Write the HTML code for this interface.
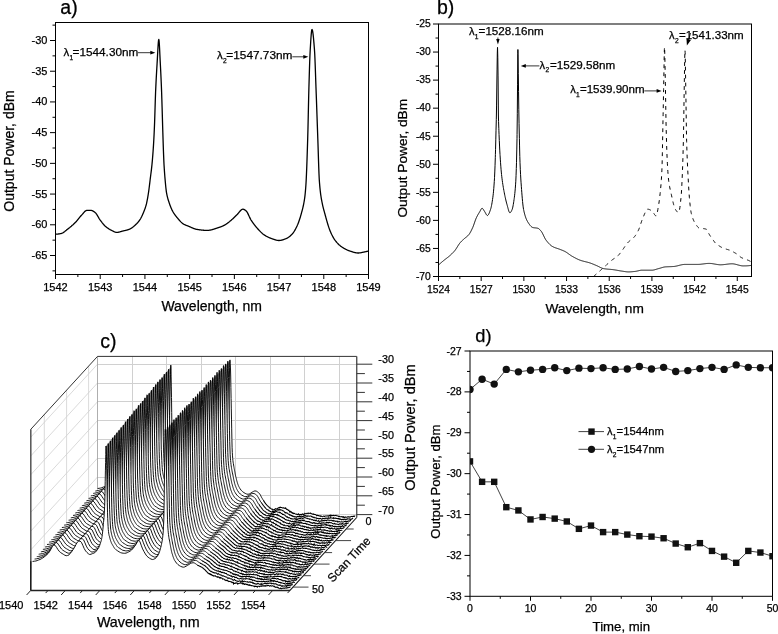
<!DOCTYPE html>
<html><head><meta charset="utf-8"><style>
html,body{margin:0;padding:0;background:#fff;}
svg{display:block;will-change:transform;}
text{font-family:"Liberation Sans",sans-serif;fill:#000;stroke:#000;stroke-width:0.25px;}
</style></head><body>
<svg width="778" height="634" viewBox="0 0 778 634">
<rect width="778" height="634" fill="#fff"/>
<rect x="55.5" y="22.5" width="313.0" height="252.0" fill="none" stroke="#000" stroke-width="1"/>
<line x1="50.00" y1="255.50" x2="55.50" y2="255.50" stroke="#000" stroke-width="1"/>
<text x="47.50" y="259.00" font-size="11" text-anchor="end" >-65</text>
<line x1="50.00" y1="224.79" x2="55.50" y2="224.79" stroke="#000" stroke-width="1"/>
<text x="47.50" y="228.29" font-size="11" text-anchor="end" >-60</text>
<line x1="50.00" y1="194.07" x2="55.50" y2="194.07" stroke="#000" stroke-width="1"/>
<text x="47.50" y="197.57" font-size="11" text-anchor="end" >-55</text>
<line x1="50.00" y1="163.36" x2="55.50" y2="163.36" stroke="#000" stroke-width="1"/>
<text x="47.50" y="166.86" font-size="11" text-anchor="end" >-50</text>
<line x1="50.00" y1="132.64" x2="55.50" y2="132.64" stroke="#000" stroke-width="1"/>
<text x="47.50" y="136.14" font-size="11" text-anchor="end" >-45</text>
<line x1="50.00" y1="101.93" x2="55.50" y2="101.93" stroke="#000" stroke-width="1"/>
<text x="47.50" y="105.43" font-size="11" text-anchor="end" >-40</text>
<line x1="50.00" y1="71.22" x2="55.50" y2="71.22" stroke="#000" stroke-width="1"/>
<text x="47.50" y="74.72" font-size="11" text-anchor="end" >-35</text>
<line x1="50.00" y1="40.50" x2="55.50" y2="40.50" stroke="#000" stroke-width="1"/>
<text x="47.50" y="44.00" font-size="11" text-anchor="end" >-30</text>
<line x1="52.50" y1="270.86" x2="55.50" y2="270.86" stroke="#000" stroke-width="1"/>
<line x1="52.50" y1="240.15" x2="55.50" y2="240.15" stroke="#000" stroke-width="1"/>
<line x1="52.50" y1="209.43" x2="55.50" y2="209.43" stroke="#000" stroke-width="1"/>
<line x1="52.50" y1="178.72" x2="55.50" y2="178.72" stroke="#000" stroke-width="1"/>
<line x1="52.50" y1="148.00" x2="55.50" y2="148.00" stroke="#000" stroke-width="1"/>
<line x1="52.50" y1="117.29" x2="55.50" y2="117.29" stroke="#000" stroke-width="1"/>
<line x1="52.50" y1="86.57" x2="55.50" y2="86.57" stroke="#000" stroke-width="1"/>
<line x1="52.50" y1="55.86" x2="55.50" y2="55.86" stroke="#000" stroke-width="1"/>
<line x1="52.50" y1="25.14" x2="55.50" y2="25.14" stroke="#000" stroke-width="1"/>
<line x1="55.50" y1="274.50" x2="55.50" y2="279.00" stroke="#000" stroke-width="1"/>
<text x="55.50" y="290.60" font-size="11" text-anchor="middle" >1542</text>
<line x1="100.21" y1="274.50" x2="100.21" y2="279.00" stroke="#000" stroke-width="1"/>
<text x="100.21" y="290.60" font-size="11" text-anchor="middle" >1543</text>
<line x1="144.93" y1="274.50" x2="144.93" y2="279.00" stroke="#000" stroke-width="1"/>
<text x="144.93" y="290.60" font-size="11" text-anchor="middle" >1544</text>
<line x1="189.64" y1="274.50" x2="189.64" y2="279.00" stroke="#000" stroke-width="1"/>
<text x="189.64" y="290.60" font-size="11" text-anchor="middle" >1545</text>
<line x1="234.36" y1="274.50" x2="234.36" y2="279.00" stroke="#000" stroke-width="1"/>
<text x="234.36" y="290.60" font-size="11" text-anchor="middle" >1546</text>
<line x1="279.07" y1="274.50" x2="279.07" y2="279.00" stroke="#000" stroke-width="1"/>
<text x="279.07" y="290.60" font-size="11" text-anchor="middle" >1547</text>
<line x1="323.79" y1="274.50" x2="323.79" y2="279.00" stroke="#000" stroke-width="1"/>
<text x="323.79" y="290.60" font-size="11" text-anchor="middle" >1548</text>
<line x1="368.50" y1="274.50" x2="368.50" y2="279.00" stroke="#000" stroke-width="1"/>
<text x="368.50" y="290.60" font-size="11" text-anchor="middle" >1549</text>
<line x1="77.86" y1="274.50" x2="77.86" y2="277.00" stroke="#000" stroke-width="1"/>
<line x1="122.57" y1="274.50" x2="122.57" y2="277.00" stroke="#000" stroke-width="1"/>
<line x1="167.29" y1="274.50" x2="167.29" y2="277.00" stroke="#000" stroke-width="1"/>
<line x1="212.00" y1="274.50" x2="212.00" y2="277.00" stroke="#000" stroke-width="1"/>
<line x1="256.71" y1="274.50" x2="256.71" y2="277.00" stroke="#000" stroke-width="1"/>
<line x1="301.43" y1="274.50" x2="301.43" y2="277.00" stroke="#000" stroke-width="1"/>
<line x1="346.14" y1="274.50" x2="346.14" y2="277.00" stroke="#000" stroke-width="1"/>
<path d="M55.50,234.20 L55.75,234.20 L56.00,234.19 L56.25,234.18 L56.50,234.17 L56.75,234.16 L57.00,234.14 L57.25,234.12 L57.50,234.10 L57.75,234.07 L58.00,234.04 L58.25,234.01 L58.50,233.98 L58.75,233.94 L59.00,233.90 L59.25,233.86 L59.50,233.82 L59.75,233.78 L60.00,233.73 L60.25,233.69 L60.50,233.64 L60.75,233.59 L61.00,233.54 L61.20,233.50 L61.25,233.49 L61.50,233.42 L61.75,233.34 L62.01,233.25 L62.26,233.14 L62.51,233.02 L62.76,232.88 L63.01,232.73 L63.26,232.58 L63.51,232.41 L63.76,232.23 L64.01,232.05 L64.26,231.86 L64.51,231.67 L64.76,231.47 L65.01,231.26 L65.26,231.06 L65.51,230.85 L65.76,230.64 L66.01,230.43 L66.26,230.23 L66.51,230.02 L66.76,229.82 L67.01,229.62 L67.26,229.43 L67.30,229.40 L67.51,229.24 L67.76,229.05 L68.01,228.86 L68.26,228.67 L68.51,228.47 L68.76,228.28 L69.01,228.08 L69.26,227.88 L69.51,227.68 L69.76,227.48 L70.01,227.27 L70.26,227.07 L70.51,226.86 L70.76,226.65 L71.01,226.44 L71.26,226.23 L71.51,226.01 L71.76,225.79 L72.01,225.57 L72.26,225.35 L72.51,225.13 L72.76,224.91 L73.01,224.68 L73.26,224.45 L73.51,224.22 L73.76,223.98 L74.01,223.75 L74.26,223.51 L74.52,223.27 L74.77,223.03 L75.02,222.78 L75.27,222.53 L75.52,222.28 L75.60,222.20 L75.77,222.03 L76.02,221.77 L76.27,221.49 L76.52,221.21 L76.77,220.92 L77.02,220.63 L77.27,220.33 L77.52,220.02 L77.77,219.71 L78.02,219.40 L78.27,219.08 L78.52,218.77 L78.77,218.45 L79.02,218.13 L79.27,217.82 L79.52,217.50 L79.77,217.19 L80.02,216.89 L80.27,216.59 L80.52,216.29 L80.77,216.00 L81.02,215.72 L81.27,215.45 L81.52,215.18 L81.70,215.00 L81.77,214.93 L82.02,214.66 L82.27,214.39 L82.52,214.10 L82.77,213.81 L83.02,213.52 L83.27,213.22 L83.52,212.93 L83.77,212.63 L84.02,212.35 L84.27,212.07 L84.52,211.81 L84.77,211.56 L85.02,211.33 L85.27,211.12 L85.52,210.93 L85.77,210.76 L86.02,210.62 L86.27,210.52 L86.52,210.44 L86.77,210.40 L86.90,210.40 L87.03,210.40 L87.28,210.40 L87.53,210.40 L87.78,210.40 L88.03,210.40 L88.28,210.40 L88.53,210.40 L88.78,210.40 L89.03,210.40 L89.28,210.40 L89.53,210.40 L89.78,210.40 L90.03,210.40 L90.28,210.40 L90.53,210.40 L90.78,210.40 L91.00,210.40 L91.03,210.40 L91.28,210.41 L91.53,210.45 L91.78,210.51 L92.03,210.59 L92.28,210.68 L92.53,210.79 L92.78,210.92 L93.03,211.05 L93.28,211.20 L93.53,211.36 L93.78,211.53 L94.03,211.71 L94.28,211.89 L94.53,212.07 L94.78,212.26 L95.03,212.45 L95.10,212.50 L95.28,212.65 L95.53,212.88 L95.78,213.15 L96.03,213.45 L96.28,213.78 L96.53,214.13 L96.78,214.51 L97.03,214.90 L97.28,215.31 L97.53,215.73 L97.78,216.16 L98.03,216.60 L98.28,217.04 L98.53,217.47 L98.78,217.90 L99.03,218.33 L99.28,218.74 L99.54,219.14 L99.79,219.52 L100.04,219.88 L100.20,220.10 L100.29,220.21 L100.54,220.55 L100.79,220.88 L101.04,221.21 L101.29,221.55 L101.54,221.88 L101.79,222.21 L102.04,222.53 L102.29,222.86 L102.54,223.17 L102.79,223.49 L103.04,223.80 L103.29,224.10 L103.54,224.39 L103.79,224.68 L104.04,224.96 L104.29,225.23 L104.54,225.49 L104.79,225.74 L105.04,225.98 L105.29,226.20 L105.40,226.30 L105.54,226.42 L105.79,226.63 L106.04,226.83 L106.29,227.04 L106.54,227.23 L106.79,227.43 L107.04,227.62 L107.29,227.80 L107.54,227.98 L107.79,228.16 L108.04,228.33 L108.29,228.50 L108.54,228.66 L108.79,228.83 L109.04,228.98 L109.29,229.14 L109.54,229.29 L109.79,229.44 L110.04,229.58 L110.29,229.72 L110.54,229.86 L110.79,229.99 L111.04,230.12 L111.29,230.25 L111.54,230.37 L111.60,230.40 L111.79,230.50 L112.05,230.62 L112.30,230.75 L112.55,230.89 L112.80,231.02 L113.05,231.15 L113.30,231.29 L113.55,231.41 L113.80,231.54 L114.05,231.66 L114.30,231.78 L114.55,231.89 L114.80,231.99 L115.05,232.08 L115.30,232.17 L115.55,232.24 L115.80,232.30 L116.05,232.35 L116.30,232.38 L116.55,232.40 L116.70,232.40 L116.80,232.40 L117.05,232.39 L117.30,232.38 L117.55,232.35 L117.80,232.32 L118.05,232.29 L118.30,232.24 L118.55,232.19 L118.80,232.14 L119.05,232.08 L119.30,232.02 L119.55,231.96 L119.80,231.89 L120.05,231.82 L120.30,231.74 L120.55,231.67 L120.80,231.60 L121.05,231.52 L121.30,231.44 L121.55,231.37 L121.80,231.30 L122.05,231.22 L122.30,231.15 L122.55,231.09 L122.80,231.02 L122.90,231.00 L123.05,230.96 L123.30,230.90 L123.55,230.85 L123.80,230.79 L124.05,230.73 L124.30,230.68 L124.56,230.62 L124.81,230.57 L125.06,230.51 L125.31,230.45 L125.56,230.40 L125.81,230.34 L126.06,230.28 L126.31,230.22 L126.56,230.16 L126.81,230.09 L127.06,230.02 L127.31,229.95 L127.56,229.88 L127.81,229.81 L128.06,229.73 L128.31,229.65 L128.56,229.56 L128.81,229.47 L129.00,229.40 L129.06,229.38 L129.31,229.28 L129.56,229.17 L129.81,229.05 L130.06,228.92 L130.31,228.79 L130.56,228.65 L130.81,228.50 L131.06,228.34 L131.31,228.18 L131.56,228.02 L131.81,227.84 L132.06,227.67 L132.31,227.48 L132.56,227.30 L132.81,227.11 L133.06,226.91 L133.31,226.71 L133.56,226.51 L133.81,226.30 L134.06,226.10 L134.31,225.89 L134.56,225.67 L134.81,225.46 L135.00,225.30 L135.06,225.25 L135.31,225.03 L135.56,224.80 L135.81,224.57 L136.06,224.33 L136.31,224.09 L136.56,223.84 L136.81,223.58 L137.07,223.32 L137.32,223.04 L137.57,222.77 L137.82,222.48 L138.07,222.18 L138.32,221.88 L138.57,221.57 L138.82,221.25 L139.07,220.92 L139.32,220.58 L139.57,220.23 L139.82,219.87 L140.00,219.60 L140.07,219.50 L140.32,219.11 L140.57,218.69 L140.82,218.26 L141.07,217.80 L141.32,217.32 L141.57,216.83 L141.82,216.31 L142.07,215.78 L142.32,215.24 L142.57,214.68 L142.82,214.11 L143.07,213.52 L143.32,212.93 L143.50,212.50 L143.57,212.33 L143.82,211.72 L144.07,211.10 L144.32,210.47 L144.57,209.82 L144.82,209.14 L145.07,208.43 L145.32,207.69 L145.57,206.91 L145.82,206.09 L146.07,205.22 L146.32,204.30 L146.40,204.00 L146.57,203.30 L146.82,202.20 L147.07,200.98 L147.32,199.67 L147.57,198.28 L147.82,196.82 L148.07,195.30 L148.32,193.73 L148.50,192.60 L148.57,192.11 L148.82,190.36 L149.07,188.47 L149.32,186.48 L149.58,184.43 L149.83,182.33 L150.08,180.24 L150.30,178.40 L150.33,178.19 L150.58,176.21 L150.83,174.27 L151.08,172.32 L151.33,170.31 L151.58,168.18 L151.83,165.90 L152.00,164.20 L152.08,163.41 L152.33,160.71 L152.58,157.80 L152.83,154.67 L153.08,151.29 L153.33,147.66 L153.50,145.00 L153.58,143.73 L153.83,139.33 L154.08,134.41 L154.33,128.99 L154.50,125.00 L154.58,123.00 L154.83,115.60 L155.08,107.35 L155.33,99.25 L155.58,92.28 L155.60,91.80 L155.83,86.60 L156.08,81.40 L156.33,76.59 L156.58,72.09 L156.83,67.82 L157.08,63.71 L157.10,63.40 L157.33,59.39 L157.58,54.70 L157.83,50.04 L158.08,45.79 L158.33,42.34 L158.58,40.09 L158.80,39.40 L158.83,39.42 L159.08,40.83 L159.33,44.07 L159.58,48.57 L159.83,53.77 L160.08,59.11 L160.30,63.40 L160.33,64.03 L160.58,68.80 L160.83,73.84 L161.08,79.24 L161.33,85.06 L161.58,91.40 L161.60,91.80 L161.83,98.73 L162.09,107.18 L162.34,116.02 L162.59,124.53 L162.60,125.00 L162.84,132.69 L163.09,140.77 L163.34,148.25 L163.40,150.00 L163.59,154.90 L163.84,160.91 L164.00,164.20 L164.09,165.73 L164.34,169.77 L164.59,173.31 L164.84,176.48 L165.00,178.40 L165.09,179.41 L165.34,182.24 L165.59,184.94 L165.84,187.45 L166.09,189.69 L166.34,191.59 L166.50,192.60 L166.59,193.10 L166.84,194.41 L167.09,195.60 L167.34,196.69 L167.59,197.69 L167.84,198.61 L168.09,199.47 L168.34,200.28 L168.59,201.06 L168.84,201.82 L169.09,202.57 L169.10,202.60 L169.34,203.32 L169.59,204.04 L169.84,204.74 L170.09,205.43 L170.34,206.09 L170.59,206.73 L170.84,207.35 L171.09,207.95 L171.34,208.53 L171.59,209.08 L171.84,209.62 L172.09,210.13 L172.34,210.62 L172.59,211.09 L172.60,211.10 L172.84,211.54 L173.09,211.97 L173.34,212.40 L173.59,212.81 L173.84,213.20 L174.09,213.59 L174.34,213.97 L174.60,214.34 L174.85,214.70 L175.10,215.05 L175.35,215.39 L175.60,215.72 L175.85,216.05 L176.10,216.37 L176.35,216.68 L176.60,216.99 L176.85,217.30 L177.10,217.60 L177.35,217.90 L177.60,218.20 L177.60,218.20 L177.85,218.49 L178.10,218.79 L178.35,219.08 L178.60,219.38 L178.85,219.67 L179.10,219.96 L179.35,220.24 L179.60,220.53 L179.85,220.80 L180.10,221.08 L180.35,221.35 L180.60,221.61 L180.85,221.87 L181.10,222.11 L181.35,222.36 L181.60,222.59 L181.85,222.81 L182.10,223.03 L182.35,223.23 L182.60,223.42 L182.85,223.60 L183.10,223.77 L183.30,223.90 L183.35,223.93 L183.60,224.08 L183.85,224.22 L184.10,224.36 L184.35,224.49 L184.60,224.61 L184.85,224.73 L185.10,224.85 L185.35,224.96 L185.60,225.07 L185.85,225.18 L186.10,225.28 L186.35,225.38 L186.60,225.48 L186.85,225.58 L187.11,225.67 L187.36,225.77 L187.61,225.87 L187.86,225.96 L188.11,226.06 L188.36,226.16 L188.61,226.26 L188.70,226.30 L188.86,226.36 L189.11,226.47 L189.36,226.58 L189.61,226.69 L189.86,226.80 L190.11,226.91 L190.36,227.02 L190.61,227.13 L190.86,227.25 L191.11,227.36 L191.36,227.47 L191.61,227.59 L191.86,227.70 L192.11,227.81 L192.36,227.92 L192.61,228.03 L192.86,228.13 L193.11,228.24 L193.36,228.34 L193.61,228.44 L193.86,228.54 L194.11,228.63 L194.36,228.72 L194.61,228.81 L194.86,228.89 L195.11,228.97 L195.36,229.05 L195.61,229.12 L195.86,229.19 L196.11,229.25 L196.36,229.30 L196.61,229.35 L196.86,229.39 L196.90,229.40 L197.11,229.43 L197.36,229.47 L197.61,229.51 L197.86,229.55 L198.11,229.59 L198.36,229.63 L198.61,229.66 L198.86,229.70 L199.11,229.73 L199.36,229.77 L199.62,229.80 L199.87,229.84 L200.12,229.87 L200.37,229.90 L200.62,229.94 L200.87,229.97 L201.12,230.00 L201.37,230.03 L201.62,230.06 L201.87,230.08 L202.12,230.11 L202.37,230.14 L202.62,230.16 L202.87,230.18 L203.12,230.21 L203.37,230.23 L203.62,230.25 L203.87,230.27 L204.12,230.29 L204.37,230.30 L204.62,230.32 L204.87,230.33 L205.12,230.35 L205.37,230.36 L205.62,230.37 L205.87,230.38 L206.12,230.39 L206.37,230.39 L206.62,230.40 L206.87,230.40 L207.12,230.40 L207.20,230.40 L207.37,230.40 L207.62,230.39 L207.87,230.38 L208.12,230.37 L208.37,230.35 L208.62,230.33 L208.87,230.30 L209.12,230.27 L209.37,230.23 L209.62,230.19 L209.87,230.15 L210.12,230.11 L210.37,230.06 L210.62,230.01 L210.87,229.95 L211.12,229.90 L211.37,229.84 L211.62,229.77 L211.87,229.71 L212.13,229.64 L212.38,229.57 L212.63,229.50 L212.88,229.43 L213.13,229.35 L213.38,229.28 L213.63,229.20 L213.88,229.12 L214.13,229.04 L214.38,228.96 L214.63,228.88 L214.88,228.80 L215.13,228.71 L215.38,228.63 L215.63,228.55 L215.88,228.46 L216.13,228.38 L216.38,228.29 L216.63,228.21 L216.88,228.13 L217.13,228.04 L217.38,227.96 L217.63,227.88 L217.88,227.80 L218.13,227.72 L218.20,227.70 L218.38,227.64 L218.63,227.56 L218.88,227.48 L219.13,227.40 L219.38,227.32 L219.63,227.23 L219.88,227.14 L220.13,227.05 L220.38,226.96 L220.63,226.87 L220.88,226.77 L221.13,226.68 L221.38,226.58 L221.63,226.48 L221.88,226.37 L222.13,226.27 L222.38,226.16 L222.63,226.05 L222.88,225.94 L223.13,225.82 L223.38,225.70 L223.63,225.58 L223.88,225.46 L224.13,225.34 L224.38,225.21 L224.40,225.20 L224.64,225.08 L224.89,224.94 L225.14,224.79 L225.39,224.64 L225.64,224.49 L225.89,224.32 L226.14,224.16 L226.39,223.99 L226.64,223.81 L226.89,223.63 L227.14,223.45 L227.39,223.27 L227.64,223.08 L227.89,222.89 L228.14,222.69 L228.39,222.49 L228.64,222.30 L228.89,222.10 L229.14,221.89 L229.39,221.69 L229.64,221.49 L229.89,221.28 L230.14,221.08 L230.39,220.87 L230.60,220.70 L230.64,220.67 L230.89,220.46 L231.14,220.25 L231.39,220.03 L231.64,219.81 L231.89,219.59 L232.14,219.36 L232.39,219.13 L232.64,218.90 L232.89,218.66 L233.14,218.43 L233.39,218.19 L233.64,217.95 L233.89,217.71 L234.14,217.46 L234.39,217.22 L234.64,216.98 L234.89,216.73 L235.14,216.49 L235.39,216.25 L235.64,216.00 L235.89,215.76 L236.14,215.52 L236.39,215.29 L236.64,215.05 L236.70,215.00 L236.89,214.81 L237.15,214.56 L237.40,214.29 L237.65,214.00 L237.90,213.71 L238.15,213.41 L238.40,213.10 L238.65,212.79 L238.90,212.48 L239.15,212.16 L239.40,211.86 L239.65,211.56 L239.90,211.26 L240.15,210.98 L240.40,210.71 L240.65,210.45 L240.90,210.21 L241.15,210.00 L241.40,209.80 L241.65,209.62 L241.90,209.48 L242.15,209.36 L242.40,209.27 L242.65,209.22 L242.90,209.20 L242.90,209.20 L243.15,209.22 L243.40,209.26 L243.65,209.33 L243.90,209.42 L244.15,209.54 L244.40,209.67 L244.65,209.82 L244.90,209.99 L245.15,210.16 L245.40,210.34 L245.65,210.53 L245.90,210.72 L246.00,210.80 L246.15,210.93 L246.40,211.18 L246.65,211.49 L246.90,211.84 L247.15,212.23 L247.40,212.66 L247.65,213.12 L247.90,213.61 L248.15,214.12 L248.40,214.65 L248.65,215.18 L248.90,215.73 L249.15,216.28 L249.40,216.83 L249.66,217.37 L249.91,217.89 L250.16,218.40 L250.41,218.89 L250.66,219.36 L250.91,219.79 L251.10,220.10 L251.16,220.19 L251.41,220.57 L251.66,220.95 L251.91,221.32 L252.16,221.69 L252.41,222.05 L252.66,222.41 L252.91,222.77 L253.16,223.12 L253.41,223.47 L253.66,223.81 L253.91,224.15 L254.16,224.48 L254.41,224.81 L254.66,225.14 L254.91,225.46 L255.16,225.77 L255.41,226.08 L255.66,226.39 L255.91,226.70 L256.16,226.99 L256.41,227.29 L256.66,227.58 L256.91,227.86 L257.16,228.15 L257.30,228.30 L257.41,228.42 L257.66,228.70 L257.91,228.98 L258.16,229.25 L258.41,229.52 L258.66,229.80 L258.91,230.07 L259.16,230.33 L259.41,230.60 L259.66,230.86 L259.91,231.12 L260.16,231.38 L260.41,231.63 L260.66,231.89 L260.91,232.13 L261.16,232.37 L261.41,232.61 L261.66,232.85 L261.91,233.08 L262.17,233.30 L262.42,233.52 L262.67,233.73 L262.92,233.94 L263.17,234.14 L263.42,234.34 L263.67,234.52 L263.92,234.71 L264.17,234.88 L264.42,235.05 L264.50,235.10 L264.67,235.21 L264.92,235.36 L265.17,235.52 L265.42,235.67 L265.67,235.82 L265.92,235.96 L266.17,236.11 L266.42,236.25 L266.67,236.38 L266.92,236.52 L267.17,236.65 L267.42,236.78 L267.67,236.91 L267.92,237.03 L268.17,237.15 L268.42,237.27 L268.67,237.39 L268.92,237.50 L269.17,237.61 L269.42,237.72 L269.67,237.83 L269.92,237.93 L270.17,238.03 L270.42,238.13 L270.67,238.23 L270.92,238.32 L271.17,238.41 L271.42,238.50 L271.67,238.59 L271.70,238.60 L271.92,238.68 L272.17,238.76 L272.42,238.85 L272.67,238.94 L272.92,239.03 L273.17,239.13 L273.42,239.22 L273.67,239.31 L273.92,239.40 L274.17,239.48 L274.42,239.57 L274.68,239.66 L274.93,239.74 L275.18,239.82 L275.43,239.90 L275.68,239.97 L275.93,240.04 L276.18,240.11 L276.43,240.17 L276.68,240.23 L276.93,240.28 L277.18,240.33 L277.43,240.38 L277.68,240.41 L277.93,240.44 L278.18,240.47 L278.43,240.49 L278.68,240.50 L278.90,240.50 L278.93,240.50 L279.18,240.50 L279.43,240.49 L279.68,240.47 L279.93,240.44 L280.18,240.42 L280.43,240.38 L280.68,240.34 L280.93,240.29 L281.18,240.24 L281.43,240.19 L281.68,240.13 L281.93,240.07 L282.18,240.00 L282.43,239.93 L282.68,239.85 L282.93,239.77 L283.18,239.69 L283.43,239.61 L283.68,239.52 L283.93,239.43 L284.18,239.34 L284.43,239.25 L284.68,239.15 L284.93,239.06 L285.18,238.96 L285.43,238.86 L285.68,238.76 L285.93,238.67 L286.10,238.60 L286.18,238.57 L286.43,238.46 L286.68,238.35 L286.93,238.22 L287.19,238.09 L287.44,237.95 L287.69,237.81 L287.94,237.65 L288.19,237.49 L288.44,237.32 L288.69,237.15 L288.94,236.97 L289.19,236.78 L289.44,236.58 L289.69,236.38 L289.94,236.17 L290.19,235.95 L290.44,235.73 L290.69,235.50 L290.94,235.27 L291.19,235.03 L291.44,234.79 L291.69,234.53 L291.94,234.28 L292.19,234.02 L292.30,233.90 L292.44,233.75 L292.69,233.46 L292.94,233.16 L293.19,232.83 L293.44,232.49 L293.69,232.14 L293.94,231.76 L294.19,231.37 L294.44,230.97 L294.69,230.55 L294.94,230.11 L295.19,229.66 L295.44,229.20 L295.69,228.73 L295.94,228.24 L296.19,227.75 L296.44,227.24 L296.69,226.72 L296.94,226.19 L297.19,225.65 L297.40,225.20 L297.44,225.10 L297.69,224.54 L297.94,223.94 L298.19,223.32 L298.44,222.67 L298.69,221.99 L298.94,221.30 L299.19,220.57 L299.44,219.83 L299.70,219.06 L299.95,218.27 L300.20,217.45 L300.45,216.62 L300.70,215.77 L300.95,214.90 L301.20,214.01 L301.45,213.10 L301.50,212.90 L301.70,212.18 L301.95,211.26 L302.20,210.32 L302.45,209.37 L302.70,208.38 L302.95,207.34 L303.20,206.24 L303.45,205.08 L303.70,203.83 L303.95,202.50 L304.20,201.05 L304.45,199.50 L304.60,198.50 L304.70,197.81 L304.95,195.83 L305.20,193.51 L305.45,190.83 L305.70,187.76 L305.90,185.00 L305.95,184.25 L306.20,179.90 L306.45,174.59 L306.70,168.48 L306.95,161.68 L307.20,154.34 L307.45,146.59 L307.70,138.60 L307.70,138.55 L307.95,129.20 L308.20,118.19 L308.45,106.63 L308.70,95.64 L308.90,88.10 L308.95,86.29 L309.20,77.66 L309.45,69.34 L309.70,61.73 L309.95,55.20 L310.20,50.20 L310.20,50.14 L310.45,45.92 L310.70,41.83 L310.95,38.05 L311.20,34.75 L311.45,32.11 L311.70,30.30 L311.95,29.52 L312.00,29.50 L312.21,29.69 L312.46,30.43 L312.71,31.65 L312.96,33.32 L313.21,35.38 L313.46,37.77 L313.71,40.45 L313.96,43.35 L314.21,46.44 L314.46,49.64 L314.50,50.20 L314.71,53.52 L314.96,58.92 L315.21,65.43 L315.46,72.58 L315.71,79.91 L315.96,86.97 L316.00,88.10 L316.21,93.70 L316.46,100.60 L316.71,107.63 L316.96,114.74 L317.21,121.89 L317.46,129.01 L317.71,136.07 L317.80,138.60 L317.96,143.23 L318.21,151.02 L318.46,158.99 L318.71,166.60 L318.96,173.30 L319.21,178.57 L319.30,180.00 L319.46,182.24 L319.71,185.37 L319.96,188.12 L320.21,190.54 L320.46,192.67 L320.71,194.56 L320.96,196.26 L321.00,196.50 L321.21,197.82 L321.46,199.30 L321.71,200.69 L321.96,202.00 L322.21,203.23 L322.46,204.41 L322.71,205.52 L322.96,206.59 L323.21,207.61 L323.46,208.59 L323.71,209.55 L323.96,210.48 L324.21,211.40 L324.46,212.31 L324.72,213.22 L324.97,214.13 L325.20,215.00 L325.22,215.06 L325.47,215.99 L325.72,216.92 L325.97,217.84 L326.22,218.75 L326.47,219.65 L326.72,220.55 L326.97,221.43 L327.22,222.30 L327.47,223.15 L327.72,223.99 L327.97,224.81 L328.22,225.61 L328.47,226.40 L328.72,227.16 L328.97,227.90 L329.22,228.61 L329.47,229.30 L329.72,229.97 L329.97,230.60 L330.22,231.21 L330.30,231.40 L330.47,231.79 L330.72,232.36 L330.97,232.92 L331.22,233.46 L331.47,233.99 L331.72,234.52 L331.97,235.02 L332.22,235.52 L332.47,236.00 L332.72,236.47 L332.97,236.93 L333.22,237.38 L333.47,237.81 L333.72,238.23 L333.97,238.64 L334.22,239.03 L334.47,239.41 L334.72,239.78 L334.97,240.13 L335.22,240.47 L335.40,240.70 L335.47,240.79 L335.72,241.11 L335.97,241.42 L336.22,241.73 L336.47,242.03 L336.72,242.32 L336.97,242.61 L337.23,242.89 L337.48,243.16 L337.73,243.43 L337.98,243.69 L338.23,243.95 L338.48,244.20 L338.73,244.44 L338.98,244.68 L339.23,244.91 L339.48,245.13 L339.73,245.35 L339.98,245.57 L340.23,245.77 L340.48,245.97 L340.73,246.17 L340.98,246.36 L341.23,246.54 L341.48,246.72 L341.60,246.80 L341.73,246.89 L341.98,247.06 L342.23,247.22 L342.48,247.39 L342.73,247.55 L342.98,247.71 L343.23,247.86 L343.48,248.02 L343.73,248.17 L343.98,248.32 L344.23,248.46 L344.48,248.60 L344.73,248.74 L344.98,248.88 L345.23,249.02 L345.48,249.15 L345.73,249.28 L345.98,249.41 L346.23,249.53 L346.48,249.65 L346.73,249.77 L346.98,249.89 L347.23,250.00 L347.48,250.11 L347.73,250.22 L347.98,250.33 L348.23,250.43 L348.48,250.53 L348.73,250.62 L348.98,250.72 L349.23,250.81 L349.48,250.89 L349.74,250.98 L349.80,251.00 L349.99,251.06 L350.24,251.14 L350.49,251.23 L350.74,251.31 L350.99,251.40 L351.24,251.48 L351.49,251.57 L351.74,251.65 L351.99,251.73 L352.24,251.81 L352.49,251.90 L352.74,251.98 L352.99,252.06 L353.24,252.13 L353.49,252.21 L353.74,252.28 L353.99,252.35 L354.24,252.42 L354.49,252.48 L354.74,252.55 L354.99,252.61 L355.24,252.66 L355.49,252.72 L355.74,252.76 L355.99,252.81 L356.24,252.85 L356.49,252.89 L356.74,252.92 L356.99,252.94 L357.24,252.97 L357.49,252.98 L357.74,252.99 L357.99,253.00 L358.10,253.00 L358.24,253.00 L358.49,252.99 L358.74,252.98 L358.99,252.96 L359.24,252.94 L359.49,252.92 L359.74,252.88 L359.99,252.85 L360.24,252.81 L360.49,252.77 L360.74,252.73 L360.99,252.68 L361.24,252.63 L361.49,252.58 L361.74,252.53 L361.99,252.47 L362.25,252.42 L362.50,252.36 L362.75,252.31 L363.00,252.25 L363.25,252.20 L363.50,252.14 L363.75,252.09 L364.00,252.04 L364.20,252.00 L364.25,251.99 L364.50,251.94 L364.75,251.89 L365.00,251.84 L365.25,251.78 L365.50,251.73 L365.75,251.67 L366.00,251.62 L366.25,251.56 L366.50,251.50 L366.75,251.44 L367.00,251.38 L367.25,251.32 L367.50,251.26 L367.75,251.19 L368.00,251.13 L368.25,251.07 L368.50,251.00" fill="none" stroke="#000" stroke-width="1.3" stroke-linejoin="round"/>
<text x="60.30" y="13.90" font-size="19.5" text-anchor="start" >a)</text>
<text transform="translate(14.3,151) rotate(-90)" font-size="14" text-anchor="middle">Output Power, dBm</text>
<text x="211.70" y="311.30" font-size="14" text-anchor="middle" >Wavelength, nm</text>
<text x="63.40" y="55.90" font-size="11.5">λ</text>
<text x="69.38" y="59.80" font-size="6.6">1</text>
<text x="72.60" y="55.90" font-size="11.5" textLength="65.70" lengthAdjust="spacingAndGlyphs" >=1544.30nm</text>
<line x1="138.00" y1="52.70" x2="151.30" y2="52.70" stroke="#000" stroke-width="0.8"/>
<path d="M155.30,52.70 L150.30,54.60 L150.30,50.80 Z" fill="#000"/>
<text x="216.90" y="59.20" font-size="11.5">λ</text>
<text x="222.88" y="63.10" font-size="6.6">2</text>
<text x="226.30" y="59.20" font-size="11.5" textLength="66.20" lengthAdjust="spacingAndGlyphs" >=1547.73nm</text>
<line x1="292.30" y1="56.80" x2="304.30" y2="56.80" stroke="#000" stroke-width="0.8"/>
<path d="M308.30,56.80 L303.30,58.70 L303.30,54.90 Z" fill="#000"/>
<rect x="438.5" y="24.0" width="313.0" height="252.5" fill="none" stroke="#000" stroke-width="1"/>
<line x1="433.00" y1="276.50" x2="438.50" y2="276.50" stroke="#000" stroke-width="1"/>
<text x="430.80" y="279.80" font-size="10.3" text-anchor="end" >-70</text>
<line x1="433.00" y1="248.44" x2="438.50" y2="248.44" stroke="#000" stroke-width="1"/>
<text x="430.80" y="251.74" font-size="10.3" text-anchor="end" >-65</text>
<line x1="433.00" y1="220.39" x2="438.50" y2="220.39" stroke="#000" stroke-width="1"/>
<text x="430.80" y="223.69" font-size="10.3" text-anchor="end" >-60</text>
<line x1="433.00" y1="192.33" x2="438.50" y2="192.33" stroke="#000" stroke-width="1"/>
<text x="430.80" y="195.63" font-size="10.3" text-anchor="end" >-55</text>
<line x1="433.00" y1="164.28" x2="438.50" y2="164.28" stroke="#000" stroke-width="1"/>
<text x="430.80" y="167.58" font-size="10.3" text-anchor="end" >-50</text>
<line x1="433.00" y1="136.22" x2="438.50" y2="136.22" stroke="#000" stroke-width="1"/>
<text x="430.80" y="139.52" font-size="10.3" text-anchor="end" >-45</text>
<line x1="433.00" y1="108.17" x2="438.50" y2="108.17" stroke="#000" stroke-width="1"/>
<text x="430.80" y="111.47" font-size="10.3" text-anchor="end" >-40</text>
<line x1="433.00" y1="80.11" x2="438.50" y2="80.11" stroke="#000" stroke-width="1"/>
<text x="430.80" y="83.41" font-size="10.3" text-anchor="end" >-35</text>
<line x1="433.00" y1="52.06" x2="438.50" y2="52.06" stroke="#000" stroke-width="1"/>
<text x="430.80" y="55.36" font-size="10.3" text-anchor="end" >-30</text>
<line x1="433.00" y1="24.00" x2="438.50" y2="24.00" stroke="#000" stroke-width="1"/>
<text x="430.80" y="27.30" font-size="10.3" text-anchor="end" >-25</text>
<line x1="435.50" y1="262.47" x2="438.50" y2="262.47" stroke="#000" stroke-width="1"/>
<line x1="435.50" y1="234.42" x2="438.50" y2="234.42" stroke="#000" stroke-width="1"/>
<line x1="435.50" y1="206.36" x2="438.50" y2="206.36" stroke="#000" stroke-width="1"/>
<line x1="435.50" y1="178.31" x2="438.50" y2="178.31" stroke="#000" stroke-width="1"/>
<line x1="435.50" y1="150.25" x2="438.50" y2="150.25" stroke="#000" stroke-width="1"/>
<line x1="435.50" y1="122.19" x2="438.50" y2="122.19" stroke="#000" stroke-width="1"/>
<line x1="435.50" y1="94.14" x2="438.50" y2="94.14" stroke="#000" stroke-width="1"/>
<line x1="435.50" y1="66.08" x2="438.50" y2="66.08" stroke="#000" stroke-width="1"/>
<line x1="435.50" y1="38.03" x2="438.50" y2="38.03" stroke="#000" stroke-width="1"/>
<line x1="438.50" y1="276.50" x2="438.50" y2="281.00" stroke="#000" stroke-width="1"/>
<text x="438.50" y="292.60" font-size="10.3" text-anchor="middle" >1524</text>
<line x1="481.18" y1="276.50" x2="481.18" y2="281.00" stroke="#000" stroke-width="1"/>
<text x="481.18" y="292.60" font-size="10.3" text-anchor="middle" >1527</text>
<line x1="523.86" y1="276.50" x2="523.86" y2="281.00" stroke="#000" stroke-width="1"/>
<text x="523.86" y="292.60" font-size="10.3" text-anchor="middle" >1530</text>
<line x1="566.55" y1="276.50" x2="566.55" y2="281.00" stroke="#000" stroke-width="1"/>
<text x="566.55" y="292.60" font-size="10.3" text-anchor="middle" >1533</text>
<line x1="609.23" y1="276.50" x2="609.23" y2="281.00" stroke="#000" stroke-width="1"/>
<text x="609.23" y="292.60" font-size="10.3" text-anchor="middle" >1536</text>
<line x1="651.91" y1="276.50" x2="651.91" y2="281.00" stroke="#000" stroke-width="1"/>
<text x="651.91" y="292.60" font-size="10.3" text-anchor="middle" >1539</text>
<line x1="694.59" y1="276.50" x2="694.59" y2="281.00" stroke="#000" stroke-width="1"/>
<text x="694.59" y="292.60" font-size="10.3" text-anchor="middle" >1542</text>
<line x1="737.27" y1="276.50" x2="737.27" y2="281.00" stroke="#000" stroke-width="1"/>
<text x="737.27" y="292.60" font-size="10.3" text-anchor="middle" >1545</text>
<line x1="459.84" y1="276.50" x2="459.84" y2="279.00" stroke="#000" stroke-width="1"/>
<line x1="502.52" y1="276.50" x2="502.52" y2="279.00" stroke="#000" stroke-width="1"/>
<line x1="545.20" y1="276.50" x2="545.20" y2="279.00" stroke="#000" stroke-width="1"/>
<line x1="587.89" y1="276.50" x2="587.89" y2="279.00" stroke="#000" stroke-width="1"/>
<line x1="630.57" y1="276.50" x2="630.57" y2="279.00" stroke="#000" stroke-width="1"/>
<line x1="673.25" y1="276.50" x2="673.25" y2="279.00" stroke="#000" stroke-width="1"/>
<line x1="715.93" y1="276.50" x2="715.93" y2="279.00" stroke="#000" stroke-width="1"/>
<path d="M438.50,265.00 L438.75,264.78 L439.00,264.55 L439.25,264.33 L439.50,264.11 L439.75,263.89 L440.00,263.67 L440.25,263.45 L440.50,263.23 L440.75,263.02 L441.00,262.80 L441.25,262.58 L441.50,262.37 L441.75,262.15 L442.00,261.94 L442.25,261.73 L442.50,261.52 L442.75,261.31 L443.00,261.10 L443.25,260.89 L443.50,260.68 L443.60,260.60 L443.75,260.47 L444.00,260.27 L444.25,260.07 L444.50,259.87 L444.75,259.67 L445.01,259.48 L445.26,259.29 L445.51,259.10 L445.76,258.91 L446.01,258.72 L446.26,258.53 L446.51,258.34 L446.76,258.15 L447.01,257.96 L447.26,257.77 L447.51,257.57 L447.76,257.38 L448.01,257.18 L448.26,256.99 L448.51,256.78 L448.76,256.58 L449.01,256.37 L449.26,256.16 L449.51,255.95 L449.76,255.73 L449.90,255.60 L450.01,255.50 L450.26,255.28 L450.51,255.05 L450.76,254.82 L451.01,254.59 L451.26,254.35 L451.51,254.12 L451.76,253.88 L452.01,253.63 L452.26,253.38 L452.51,253.13 L452.76,252.88 L453.01,252.62 L453.26,252.36 L453.51,252.09 L453.76,251.81 L454.01,251.54 L454.26,251.25 L454.51,250.96 L454.76,250.66 L454.90,250.50 L455.01,250.36 L455.26,250.04 L455.51,249.70 L455.76,249.34 L456.01,248.97 L456.26,248.59 L456.51,248.20 L456.76,247.80 L457.01,247.39 L457.26,246.99 L457.52,246.58 L457.77,246.17 L458.02,245.76 L458.27,245.36 L458.52,244.97 L458.77,244.59 L459.02,244.21 L459.27,243.85 L459.52,243.51 L459.77,243.19 L460.00,242.90 L460.02,242.88 L460.27,242.59 L460.52,242.31 L460.77,242.03 L461.02,241.77 L461.27,241.51 L461.52,241.26 L461.77,241.01 L462.02,240.77 L462.27,240.53 L462.52,240.29 L462.77,240.06 L463.02,239.83 L463.27,239.59 L463.52,239.36 L463.77,239.13 L463.80,239.10 L464.02,238.90 L464.27,238.68 L464.52,238.46 L464.77,238.26 L465.02,238.06 L465.27,237.86 L465.52,237.67 L465.77,237.48 L466.02,237.28 L466.27,237.09 L466.52,236.89 L466.77,236.69 L467.02,236.48 L467.27,236.26 L467.52,236.04 L467.77,235.80 L468.02,235.56 L468.27,235.30 L468.52,235.02 L468.77,234.73 L468.80,234.70 L469.02,234.42 L469.27,234.08 L469.52,233.71 L469.77,233.32 L470.03,232.91 L470.28,232.48 L470.53,232.03 L470.78,231.56 L471.03,231.08 L471.28,230.58 L471.53,230.07 L471.78,229.55 L472.03,229.03 L472.28,228.49 L472.53,227.96 L472.60,227.80 L472.78,227.40 L473.03,226.81 L473.28,226.17 L473.53,225.51 L473.78,224.81 L474.03,224.10 L474.28,223.38 L474.53,222.65 L474.78,221.92 L475.03,221.20 L475.28,220.50 L475.53,219.81 L475.78,219.16 L476.03,218.54 L476.28,217.96 L476.40,217.70 L476.53,217.43 L476.78,216.91 L477.03,216.42 L477.28,215.94 L477.53,215.48 L477.78,215.03 L478.03,214.59 L478.28,214.16 L478.53,213.74 L478.78,213.33 L479.03,212.92 L479.28,212.51 L479.53,212.11 L479.60,212.00 L479.78,211.69 L480.03,211.23 L480.28,210.74 L480.53,210.25 L480.78,209.77 L481.03,209.32 L481.28,208.94 L481.53,208.62 L481.78,208.41 L482.03,208.30 L482.10,208.30 L482.28,208.33 L482.54,208.47 L482.79,208.71 L483.04,209.01 L483.29,209.38 L483.54,209.78 L483.79,210.20 L484.04,210.63 L484.29,211.04 L484.54,211.41 L484.60,211.50 L484.79,211.77 L485.04,212.18 L485.29,212.63 L485.54,213.10 L485.79,213.58 L486.04,214.04 L486.29,214.47 L486.54,214.84 L486.79,215.15 L487.04,215.37 L487.29,215.49 L487.40,215.50 L487.54,215.48 L487.79,215.37 L488.04,215.15 L488.29,214.84 L488.54,214.45 L488.79,213.98 L489.04,213.46 L489.29,212.88 L489.54,212.25 L489.79,211.59 L490.04,210.90 L490.29,210.19 L490.50,209.60 L490.54,209.48 L490.79,208.68 L491.04,207.74 L491.29,206.68 L491.54,205.49 L491.79,204.18 L492.04,202.76 L492.29,201.21 L492.54,199.55 L492.79,197.79 L492.90,197.00 L493.04,195.88 L493.29,193.70 L493.54,191.18 L493.79,188.32 L494.04,185.07 L494.29,181.42 L494.50,178.10 L494.54,177.31 L494.79,171.96 L495.05,165.28 L495.30,157.72 L495.40,154.40 L495.55,149.29 L495.80,139.18 L496.00,130.80 L496.05,129.04 L496.30,119.70 L496.40,115.00 L496.55,105.96 L496.80,87.03 L496.90,80.00 L497.05,69.94 L497.30,53.20 L497.50,47.30 L497.55,47.61 L497.80,57.68 L498.05,75.91 L498.10,80.00 L498.30,105.03 L498.40,115.00 L498.55,121.36 L498.80,128.27 L498.90,130.80 L499.05,134.60 L499.30,140.59 L499.55,146.04 L499.80,150.91 L500.00,154.40 L500.05,155.20 L500.30,159.11 L500.55,162.77 L500.80,166.15 L501.05,169.25 L501.30,172.05 L501.55,174.54 L501.60,175.00 L501.80,176.77 L502.05,178.83 L502.30,180.76 L502.55,182.55 L502.80,184.24 L503.05,185.82 L503.30,187.33 L503.55,188.77 L503.80,190.17 L503.90,190.70 L504.05,191.52 L504.30,192.84 L504.55,194.12 L504.80,195.36 L505.05,196.56 L505.30,197.72 L505.55,198.84 L505.80,199.92 L506.05,200.97 L506.30,201.97 L506.55,202.93 L506.80,203.86 L507.05,204.74 L507.10,204.90 L507.30,205.63 L507.56,206.55 L507.81,207.51 L508.06,208.46 L508.31,209.37 L508.56,210.24 L508.81,211.02 L509.06,211.69 L509.31,212.23 L509.56,212.60 L509.81,212.78 L509.90,212.80 L510.06,212.78 L510.31,212.65 L510.56,212.43 L510.81,212.12 L511.06,211.73 L511.31,211.29 L511.56,210.79 L511.81,210.26 L512.06,209.69 L512.10,209.60 L512.31,209.04 L512.56,208.17 L512.81,207.11 L513.06,205.87 L513.31,204.48 L513.56,202.95 L513.81,201.32 L514.06,199.59 L514.20,198.60 L514.31,197.79 L514.56,195.82 L514.81,193.62 L515.06,191.10 L515.31,188.20 L515.56,184.86 L515.80,181.20 L515.81,181.00 L516.06,175.70 L516.31,168.55 L516.50,162.30 L516.56,160.04 L516.81,149.05 L517.00,138.70 L517.06,134.63 L517.30,115.00 L517.31,113.75 L517.56,84.16 L517.60,80.00 L517.81,53.73 L517.90,49.50 L518.06,54.81 L518.31,73.74 L518.40,80.00 L518.56,91.61 L518.81,109.73 L518.90,115.00 L519.06,123.62 L519.31,135.01 L519.40,138.70 L519.56,145.94 L519.81,156.34 L520.00,162.30 L520.07,163.96 L520.32,169.75 L520.57,174.69 L520.82,178.97 L521.07,182.75 L521.30,186.00 L521.32,186.22 L521.57,189.55 L521.82,192.79 L522.07,195.88 L522.32,198.81 L522.57,201.52 L522.82,203.97 L523.07,206.14 L523.32,207.97 L523.57,209.44 L523.60,209.60 L523.82,210.63 L524.07,211.75 L524.32,212.80 L524.57,213.78 L524.82,214.70 L525.07,215.56 L525.32,216.37 L525.57,217.12 L525.82,217.82 L526.07,218.47 L526.32,219.08 L526.57,219.65 L526.82,220.18 L527.07,220.68 L527.32,221.15 L527.57,221.58 L527.70,221.80 L527.82,222.00 L528.07,222.41 L528.32,222.81 L528.57,223.20 L528.82,223.58 L529.07,223.95 L529.32,224.31 L529.57,224.66 L529.82,224.99 L530.07,225.31 L530.32,225.61 L530.57,225.90 L530.82,226.17 L531.07,226.41 L531.32,226.64 L531.57,226.85 L531.82,227.03 L532.07,227.19 L532.32,227.32 L532.58,227.43 L532.80,227.50 L532.83,227.51 L533.08,227.57 L533.33,227.63 L533.58,227.68 L533.83,227.72 L534.08,227.76 L534.33,227.79 L534.58,227.82 L534.83,227.84 L535.08,227.87 L535.33,227.89 L535.58,227.92 L535.83,227.94 L536.08,227.97 L536.33,228.00 L536.58,228.03 L536.83,228.07 L537.08,228.11 L537.33,228.16 L537.58,228.22 L537.83,228.28 L537.90,228.30 L538.08,228.36 L538.33,228.47 L538.58,228.62 L538.83,228.79 L539.08,228.99 L539.33,229.21 L539.58,229.44 L539.83,229.70 L540.08,229.96 L540.33,230.24 L540.58,230.52 L540.83,230.81 L541.00,231.00 L541.08,231.10 L541.33,231.42 L541.58,231.78 L541.83,232.17 L542.08,232.60 L542.33,233.05 L542.58,233.53 L542.83,234.02 L543.08,234.53 L543.33,235.05 L543.58,235.57 L543.83,236.10 L544.08,236.62 L544.33,237.13 L544.58,237.64 L544.83,238.12 L545.09,238.59 L545.34,239.04 L545.59,239.45 L545.84,239.83 L546.09,240.18 L546.10,240.20 L546.34,240.51 L546.59,240.82 L546.84,241.14 L547.09,241.45 L547.34,241.76 L547.59,242.06 L547.84,242.36 L548.09,242.65 L548.34,242.93 L548.59,243.21 L548.84,243.48 L549.09,243.75 L549.34,244.01 L549.59,244.26 L549.84,244.50 L550.09,244.73 L550.34,244.96 L550.59,245.18 L550.84,245.39 L551.09,245.58 L551.34,245.77 L551.59,245.95 L551.84,246.12 L552.09,246.28 L552.30,246.40 L552.34,246.42 L552.59,246.56 L552.84,246.69 L553.09,246.82 L553.34,246.94 L553.59,247.06 L553.84,247.17 L554.09,247.28 L554.34,247.39 L554.59,247.49 L554.84,247.59 L555.09,247.68 L555.34,247.77 L555.59,247.86 L555.84,247.95 L556.09,248.04 L556.34,248.12 L556.59,248.21 L556.84,248.29 L557.09,248.37 L557.34,248.46 L557.60,248.54 L557.85,248.62 L558.10,248.70 L558.35,248.79 L558.60,248.88 L558.85,248.96 L559.10,249.05 L559.35,249.15 L559.60,249.24 L559.85,249.34 L560.00,249.40 L560.10,249.44 L560.35,249.54 L560.60,249.64 L560.85,249.74 L561.10,249.83 L561.35,249.93 L561.60,250.03 L561.85,250.13 L562.10,250.22 L562.35,250.32 L562.60,250.42 L562.85,250.53 L563.10,250.63 L563.35,250.73 L563.60,250.84 L563.85,250.95 L564.10,251.07 L564.35,251.18 L564.60,251.30 L564.85,251.42 L565.00,251.50 L565.10,251.55 L565.35,251.69 L565.60,251.83 L565.85,251.98 L566.10,252.13 L566.35,252.29 L566.60,252.46 L566.85,252.62 L567.10,252.80 L567.35,252.97 L567.60,253.15 L567.85,253.33 L568.10,253.51 L568.35,253.70 L568.60,253.88 L568.85,254.07 L569.10,254.25 L569.35,254.43 L569.60,254.61 L569.85,254.79 L570.11,254.97 L570.36,255.14 L570.61,255.31 L570.86,255.48 L571.11,255.64 L571.36,255.80 L571.61,255.95 L571.70,256.00 L571.86,256.09 L572.11,256.23 L572.36,256.38 L572.61,256.52 L572.86,256.66 L573.11,256.81 L573.36,256.95 L573.61,257.09 L573.86,257.23 L574.11,257.37 L574.36,257.50 L574.61,257.64 L574.86,257.78 L575.11,257.91 L575.36,258.04 L575.61,258.17 L575.86,258.30 L576.11,258.43 L576.36,258.56 L576.61,258.68 L576.86,258.81 L577.11,258.93 L577.36,259.05 L577.61,259.17 L577.86,259.28 L578.11,259.39 L578.36,259.50 L578.61,259.61 L578.86,259.72 L579.11,259.82 L579.36,259.92 L579.61,260.02 L579.86,260.11 L580.10,260.20 L580.11,260.20 L580.36,260.29 L580.61,260.38 L580.86,260.46 L581.11,260.55 L581.36,260.63 L581.61,260.70 L581.86,260.78 L582.11,260.85 L582.36,260.92 L582.62,260.99 L582.87,261.06 L583.12,261.13 L583.37,261.20 L583.62,261.26 L583.87,261.33 L584.12,261.39 L584.37,261.45 L584.62,261.52 L584.87,261.58 L585.12,261.64 L585.37,261.70 L585.62,261.76 L585.87,261.82 L586.12,261.88 L586.37,261.95 L586.62,262.01 L586.87,262.07 L587.12,262.14 L587.37,262.20 L587.62,262.27 L587.87,262.33 L588.12,262.40 L588.37,262.47 L588.62,262.54 L588.87,262.62 L589.12,262.69 L589.37,262.77 L589.62,262.84 L589.87,262.92 L590.10,263.00 L590.12,263.01 L590.37,263.09 L590.62,263.18 L590.87,263.27 L591.12,263.36 L591.37,263.45 L591.62,263.55 L591.87,263.64 L592.12,263.74 L592.37,263.84 L592.62,263.94 L592.87,264.04 L593.12,264.15 L593.37,264.25 L593.62,264.35 L593.87,264.46 L594.12,264.56 L594.37,264.67 L594.62,264.78 L594.87,264.88 L595.13,264.99 L595.38,265.10 L595.63,265.20 L595.88,265.31 L596.13,265.42 L596.38,265.52 L596.63,265.63 L596.80,265.70 L596.88,265.73 L597.13,265.84 L597.38,265.95 L597.63,266.07 L597.88,266.19 L598.13,266.31 L598.38,266.44 L598.63,266.57 L598.88,266.70 L599.13,266.82 L599.38,266.95 L599.63,267.08 L599.88,267.21 L600.13,267.34 L600.38,267.46 L600.63,267.58 L600.88,267.70 L601.13,267.81 L601.38,267.92 L601.63,268.03 L601.88,268.13 L602.13,268.22 L602.38,268.31 L602.63,268.39 L602.88,268.46 L603.13,268.52 L603.38,268.58 L603.50,268.60 L603.63,268.62 L603.88,268.67 L604.13,268.71 L604.38,268.75 L604.63,268.79 L604.88,268.82 L605.13,268.86 L605.38,268.89 L605.63,268.92 L605.88,268.95 L606.13,268.98 L606.38,269.01 L606.63,269.04 L606.88,269.06 L607.13,269.09 L607.38,269.11 L607.64,269.13 L607.89,269.16 L608.14,269.18 L608.39,269.20 L608.64,269.22 L608.89,269.24 L609.14,269.26 L609.39,269.29 L609.64,269.31 L609.89,269.33 L610.14,269.35 L610.39,269.37 L610.64,269.39 L610.89,269.41 L611.14,269.44 L611.39,269.46 L611.64,269.49 L611.89,269.51 L612.14,269.54 L612.39,269.56 L612.64,269.59 L612.89,269.62 L613.14,269.65 L613.39,269.69 L613.50,269.70 L613.64,269.72 L613.89,269.75 L614.14,269.79 L614.39,269.83 L614.64,269.87 L614.89,269.91 L615.14,269.95 L615.39,269.99 L615.64,270.03 L615.89,270.08 L616.14,270.12 L616.39,270.16 L616.64,270.21 L616.89,270.26 L617.14,270.30 L617.39,270.35 L617.64,270.39 L617.89,270.44 L618.14,270.49 L618.39,270.53 L618.64,270.58 L618.89,270.62 L619.14,270.67 L619.39,270.71 L619.64,270.76 L619.89,270.80 L620.15,270.84 L620.40,270.89 L620.65,270.93 L620.90,270.97 L621.15,271.00 L621.40,271.04 L621.65,271.08 L621.80,271.10 L621.90,271.11 L622.15,271.15 L622.40,271.19 L622.65,271.22 L622.90,271.26 L623.15,271.30 L623.40,271.34 L623.65,271.38 L623.90,271.42 L624.15,271.46 L624.40,271.50 L624.65,271.54 L624.90,271.58 L625.15,271.62 L625.40,271.65 L625.65,271.69 L625.90,271.72 L626.15,271.75 L626.40,271.78 L626.65,271.80 L626.90,271.83 L627.15,271.85 L627.40,271.86 L627.65,271.88 L627.90,271.89 L628.15,271.90 L628.40,271.90 L628.50,271.90 L628.65,271.90 L628.90,271.90 L629.15,271.89 L629.40,271.89 L629.65,271.88 L629.90,271.87 L630.15,271.86 L630.40,271.84 L630.65,271.83 L630.90,271.81 L631.15,271.79 L631.40,271.77 L631.65,271.75 L631.90,271.73 L632.15,271.71 L632.40,271.69 L632.66,271.66 L632.91,271.64 L633.16,271.62 L633.41,271.59 L633.66,271.56 L633.91,271.54 L634.16,271.51 L634.41,271.48 L634.66,271.46 L634.91,271.43 L635.16,271.40 L635.20,271.40 L635.41,271.38 L635.66,271.34 L635.91,271.30 L636.16,271.26 L636.41,271.21 L636.66,271.16 L636.91,271.11 L637.16,271.05 L637.41,270.99 L637.66,270.93 L637.91,270.87 L638.16,270.81 L638.41,270.75 L638.66,270.69 L638.91,270.63 L639.16,270.57 L639.41,270.51 L639.66,270.46 L639.91,270.41 L640.16,270.37 L640.41,270.32 L640.66,270.29 L640.91,270.26 L641.16,270.23 L641.41,270.21 L641.66,270.20 L641.90,270.20 L641.91,270.20 L642.16,270.20 L642.41,270.20 L642.66,270.20 L642.91,270.20 L643.16,270.20 L643.41,270.20 L643.66,270.20 L643.91,270.20 L644.16,270.20 L644.41,270.20 L644.66,270.20 L644.91,270.20 L645.17,270.20 L645.42,270.20 L645.67,270.20 L645.92,270.20 L646.17,270.20 L646.42,270.20 L646.67,270.20 L646.92,270.20 L647.17,270.20 L647.42,270.20 L647.67,270.20 L647.92,270.20 L648.17,270.20 L648.42,270.20 L648.67,270.20 L648.92,270.20 L649.17,270.20 L649.42,270.20 L649.67,270.20 L649.92,270.20 L650.17,270.20 L650.42,270.20 L650.67,270.20 L650.92,270.20 L651.17,270.20 L651.42,270.20 L651.67,270.20 L651.90,270.20 L651.92,270.20 L652.17,270.19 L652.42,270.18 L652.67,270.16 L652.92,270.13 L653.17,270.10 L653.42,270.06 L653.67,270.01 L653.92,269.96 L654.17,269.90 L654.42,269.84 L654.67,269.77 L654.92,269.70 L655.17,269.63 L655.42,269.55 L655.67,269.48 L655.92,269.40 L656.17,269.32 L656.42,269.24 L656.67,269.16 L656.92,269.08 L657.17,269.00 L657.42,268.93 L657.68,268.85 L657.93,268.78 L658.18,268.71 L658.43,268.64 L658.60,268.60 L658.68,268.58 L658.93,268.52 L659.18,268.45 L659.43,268.38 L659.68,268.31 L659.93,268.23 L660.18,268.16 L660.43,268.08 L660.68,268.00 L660.93,267.93 L661.18,267.85 L661.43,267.77 L661.68,267.70 L661.93,267.62 L662.18,267.55 L662.43,267.47 L662.68,267.40 L662.93,267.34 L663.18,267.27 L663.43,267.21 L663.68,267.15 L663.93,267.10 L664.18,267.05 L664.43,267.01 L664.68,266.97 L664.93,266.94 L665.18,266.91 L665.30,266.90 L665.43,266.89 L665.68,266.87 L665.93,266.85 L666.18,266.84 L666.43,266.82 L666.68,266.80 L666.93,266.79 L667.18,266.78 L667.43,266.77 L667.68,266.76 L667.93,266.75 L668.18,266.74 L668.43,266.73 L668.68,266.72 L668.93,266.71 L669.18,266.70 L669.43,266.69 L669.68,266.68 L669.93,266.67 L670.19,266.67 L670.44,266.66 L670.69,266.65 L670.94,266.64 L671.19,266.63 L671.44,266.62 L671.69,266.61 L671.94,266.60 L672.19,266.59 L672.44,266.57 L672.69,266.56 L672.94,266.54 L673.19,266.53 L673.44,266.51 L673.60,266.50 L673.69,266.49 L673.94,266.47 L674.19,266.44 L674.44,266.41 L674.69,266.38 L674.94,266.34 L675.19,266.30 L675.44,266.26 L675.69,266.21 L675.94,266.16 L676.19,266.11 L676.44,266.06 L676.69,266.00 L676.94,265.94 L677.19,265.88 L677.44,265.82 L677.69,265.76 L677.94,265.69 L678.19,265.63 L678.44,265.57 L678.69,265.50 L678.94,265.44 L679.19,265.37 L679.44,265.31 L679.69,265.24 L679.94,265.18 L680.19,265.12 L680.44,265.06 L680.69,265.00 L680.94,264.94 L681.19,264.88 L681.44,264.83 L681.69,264.78 L681.94,264.73 L682.19,264.68 L682.44,264.64 L682.70,264.60 L682.95,264.56 L683.20,264.52 L683.45,264.49 L683.70,264.47 L683.95,264.44 L684.20,264.43 L684.45,264.41 L684.70,264.40 L684.95,264.40 L685.00,264.40 L685.20,264.40 L685.45,264.40 L685.70,264.40 L685.95,264.40 L686.20,264.40 L686.45,264.40 L686.70,264.40 L686.95,264.40 L687.20,264.40 L687.45,264.40 L687.70,264.40 L687.95,264.40 L688.20,264.40 L688.45,264.40 L688.70,264.40 L688.95,264.40 L689.20,264.40 L689.45,264.40 L689.70,264.40 L689.95,264.40 L690.20,264.40 L690.45,264.40 L690.70,264.40 L690.95,264.40 L691.20,264.40 L691.45,264.40 L691.70,264.40 L691.95,264.40 L692.20,264.40 L692.45,264.40 L692.70,264.40 L692.95,264.40 L693.20,264.40 L693.45,264.40 L693.70,264.40 L693.95,264.40 L694.20,264.40 L694.45,264.40 L694.70,264.40 L694.95,264.40 L695.21,264.40 L695.46,264.40 L695.71,264.40 L695.96,264.40 L696.21,264.40 L696.46,264.40 L696.71,264.40 L696.96,264.40 L697.21,264.40 L697.46,264.40 L697.71,264.40 L697.90,264.40 L697.96,264.40 L698.21,264.40 L698.46,264.39 L698.71,264.39 L698.96,264.38 L699.21,264.36 L699.46,264.35 L699.71,264.33 L699.96,264.31 L700.21,264.29 L700.46,264.27 L700.71,264.25 L700.96,264.22 L701.21,264.19 L701.46,264.16 L701.71,264.14 L701.96,264.11 L702.21,264.07 L702.46,264.04 L702.71,264.01 L702.96,263.98 L703.21,263.94 L703.46,263.91 L703.71,263.88 L703.96,263.85 L704.21,263.81 L704.46,263.78 L704.71,263.75 L704.96,263.72 L705.21,263.69 L705.46,263.66 L705.71,263.63 L705.96,263.60 L706.21,263.57 L706.46,263.55 L706.71,263.52 L706.96,263.50 L707.21,263.48 L707.46,263.46 L707.72,263.45 L707.97,263.43 L708.22,263.42 L708.47,263.41 L708.72,263.41 L708.97,263.40 L709.20,263.40 L709.22,263.40 L709.47,263.40 L709.72,263.41 L709.97,263.42 L710.22,263.43 L710.47,263.45 L710.72,263.47 L710.97,263.49 L711.22,263.52 L711.47,263.54 L711.72,263.57 L711.97,263.61 L712.22,263.64 L712.47,263.68 L712.72,263.72 L712.97,263.76 L713.22,263.80 L713.47,263.84 L713.72,263.89 L713.97,263.93 L714.22,263.98 L714.47,264.02 L714.72,264.07 L714.97,264.11 L715.22,264.16 L715.47,264.20 L715.72,264.25 L715.97,264.30 L716.22,264.34 L716.47,264.38 L716.72,264.42 L716.97,264.46 L717.22,264.50 L717.47,264.54 L717.72,264.58 L717.97,264.61 L718.22,264.64 L718.47,264.67 L718.72,264.70 L718.97,264.72 L719.22,264.74 L719.47,264.76 L719.72,264.78 L719.97,264.79 L720.23,264.80 L720.48,264.80 L720.60,264.80 L720.73,264.80 L720.98,264.80 L721.23,264.79 L721.48,264.78 L721.73,264.77 L721.98,264.76 L722.23,264.74 L722.48,264.73 L722.73,264.71 L722.98,264.69 L723.23,264.67 L723.48,264.64 L723.73,264.62 L723.98,264.59 L724.23,264.56 L724.48,264.53 L724.73,264.50 L724.98,264.47 L725.23,264.44 L725.48,264.41 L725.73,264.37 L725.98,264.34 L726.23,264.31 L726.48,264.28 L726.73,264.24 L726.98,264.21 L727.23,264.18 L727.48,264.15 L727.73,264.12 L727.98,264.09 L728.23,264.06 L728.48,264.03 L728.73,264.00 L728.98,263.97 L729.23,263.95 L729.48,263.92 L729.73,263.90 L729.98,263.88 L730.23,263.86 L730.48,263.85 L730.73,263.83 L730.98,263.82 L731.23,263.81 L731.48,263.81 L731.73,263.80 L731.98,263.80 L732.00,263.80 L732.23,263.80 L732.48,263.81 L732.74,263.83 L732.99,263.85 L733.24,263.87 L733.49,263.90 L733.74,263.93 L733.99,263.97 L734.24,264.01 L734.49,264.06 L734.74,264.11 L734.99,264.16 L735.24,264.22 L735.49,264.28 L735.74,264.34 L735.99,264.40 L736.24,264.46 L736.49,264.53 L736.74,264.60 L736.99,264.67 L737.24,264.74 L737.49,264.81 L737.74,264.87 L737.99,264.94 L738.24,265.01 L738.49,265.08 L738.74,265.15 L738.99,265.22 L739.24,265.28 L739.49,265.34 L739.74,265.41 L739.99,265.47 L740.24,265.52 L740.49,265.58 L740.74,265.63 L740.99,265.67 L741.24,265.72 L741.49,265.76 L741.74,265.79 L741.99,265.82 L742.24,265.85 L742.49,265.87 L742.74,265.89 L742.99,265.90 L743.24,265.90 L743.30,265.90 L743.49,265.90 L743.74,265.90 L743.99,265.90 L744.24,265.90 L744.49,265.89 L744.74,265.89 L744.99,265.88 L745.25,265.88 L745.50,265.87 L745.75,265.86 L746.00,265.86 L746.25,265.85 L746.50,265.84 L746.75,265.82 L747.00,265.81 L747.25,265.80 L747.50,265.78 L747.75,265.76 L748.00,265.74 L748.25,265.72 L748.50,265.70 L748.75,265.68 L749.00,265.65 L749.25,265.63 L749.50,265.60 L749.75,265.57 L750.00,265.54 L750.25,265.50 L750.50,265.47 L750.75,265.43 L751.00,265.39 L751.25,265.34 L751.50,265.30" fill="none" stroke="#000" stroke-width="1.0" stroke-linejoin="round"/>
<path d="M593.50,276.50 L593.75,276.28 L594.00,276.07 L594.25,275.85 L594.50,275.63 L594.75,275.41 L595.00,275.19 L595.25,274.98 L595.50,274.76 L595.75,274.54 L596.00,274.32 L596.25,274.10 L596.50,273.88 L596.76,273.66 L597.01,273.44 L597.26,273.22 L597.51,273.00 L597.76,272.78 L598.01,272.56 L598.26,272.34 L598.51,272.12 L598.76,271.90 L599.01,271.68 L599.26,271.46 L599.51,271.24 L599.76,271.02 L600.01,270.80 L600.26,270.58 L600.51,270.36 L600.76,270.13 L601.01,269.91 L601.26,269.69 L601.51,269.47 L601.76,269.25 L602.01,269.02 L602.26,268.80 L602.51,268.58 L602.76,268.36 L603.02,268.13 L603.27,267.91 L603.50,267.70 L603.52,267.69 L603.77,267.46 L604.02,267.24 L604.27,267.01 L604.52,266.78 L604.77,266.55 L605.02,266.31 L605.27,266.08 L605.52,265.85 L605.77,265.61 L606.02,265.38 L606.27,265.14 L606.52,264.91 L606.77,264.67 L607.02,264.43 L607.27,264.20 L607.52,263.96 L607.77,263.73 L608.02,263.50 L608.27,263.27 L608.52,263.03 L608.77,262.80 L609.02,262.58 L609.27,262.35 L609.53,262.13 L609.78,261.90 L610.03,261.68 L610.28,261.46 L610.53,261.25 L610.78,261.04 L611.03,260.83 L611.28,260.62 L611.53,260.42 L611.78,260.22 L611.80,260.20 L612.03,260.02 L612.28,259.83 L612.53,259.65 L612.78,259.48 L613.03,259.30 L613.28,259.14 L613.53,258.97 L613.78,258.81 L614.03,258.65 L614.28,258.49 L614.53,258.33 L614.78,258.17 L615.03,258.01 L615.28,257.84 L615.53,257.68 L615.79,257.51 L616.04,257.33 L616.29,257.15 L616.54,256.96 L616.79,256.77 L617.04,256.57 L617.29,256.36 L617.54,256.15 L617.70,256.00 L617.79,255.92 L618.04,255.68 L618.29,255.42 L618.54,255.15 L618.79,254.87 L619.04,254.58 L619.29,254.27 L619.54,253.96 L619.79,253.65 L620.04,253.32 L620.29,252.99 L620.54,252.66 L620.79,252.33 L621.04,252.00 L621.29,251.67 L621.54,251.33 L621.79,251.01 L621.80,251.00 L622.05,250.68 L622.30,250.33 L622.55,249.98 L622.80,249.63 L623.05,249.26 L623.30,248.89 L623.55,248.52 L623.80,248.14 L624.05,247.76 L624.30,247.38 L624.55,247.00 L624.80,246.62 L625.05,246.24 L625.30,245.87 L625.55,245.50 L625.80,245.14 L626.05,244.78 L626.30,244.43 L626.55,244.10 L626.80,243.77 L627.05,243.45 L627.30,243.15 L627.55,242.86 L627.70,242.70 L627.80,242.59 L628.05,242.33 L628.31,242.08 L628.56,241.84 L628.81,241.61 L629.06,241.39 L629.31,241.18 L629.56,240.97 L629.81,240.77 L630.06,240.57 L630.31,240.38 L630.56,240.19 L630.81,240.00 L631.06,239.81 L631.31,239.62 L631.56,239.43 L631.81,239.24 L632.06,239.04 L632.31,238.84 L632.56,238.63 L632.81,238.41 L633.06,238.18 L633.31,237.95 L633.56,237.70 L633.81,237.45 L634.06,237.18 L634.31,236.90 L634.40,236.80 L634.56,236.60 L634.82,236.29 L635.07,235.97 L635.32,235.63 L635.57,235.27 L635.82,234.90 L636.07,234.52 L636.32,234.12 L636.57,233.71 L636.82,233.28 L637.07,232.85 L637.32,232.39 L637.57,231.93 L637.82,231.45 L638.07,230.97 L638.32,230.47 L638.50,230.10 L638.57,229.95 L638.82,229.39 L639.07,228.78 L639.32,228.12 L639.57,227.43 L639.82,226.71 L640.07,225.96 L640.32,225.19 L640.57,224.42 L640.82,223.64 L641.08,222.87 L641.33,222.10 L641.58,221.36 L641.83,220.63 L642.08,219.94 L642.33,219.29 L642.58,218.68 L642.70,218.40 L642.83,218.11 L643.08,217.53 L643.33,216.93 L643.58,216.32 L643.83,215.69 L644.08,215.07 L644.33,214.45 L644.58,213.84 L644.83,213.25 L645.08,212.67 L645.33,212.12 L645.58,211.60 L645.83,211.12 L646.08,210.68 L646.33,210.28 L646.58,209.94 L646.83,209.66 L647.08,209.44 L647.34,209.28 L647.59,209.21 L647.70,209.20 L647.84,209.20 L648.09,209.22 L648.34,209.26 L648.59,209.31 L648.84,209.37 L649.09,209.45 L649.34,209.54 L649.59,209.64 L649.84,209.75 L650.09,209.87 L650.34,210.00 L650.59,210.13 L650.84,210.27 L651.09,210.42 L651.34,210.56 L651.59,210.71 L651.84,210.87 L651.90,210.90 L652.09,211.04 L652.34,211.27 L652.59,211.56 L652.84,211.89 L653.09,212.25 L653.34,212.64 L653.60,213.05 L653.85,213.46 L654.10,213.87 L654.35,214.27 L654.60,214.65 L654.85,214.99 L655.10,215.29 L655.35,215.54 L655.60,215.73 L655.85,215.86 L656.10,215.90 L656.10,215.90 L656.35,215.73 L656.60,215.23 L656.85,214.46 L657.10,213.46 L657.35,212.27 L657.60,210.94 L657.85,209.51 L658.10,208.03 L658.35,206.54 L658.60,205.10 L658.60,205.08 L658.85,203.57 L659.10,201.90 L659.35,200.06 L659.60,198.06 L659.85,195.91 L660.11,193.60 L660.30,191.70 L660.36,191.14 L660.61,188.64 L660.86,186.01 L661.11,183.09 L661.36,179.70 L661.61,175.69 L661.86,170.89 L661.90,170.00 L662.11,163.86 L662.36,153.11 L662.61,140.26 L662.86,126.99 L663.00,120.00 L663.11,114.66 L663.36,102.08 L663.61,89.36 L663.80,80.00 L663.86,76.81 L664.11,61.59 L664.36,49.37 L664.50,47.10 L664.61,48.23 L664.86,57.03 L665.11,70.29 L665.30,80.00 L665.36,83.14 L665.61,97.50 L665.86,112.86 L666.11,126.35 L666.20,130.00 L666.37,136.25 L666.62,144.81 L666.87,152.18 L667.12,158.27 L667.20,160.00 L667.37,163.20 L667.62,167.62 L667.87,171.56 L668.12,174.98 L668.37,177.86 L668.60,180.00 L668.62,180.15 L668.87,182.06 L669.12,183.77 L669.37,185.30 L669.62,186.68 L669.87,187.94 L670.12,189.12 L670.37,190.23 L670.62,191.32 L670.87,192.40 L671.10,193.40 L671.12,193.50 L671.37,194.64 L671.62,195.79 L671.87,196.94 L672.12,198.09 L672.37,199.23 L672.63,200.36 L672.88,201.45 L673.13,202.52 L673.38,203.54 L673.63,204.52 L673.88,205.44 L674.13,206.29 L674.38,207.07 L674.63,207.77 L674.88,208.39 L675.13,208.90 L675.30,209.20 L675.38,209.33 L675.63,209.72 L675.88,210.10 L676.13,210.47 L676.38,210.83 L676.63,211.16 L676.88,211.47 L677.13,211.75 L677.38,212.00 L677.63,212.21 L677.88,212.38 L678.13,212.51 L678.38,212.58 L678.60,212.60 L678.63,212.60 L678.89,212.31 L679.14,211.62 L679.39,210.56 L679.64,209.18 L679.89,207.50 L680.14,205.59 L680.39,203.47 L680.64,201.19 L680.89,198.79 L681.10,196.70 L681.14,196.30 L681.39,193.09 L681.64,188.95 L681.89,184.07 L682.14,178.65 L682.30,175.00 L682.39,172.85 L682.64,166.36 L682.89,158.91 L683.14,150.29 L683.39,140.33 L683.40,140.00 L683.64,126.78 L683.89,109.77 L684.14,93.26 L684.20,90.00 L684.39,77.98 L684.64,62.01 L684.89,51.52 L685.00,50.30 L685.15,52.55 L685.40,64.34 L685.65,80.58 L685.80,90.00 L685.90,95.74 L686.15,113.02 L686.40,129.90 L686.60,140.00 L686.65,141.73 L686.90,149.97 L687.15,156.91 L687.40,162.87 L687.65,168.14 L687.90,173.06 L688.00,175.00 L688.15,177.86 L688.40,182.47 L688.65,186.82 L688.90,190.86 L689.15,194.52 L689.40,197.77 L689.60,200.00 L689.65,200.54 L689.90,203.07 L690.15,205.45 L690.40,207.64 L690.65,209.59 L690.90,211.28 L691.15,212.66 L691.30,213.30 L691.40,213.72 L691.66,214.67 L691.91,215.56 L692.16,216.41 L692.41,217.20 L692.66,217.95 L692.91,218.65 L693.16,219.31 L693.41,219.93 L693.66,220.51 L693.91,221.05 L694.16,221.57 L694.41,222.05 L694.66,222.51 L694.91,222.94 L695.16,223.35 L695.41,223.74 L695.66,224.12 L695.91,224.48 L696.00,224.60 L696.16,224.83 L696.41,225.18 L696.66,225.53 L696.91,225.87 L697.16,226.20 L697.41,226.53 L697.66,226.84 L697.92,227.13 L698.17,227.40 L698.42,227.64 L698.67,227.86 L698.92,228.04 L699.17,228.19 L699.42,228.31 L699.67,228.38 L699.80,228.40 L699.92,228.41 L700.17,228.43 L700.42,228.45 L700.67,228.47 L700.92,228.48 L701.17,228.49 L701.42,228.50 L701.67,228.51 L701.92,228.52 L702.17,228.53 L702.42,228.54 L702.67,228.55 L702.92,228.57 L703.17,228.59 L703.30,228.60 L703.42,228.61 L703.67,228.64 L703.92,228.67 L704.18,228.70 L704.43,228.74 L704.68,228.79 L704.93,228.84 L705.18,228.90 L705.43,228.96 L705.68,229.04 L705.93,229.12 L706.18,229.21 L706.40,229.30 L706.43,229.31 L706.68,229.51 L706.93,229.82 L707.18,230.24 L707.43,230.73 L707.68,231.26 L707.93,231.82 L708.18,232.37 L708.43,232.90 L708.68,233.37 L708.70,233.40 L708.93,233.80 L709.18,234.23 L709.43,234.65 L709.68,235.07 L709.93,235.49 L710.18,235.90 L710.44,236.29 L710.69,236.68 L710.70,236.70 L710.94,237.05 L711.19,237.41 L711.44,237.77 L711.69,238.11 L711.94,238.45 L712.19,238.79 L712.44,239.13 L712.69,239.46 L712.94,239.79 L713.19,240.12 L713.40,240.40 L713.44,240.45 L713.69,240.80 L713.94,241.15 L714.19,241.51 L714.44,241.86 L714.69,242.21 L714.94,242.54 L715.19,242.85 L715.44,243.14 L715.69,243.39 L715.70,243.40 L715.94,243.62 L716.19,243.84 L716.44,244.05 L716.69,244.25 L716.95,244.44 L717.20,244.63 L717.45,244.80 L717.70,244.97 L717.95,245.14 L718.20,245.30 L718.45,245.46 L718.70,245.61 L718.95,245.77 L719.20,245.92 L719.45,246.07 L719.70,246.22 L719.95,246.37 L720.00,246.40 L720.20,246.52 L720.45,246.68 L720.70,246.83 L720.95,246.98 L721.20,247.13 L721.45,247.27 L721.70,247.41 L721.95,247.55 L722.20,247.68 L722.45,247.81 L722.70,247.93 L722.95,248.04 L723.10,248.10 L723.21,248.14 L723.46,248.24 L723.71,248.34 L723.96,248.43 L724.21,248.51 L724.46,248.60 L724.71,248.68 L724.96,248.76 L725.21,248.83 L725.46,248.91 L725.71,248.98 L725.96,249.06 L726.21,249.13 L726.46,249.20 L726.71,249.28 L726.96,249.36 L727.10,249.40 L727.21,249.43 L727.46,249.51 L727.71,249.58 L727.96,249.65 L728.21,249.72 L728.46,249.79 L728.71,249.86 L728.96,249.93 L729.21,250.00 L729.47,250.08 L729.72,250.16 L729.97,250.24 L730.22,250.33 L730.40,250.40 L730.47,250.43 L730.72,250.53 L730.97,250.64 L731.22,250.76 L731.47,250.89 L731.72,251.02 L731.97,251.16 L732.22,251.30 L732.47,251.44 L732.72,251.59 L732.97,251.74 L733.22,251.88 L733.47,252.03 L733.72,252.18 L733.97,252.33 L734.10,252.40 L734.22,252.47 L734.47,252.61 L734.72,252.76 L734.97,252.90 L735.22,253.04 L735.47,253.19 L735.73,253.34 L735.98,253.49 L736.23,253.64 L736.48,253.79 L736.73,253.95 L736.98,254.11 L737.23,254.28 L737.40,254.40 L737.48,254.45 L737.73,254.64 L737.98,254.84 L738.23,255.05 L738.48,255.26 L738.73,255.48 L738.98,255.71 L739.23,255.93 L739.48,256.15 L739.73,256.37 L739.98,256.59 L740.23,256.79 L740.48,256.99 L740.73,257.17 L740.98,257.33 L741.10,257.40 L741.23,257.48 L741.48,257.62 L741.73,257.75 L741.98,257.88 L742.24,258.00 L742.49,258.11 L742.74,258.23 L742.99,258.34 L743.24,258.44 L743.49,258.55 L743.74,258.65 L743.99,258.75 L744.10,258.80 L744.24,258.86 L744.49,258.95 L744.74,259.05 L744.99,259.14 L745.24,259.23 L745.49,259.31 L745.74,259.40 L745.99,259.48 L746.24,259.57 L746.49,259.65 L746.74,259.73 L746.99,259.82 L747.24,259.91 L747.49,260.00 L747.74,260.09 L747.99,260.19 L748.24,260.29 L748.50,260.40 L748.50,260.40 L748.75,260.51 L749.00,260.63 L749.25,260.75 L749.50,260.87 L749.75,261.00 L750.00,261.14 L750.25,261.27 L750.50,261.41 L750.75,261.56 L751.00,261.70 L751.25,261.85 L751.50,262.00" fill="none" stroke="#000" stroke-width="1.0" stroke-dasharray="3.8,4.2"/>
<text x="437.00" y="13.60" font-size="19.5" text-anchor="start" >b)</text>
<text transform="translate(407.3,158.2) rotate(-90)" font-size="13.7" text-anchor="middle">Output Power, dBm</text>
<text x="594.60" y="313.20" font-size="13.7" text-anchor="middle" >Wavelength, nm</text>
<text x="469.00" y="34.90" font-size="11.2">λ</text>
<text x="474.82" y="38.80" font-size="6.6">1</text>
<text x="478.60" y="34.90" font-size="11.2" textLength="65.00" lengthAdjust="spacingAndGlyphs" >=1528.16nm</text>
<line x1="497.90" y1="37.50" x2="497.90" y2="40.00" stroke="#000" stroke-width="0.8"/>
<path d="M497.90,44.50 L496.20,39.00 L499.60,39.00 Z" fill="#000"/>
<text x="539.60" y="68.50" font-size="11.2">λ</text>
<text x="545.42" y="72.40" font-size="6.6">2</text>
<text x="550.00" y="68.50" font-size="11.2" textLength="65.20" lengthAdjust="spacingAndGlyphs" >=1529.58nm</text>
<line x1="539.40" y1="65.90" x2="524.80" y2="65.90" stroke="#000" stroke-width="0.8"/>
<path d="M520.80,65.90 L525.80,64.00 L525.80,67.80 Z" fill="#000"/>
<text x="570.30" y="93.40" font-size="11.2">λ</text>
<text x="576.12" y="97.30" font-size="6.6">1</text>
<text x="579.90" y="93.40" font-size="11.2" textLength="64.70" lengthAdjust="spacingAndGlyphs" >=1539.90nm</text>
<line x1="644.30" y1="90.90" x2="657.60" y2="90.90" stroke="#000" stroke-width="0.8"/>
<path d="M661.60,90.90 L656.60,92.80 L656.60,89.00 Z" fill="#000"/>
<text x="669.10" y="39.00" font-size="11.2">λ</text>
<text x="674.92" y="42.90" font-size="6.6">2</text>
<text x="678.90" y="39.00" font-size="11.2" textLength="64.80" lengthAdjust="spacingAndGlyphs" >=1541.33nm</text>
<line x1="690.60" y1="33.00" x2="688.45" y2="40.32" stroke="#000" stroke-width="0.8"/>
<path d="M686.90,45.60 L686.52,38.72 L690.94,40.01 Z" fill="#000"/>
<line x1="132.50" y1="356.40" x2="132.50" y2="517.50" stroke="#d0d0d0" stroke-width="1"/>
<line x1="166.50" y1="356.40" x2="166.50" y2="517.50" stroke="#d0d0d0" stroke-width="1"/>
<line x1="201.50" y1="356.40" x2="201.50" y2="517.50" stroke="#d0d0d0" stroke-width="1"/>
<line x1="235.50" y1="356.40" x2="235.50" y2="517.50" stroke="#d0d0d0" stroke-width="1"/>
<line x1="270.50" y1="356.40" x2="270.50" y2="517.50" stroke="#d0d0d0" stroke-width="1"/>
<line x1="304.50" y1="356.40" x2="304.50" y2="517.50" stroke="#d0d0d0" stroke-width="1"/>
<line x1="339.50" y1="356.40" x2="339.50" y2="517.50" stroke="#d0d0d0" stroke-width="1"/>
<line x1="97.50" y1="514.50" x2="356.70" y2="514.50" stroke="#d0d0d0" stroke-width="1"/>
<line x1="97.50" y1="495.50" x2="356.70" y2="495.50" stroke="#d0d0d0" stroke-width="1"/>
<line x1="97.50" y1="477.50" x2="356.70" y2="477.50" stroke="#d0d0d0" stroke-width="1"/>
<line x1="97.50" y1="458.50" x2="356.70" y2="458.50" stroke="#d0d0d0" stroke-width="1"/>
<line x1="97.50" y1="439.50" x2="356.70" y2="439.50" stroke="#d0d0d0" stroke-width="1"/>
<line x1="97.50" y1="420.50" x2="356.70" y2="420.50" stroke="#d0d0d0" stroke-width="1"/>
<line x1="97.50" y1="401.50" x2="356.70" y2="401.50" stroke="#d0d0d0" stroke-width="1"/>
<line x1="97.50" y1="383.50" x2="356.70" y2="383.50" stroke="#d0d0d0" stroke-width="1"/>
<line x1="97.50" y1="364.50" x2="356.70" y2="364.50" stroke="#d0d0d0" stroke-width="1"/>
<line x1="97.50" y1="514.60" x2="30.80" y2="587.50" stroke="#d0d0d0" stroke-width="0.8"/>
<line x1="97.50" y1="495.80" x2="30.80" y2="568.70" stroke="#d0d0d0" stroke-width="0.8"/>
<line x1="97.50" y1="477.00" x2="30.80" y2="549.90" stroke="#d0d0d0" stroke-width="0.8"/>
<line x1="97.50" y1="458.20" x2="30.80" y2="531.10" stroke="#d0d0d0" stroke-width="0.8"/>
<line x1="97.50" y1="439.40" x2="30.80" y2="512.30" stroke="#d0d0d0" stroke-width="0.8"/>
<line x1="97.50" y1="420.60" x2="30.80" y2="493.50" stroke="#d0d0d0" stroke-width="0.8"/>
<line x1="97.50" y1="401.80" x2="30.80" y2="474.70" stroke="#d0d0d0" stroke-width="0.8"/>
<line x1="97.50" y1="383.00" x2="30.80" y2="455.90" stroke="#d0d0d0" stroke-width="0.8"/>
<line x1="97.50" y1="364.20" x2="30.80" y2="437.10" stroke="#d0d0d0" stroke-width="0.8"/>
<line x1="44.30" y1="414.55" x2="44.30" y2="575.65" stroke="#d0d0d0" stroke-width="0.8"/>
<line x1="66.60" y1="390.17" x2="66.60" y2="551.27" stroke="#d0d0d0" stroke-width="0.8"/>
<line x1="88.60" y1="366.13" x2="88.60" y2="527.23" stroke="#d0d0d0" stroke-width="0.8"/>
<line x1="97.50" y1="356.40" x2="97.50" y2="517.50" stroke="#999" stroke-width="0.8"/>
<polyline points="30.80,590.40 30.80,429.30 97.50,356.40 356.70,356.40 356.70,517.50" fill="none" stroke="#333" stroke-width="1"/>
<g fill="#fff" stroke="#000">
<defs><path id="w0" d="M97.5,517.6L97.5,488.7 97.7,488.5 99.1,488.3 100.4,488.1 101.8,487.7 103.2,487.1 104.6,486.6 106,485.9 107.3,485.1 108.7,484.1 110.1,483 111.5,481.8 112.9,480.4 114.3,478.6 115.6,476.1 117,473.6 118.4,471.9 119.8,472.5 121.2,474.4 122.6,476.6 123.9,478.5 125.3,479.7 126.7,480.6 128.1,481.5 129.5,482.3 130.9,482.8 132.2,482.6 133.6,482 135,480.3 136.4,478.6 137.8,476.7 139.1,474.5 140.5,471.8 141.9,469.3 143.3,468.2 144.7,468.2 146.1,469.4 147.4,472.4 148.8,475.6 150.2,478 151.6,479.6 153,480.8 154.4,481.6 155.7,481.3 157.1,480.7 158.5,480.2 159.9,479.4 161.3,477.8 162,476.9 162.2,476.6 162.4,476.3 162.6,476 162.8,475.6 163,475.2 163.2,474.8 163.4,474.4 163.6,474 163.8,473.5 164,473 164.2,472.4 164.4,471.8 164.7,471.2 164.9,470.5 165.1,469.8 165.3,469.1 165.5,468.3 165.7,467.5 165.9,466.7 166.1,465.8 166.3,464.8 166.5,463.6 166.7,462.2 166.9,460.6 167.1,458.8 167.3,456.9 167.6,454.8 167.8,452.4 168,449.8 168.2,447.3 168.4,444.9 168.6,442.3 168.8,439.1 169,435.2 169.2,430.4 169.4,424.4 169.6,416.1 169.8,403.6 170,391.9 170.2,383 170.5,374.4 170.7,365.1 170.9,365.4 171.1,376.1 171.3,386.1 171.5,397.6 171.7,412.4 171.9,425.8 172.1,436.4 172.3,443.2 172.5,447.9 172.7,451.7 172.9,455 173.2,457.3 173.4,458.9 173.6,460.2 173.8,461.3 174,462.3 174.2,463.2 174.4,464.1 174.6,464.9 174.8,465.7 175,466.4 175.2,467.1 175.4,467.7 175.6,468.3 175.8,468.9 176.1,469.4 176.3,469.9 176.5,470.3 176.7,470.8 176.9,471.2 177.1,471.6 177.3,472 177.5,472.3 177.7,472.7 177.9,473.1 178.1,473.4 178.3,473.8 178.5,474.2 178.8,474.5 179,474.9 179.2,475.2 179.4,475.5 179.6,475.8 179.8,476.1 180,476.3 180.2,476.5 180.4,476.7 180.6,476.8 180.8,477 181,477.1 182.3,478 183.7,478.9 185.1,479.7 186.5,480.1 187.9,480.3 189.3,480.4 190.6,480.2 192,479.7 193.4,478.9 194.8,478.2 196.2,477.2 197.6,475.7 198.9,473.9 200.3,471.9 201.7,469.5 203.1,467.5 204.5,468.4 205.8,472.3 207.2,476 208.6,478.7 210,481.1 211.4,483 212.8,484.3 214.1,485.3 215.5,486.1 216.9,486.6 218.3,486.4 219.7,485.7 220.7,484.9 220.9,484.7 221.1,484.5 221.3,484.3 221.5,484 221.7,483.7 222,483.5 222.2,483.2 222.4,482.8 222.6,482.5 222.8,482.2 223,481.8 223.2,481.3 223.4,480.8 223.6,480.3 223.8,479.8 224,479.2 224.2,478.6 224.4,478 224.6,477.3 224.9,476.7 225.1,475.9 225.3,475.2 225.5,474.3 225.7,473.5 225.9,472.5 226.1,471.6 226.3,470.5 226.5,469.5 226.7,468.4 226.9,467.3 227.1,466 227.3,464.6 227.5,462.9 227.8,460.8 228,458 228.2,454 228.4,447.9 228.6,438.6 228.8,426.7 229,410.1 229.2,392 229.4,377.1 229.6,367.3 229.8,360.3 230,359.9 230.2,363.6 230.5,369 230.7,376 230.9,387.5 231.1,398.5 231.3,408.9 231.5,419.1 231.7,428.9 231.9,439.3 232.1,447.8 232.3,452.5 232.5,455.9 232.7,458.4 232.9,460.4 233.1,462.1 233.4,463.6 233.6,465 233.8,466.2 234,467.4 234.2,468.5 234.4,469.5 234.6,470.6 234.8,471.6 235,472.7 235.2,473.8 235.4,474.8 235.6,475.8 235.8,476.8 236.1,477.8 236.3,478.7 236.5,479.6 236.7,480.4 236.9,481.1 237.1,481.8 237.3,482.5 237.5,483.1 237.7,483.8 237.9,484.3 238.1,484.9 238.3,485.4 238.5,485.9 238.7,486.4 239,486.8 239.2,487.2 239.4,487.6 239.6,487.9 239.7,488.2 241.1,490.2 242.5,491.6 243.9,492.6 245.2,493.4 246.6,494 248,494.3 249.4,493.9 250.8,493.1 252.2,492.2 253.5,491.4 254.9,490.9 256.3,491.1 257.7,492 258.7,492.8 259.2,493.3 259.8,494 260.3,494.9 260.8,495.9 261.3,496.8 261.8,497.8 262.4,498.7 262.9,499.6 263.4,500.3 263.9,501.1 264.4,501.9 264.9,502.6 265.5,503.4 266,504.1 266.5,504.5 267,505.4 267.5,505.6 268.1,506.4 268.6,506.7 269.1,507.2 269.6,508 270.1,508.1 270.6,508.3 271.2,508.9 271.7,509.2 272.2,509.1 272.7,509.5 273.2,509.9 273.8,509.7 274.3,509.3 274.8,509.5 275.3,509 275.8,508.6 276.3,508.8 276.9,508.9 277.4,508.7 277.9,508.2 278.4,507.7 278.9,507.7 279.5,507.4 280,507.6 280.5,507.2 281,507.4 281.5,507.4 282.1,507.7 282.6,507.9 283.1,507.7 283.6,508.1 284.1,508.2 284.6,508 285.2,508.5 285.7,507.9 286.2,508.7 286.7,509.5 287.2,509.4 287.8,509.8 288.3,510.4 288.8,510.2 289.3,511.1 289.8,512.1 290.3,511.4 290.9,512.1 291.4,511.9 291.9,512.8 292.4,513.2 292.9,512.7 293.5,513.7 294,513.5 294.5,513.4 295,513.9 295.5,514.1 296,514.2 296.6,514.1 297.1,514.6 297.6,514.3 298.1,514.4 298.6,513.9 299.2,514.7 299.7,514.9 300.2,514.4 300.7,514.7 301.2,514.4 301.7,514.4 302.3,514 302.8,514.4 303.3,514.1 303.8,514.7 304.3,514.1 304.9,513.3 305.4,513.8 305.9,513.8 306.4,513.8 306.9,513.2 307.5,513.3 308,513.7 308.5,513.1 309,513.3 309.5,513.2 310,513.6 310.6,513 311.1,513.5 311.6,513.8 312.1,514 312.6,514.1 313.2,513.9 313.7,514.4 314.2,514.2 314.7,514.4 315.2,514.4 315.7,514.7 316.3,515.1 316.8,515.7 317.3,515.3 317.8,515.3 318.3,515.6 318.9,515.6 319.4,516 319.9,516.1 320.4,516.4 320.9,515.8 321.4,516.2 322,516.5 322.5,516.7 323,516.4 323.5,516 324,516.2 324.6,516.5 325.1,515.9 325.6,515.9 326.1,516 326.6,516 327.2,515.8 327.7,515.9 328.2,515.8 328.7,516.2 329.2,515.5 329.7,515.8 330.3,515.2 330.8,516.3 331.3,515.5 331.8,515.3 332.3,515.7 332.9,515.4 333.4,515.3 333.9,515.4 334.4,515.7 334.9,515.6 335.4,515.4 336,515.3 336.5,515.8 337,515.8 337.5,515.9 338,515.8 338.6,516.5 339.1,516.7 339.6,516.4 340.1,516.8 340.6,516.8 341.1,516.7 341.7,516.6 342.2,517.1 342.7,516.7 343.2,517.4 343.7,516.8 344.3,517.4 344.8,517.4 345.3,516.9 345.8,517.2 346.3,517.3 346.9,517.2 347.4,516.9 347.9,517 348.4,517 348.9,516.6 349.4,517.1 350,517 350.5,516.9 351,516.4 351.5,516.4 352,516.2 352.6,516.5 353.1,516.5 353.6,516.2 354.1,516.5 354.6,516.1 355.1,516.1 356.7,517.6"/></defs>
<use href="#w0" stroke-width="0.92" stroke-dasharray="0 28.90 664.78 9999"/>
<use href="#w0" fill="none" stroke-width="1.05" stroke-dasharray="0 693.38 116.01 9999"/>
<defs><path id="w1" d="M95.3,520.0L95.3,491.1 95.5,491 96.9,490.8 98.3,490.5 99.7,490.1 101,489.6 102.4,489 103.8,488.3 105.2,487.5 106.6,486.5 108,485.4 109.3,484.2 110.7,482.8 112.1,481.1 113.5,478.5 114.9,476 116.3,474.3 117.6,475 119,476.9 120.4,479 121.8,481 123.2,482.2 124.5,483.1 125.9,483.9 127.3,484.8 128.7,485.2 130.1,485 131.5,484.4 132.8,482.8 134.2,481.1 135.6,479.2 137,476.9 138.4,474.2 139.8,471.8 141.1,470.6 142.5,470.6 143.9,471.8 145.3,474.8 146.7,478 148,480.4 149.4,482 150.8,483.2 152.2,484.1 153.6,483.8 155,483.2 156.3,482.6 157.7,481.8 159.1,480.3 159.8,479.3 160,479 160.2,478.7 160.4,478.4 160.6,478.1 160.8,477.7 161,477.3 161.3,476.9 161.5,476.5 161.7,476 161.9,475.5 162.1,474.9 162.3,474.3 162.5,473.7 162.7,473 162.9,472.3 163.1,471.6 163.3,470.9 163.5,470.1 163.7,469.3 163.9,468.4 164.2,467.4 164.4,466.2 164.6,464.9 164.8,463.3 165,461.5 165.2,459.7 165.4,457.6 165.6,455.2 165.8,452.7 166,450.2 166.2,447.8 166.4,445.2 166.6,442.1 166.9,438.3 167.1,433.6 167.3,427.6 167.5,419.5 167.7,407.2 167.9,395.7 168.1,386.9 168.3,378.4 168.5,369.3 168.7,369.6 168.9,380.2 169.1,389.9 169.3,401.2 169.5,415.8 169.8,429 170,439.4 170.2,446.2 170.4,450.8 170.6,454.6 170.8,457.8 171,460.1 171.2,461.6 171.4,462.9 171.6,464 171.8,465 172,465.8 172.2,466.7 172.4,467.5 172.7,468.3 172.9,469 173.1,469.7 173.3,470.3 173.5,470.9 173.7,471.4 173.9,471.9 174.1,472.4 174.3,472.9 174.5,473.3 174.7,473.7 174.9,474.1 175.1,474.5 175.4,474.8 175.6,475.2 175.8,475.6 176,475.9 176.2,476.3 176.4,476.6 176.6,477 176.8,477.3 177,477.6 177.2,478 177.4,478.2 177.6,478.5 177.8,478.7 178,478.9 178.3,479.1 178.5,479.3 178.7,479.4 178.8,479.5 180.2,480.4 181.6,481.3 183,482.1 184.3,482.5 185.7,482.7 187.1,482.9 188.5,482.7 189.9,482.1 191.2,481.4 192.6,480.6 194,479.6 195.4,478.2 196.8,476.4 198.2,474.3 199.5,471.9 200.9,469.9 202.3,470.9 203.7,474.8 205.1,478.4 206.5,481.2 207.8,483.5 209.2,485.5 210.6,486.8 212,487.7 213.4,488.5 214.8,489 216.1,488.8 217.5,488.1 218.6,487.4 218.8,487.2 219,486.9 219.2,486.7 219.4,486.4 219.6,486.2 219.8,485.9 220,485.6 220.2,485.3 220.4,484.9 220.6,484.6 220.8,484.2 221,483.7 221.2,483.3 221.5,482.7 221.7,482.2 221.9,481.6 222.1,481 222.3,480.4 222.5,479.8 222.7,479.1 222.9,478.4 223.1,477.6 223.3,476.7 223.5,475.9 223.7,474.9 223.9,473.9 224.2,472.9 224.4,471.8 224.6,470.7 224.8,469.6 225,468.3 225.2,466.9 225.4,465.1 225.6,463.1 225.8,460.3 226,456.2 226.2,450 226.4,440.6 226.6,428.6 226.8,411.8 227.1,393.6 227.3,378.5 227.5,368.6 227.7,361.6 227.9,361.1 228.1,364.9 228.3,370.3 228.5,377.4 228.7,389 228.9,400.1 229.1,410.7 229.3,420.9 229.5,430.8 229.7,441.4 230,450 230.2,454.7 230.4,458.1 230.6,460.6 230.8,462.6 231,464.4 231.2,465.9 231.4,467.3 231.6,468.6 231.8,469.7 232,470.8 232.2,471.9 232.4,472.9 232.7,474 232.9,475.1 233.1,476.2 233.3,477.2 233.5,478.3 233.7,479.3 233.9,480.2 234.1,481.1 234.3,482 234.5,482.8 234.7,483.6 234.9,484.3 235.1,484.9 235.3,485.6 235.6,486.2 235.8,486.8 236,487.3 236.2,487.8 236.4,488.3 236.6,488.8 236.8,489.2 237,489.6 237.2,490 237.4,490.4 237.6,490.6 238.9,492.6 240.3,494 241.7,495.1 243.1,495.8 244.5,496.5 245.9,496.7 247.2,496.3 248.6,495.5 250,494.6 251.4,493.8 252.8,493.4 254.1,493.5 255.5,494.3 256.6,495.1 257.1,495.6 257.6,496.4 258.1,497.2 258.6,498.1 259.2,499.1 259.7,500.1 260.2,501 260.7,501.8 261.2,502.5 261.8,503.3 262.3,504 262.8,504.7 263.3,505.4 263.8,506 264.3,506.7 264.9,507.3 265.4,507.9 265.9,508.5 266.4,509 266.9,509.6 267.5,509.7 268,509.8 268.5,510.4 269,510.9 269.5,510.8 270,511.4 270.6,511.6 271.1,511.9 271.6,511.9 272.1,511.7 272.6,511 273.2,511.5 273.7,511.5 274.2,511.2 274.7,510.9 275.2,511.1 275.7,510.4 276.3,510 276.8,509.9 277.3,509.7 277.8,510.1 278.3,510.1 278.9,509.2 279.4,509.3 279.9,510.1 280.4,509.7 280.9,509.9 281.5,509.9 282,510.2 282.5,510.7 283,510.7 283.5,511 284,511.3 284.6,512.1 285.1,512.7 285.6,512.4 286.1,513 286.6,512.8 287.2,513 287.7,513.5 288.2,514 288.7,514.2 289.2,514.2 289.7,515.1 290.3,514.9 290.8,515.2 291.3,515.6 291.8,515.4 292.3,516.2 292.9,515.9 293.4,516.6 293.9,516.7 294.4,516.9 294.9,516.5 295.4,517 296,516.8 296.5,517.2 297,516.6 297.5,516.4 298,516.8 298.6,516.4 299.1,516.6 299.6,516.1 300.1,516.6 300.6,517 301.2,516 301.7,516.3 302.2,516.5 302.7,516.3 303.2,516.4 303.7,515.9 304.3,516.1 304.8,515.3 305.3,515.5 305.8,516.1 306.3,516.1 306.9,515.9 307.4,516.3 307.9,515.8 308.4,515.9 308.9,516.2 309.4,516.3 310,516.1 310.5,516 311,516.1 311.5,516.6 312,516.6 312.6,517.2 313.1,517 313.6,517.5 314.1,517.2 314.6,517.9 315.1,518 315.7,517.8 316.2,517.8 316.7,518.5 317.2,518.4 317.7,518.3 318.3,518.4 318.8,518.8 319.3,518.6 319.8,518.7 320.3,518.3 320.8,518.6 321.4,519.1 321.9,519.3 322.4,518.6 322.9,518.3 323.4,518.6 324,518.3 324.5,518.7 325,518.9 325.5,518.2 326,518.3 326.6,518.1 327.1,518.6 327.6,518.1 328.1,518.3 328.6,517.8 329.1,518.2 329.7,518.1 330.2,518.1 330.7,517.5 331.2,517.9 331.7,518.1 332.3,518.2 332.8,518.2 333.3,517.6 333.8,518.6 334.3,518.4 334.8,518 335.4,518 335.9,518.4 336.4,518.3 336.9,518.4 337.4,518.5 338,518.8 338.5,518.5 339,519 339.5,518.7 340,519.5 340.5,519 341.1,519.6 341.6,519.8 342.1,519.2 342.6,519.6 343.1,519.3 343.7,519.7 344.2,519 344.7,519.4 345.2,519.7 345.7,519.3 346.3,519.1 346.8,519.5 347.3,519.1 347.8,518.6 348.3,518.9 348.8,519.1 349.4,519.2 349.9,518.8 350.4,519.3 350.9,519.7 351.4,519 352,519 352.5,518.2 353,518.6 354.5,520.0"/></defs>
<use href="#w1" stroke-width="0.92" stroke-dasharray="0 28.90 663.50 9999"/>
<use href="#w1" fill="none" stroke-width="1.05" stroke-dasharray="0 692.10 117.21 9999"/>
<defs><path id="w2" d="M93.1,522.5L93.1,493.5 93.4,493.4 94.7,493.2 96.1,492.9 97.5,492.5 98.9,492 100.3,491.4 101.7,490.7 103,489.9 104.4,489 105.8,487.9 107.2,486.7 108.6,485.2 110,483.5 111.3,480.9 112.7,478.5 114.1,476.7 115.5,477.4 116.9,479.3 118.2,481.4 119.6,483.4 121,484.6 122.4,485.5 123.8,486.3 125.2,487.2 126.5,487.6 127.9,487.4 129.3,486.8 130.7,485.2 132.1,483.5 133.5,481.6 134.8,479.4 136.2,476.6 137.6,474.2 139,473.1 140.4,473.1 141.7,474.2 143.1,477.3 144.5,480.5 145.9,482.9 147.3,484.5 148.7,485.7 150,486.5 151.4,486.2 152.8,485.6 154.2,485.1 155.6,484.2 157,482.7 157.6,481.8 157.9,481.5 158.1,481.2 158.3,480.8 158.5,480.5 158.7,480.1 158.9,479.7 159.1,479.3 159.3,478.9 159.5,478.4 159.7,477.9 159.9,477.4 160.1,476.8 160.3,476.1 160.5,475.5 160.8,474.8 161,474.1 161.2,473.3 161.4,472.6 161.6,471.8 161.8,470.8 162,469.8 162.2,468.7 162.4,467.3 162.6,465.8 162.8,464 163,462.2 163.2,460.1 163.5,457.7 163.7,455.2 163.9,452.8 164.1,450.4 164.3,447.8 164.5,444.7 164.7,440.9 164.9,436.2 165.1,430.2 165.3,422.1 165.5,409.9 165.7,398.4 165.9,389.6 166.1,381.2 166.4,372.1 166.6,372.4 166.8,382.9 167,392.7 167.2,403.9 167.4,418.5 167.6,431.6 167.8,442 168,448.7 168.2,453.3 168.4,457.1 168.6,460.3 168.8,462.6 169.1,464.1 169.3,465.4 169.5,466.5 169.7,467.4 169.9,468.3 170.1,469.2 170.3,470 170.5,470.8 170.7,471.5 170.9,472.1 171.1,472.8 171.3,473.3 171.5,473.9 171.7,474.4 172,474.9 172.2,475.3 172.4,475.7 172.6,476.1 172.8,476.5 173,476.9 173.2,477.3 173.4,477.7 173.6,478 173.8,478.4 174,478.7 174.2,479.1 174.4,479.4 174.6,479.8 174.9,480.1 175.1,480.4 175.3,480.7 175.5,480.9 175.7,481.2 175.9,481.4 176.1,481.5 176.3,481.7 176.5,481.9 176.7,482 178,482.8 179.4,483.8 180.8,484.6 182.2,484.9 183.6,485.2 184.9,485.3 186.3,485.1 187.7,484.5 189.1,483.8 190.5,483.1 191.9,482.1 193.2,480.6 194.6,478.8 196,476.7 197.4,474.4 198.8,472.4 200.2,473.3 201.5,477.2 202.9,480.8 204.3,483.6 205.7,486 207.1,487.9 208.4,489.2 209.8,490.2 211.2,490.9 212.6,491.5 214,491.3 215.4,490.5 216.4,489.8 216.6,489.6 216.8,489.4 217,489.1 217.2,488.9 217.4,488.6 217.6,488.3 217.8,488 218.1,487.7 218.3,487.4 218.5,487 218.7,486.6 218.9,486.2 219.1,485.7 219.3,485.2 219.5,484.6 219.7,484.1 219.9,483.5 220.1,482.8 220.3,482.2 220.5,481.5 220.8,480.8 221,480 221.2,479.2 221.4,478.3 221.6,477.4 221.8,476.4 222,475.4 222.2,474.3 222.4,473.2 222.6,472 222.8,470.8 223,469.3 223.2,467.6 223.4,465.6 223.7,462.8 223.9,458.7 224.1,452.6 224.3,443.2 224.5,431.2 224.7,414.5 224.9,396.3 225.1,381.2 225.3,371.4 225.5,364.4 225.7,363.9 225.9,367.7 226.1,373.1 226.4,380.2 226.6,391.7 226.8,402.8 227,413.3 227.2,423.6 227.4,433.4 227.6,443.9 227.8,452.5 228,457.2 228.2,460.6 228.4,463.1 228.6,465.1 228.8,466.9 229,468.4 229.3,469.8 229.5,471 229.7,472.2 229.9,473.3 230.1,474.3 230.3,475.4 230.5,476.5 230.7,477.5 230.9,478.6 231.1,479.7 231.3,480.7 231.5,481.7 231.7,482.7 231.9,483.6 232.2,484.4 232.4,485.2 232.6,486 232.8,486.7 233,487.4 233.2,488 233.4,488.6 233.6,489.2 233.8,489.8 234,490.3 234.2,490.8 234.4,491.2 234.6,491.6 234.9,492 235.1,492.4 235.3,492.8 235.4,493 236.8,495 238.2,496.4 239.6,497.5 240.9,498.3 242.3,498.9 243.7,499.1 245.1,498.7 246.5,498 247.8,497.1 249.2,496.2 250.6,495.8 252,495.9 253.4,496.7 254.4,497.5 254.9,498 255.5,498.7 256,499.5 256.5,500.4 257,501.4 257.5,502.3 258,503.2 258.6,504 259.1,504.6 259.6,505.5 260.1,506.1 260.6,506.8 261.2,507.5 261.7,508.2 262.2,508.8 262.7,509.5 263.2,510.1 263.7,510.6 264.3,511 264.8,511.2 265.3,511.9 265.8,512 266.3,512.8 266.9,513 267.4,513.2 267.9,513.2 268.4,513.7 268.9,514.2 269.4,513.7 270,513.8 270.5,514 271,513.8 271.5,513.6 272,513.2 272.6,512.8 273.1,513.2 273.6,512 274.1,512.4 274.6,512.4 275.1,511.9 275.7,512 276.2,511.3 276.7,511.6 277.2,512 277.7,512.1 278.3,512.2 278.8,512.3 279.3,512.2 279.8,512.8 280.3,512.4 280.9,513.1 281.4,513.4 281.9,513.3 282.4,514.5 282.9,514.4 283.4,514.3 284,514.8 284.5,515.1 285,515.3 285.5,516 286,516.2 286.6,516.9 287.1,517.3 287.6,516.8 288.1,517.7 288.6,517.9 289.1,517.5 289.7,517.8 290.2,518.4 290.7,518.6 291.2,518.6 291.7,519 292.3,518.7 292.8,518.9 293.3,519 293.8,518.9 294.3,518.9 294.8,518.6 295.4,518.8 295.9,519.7 296.4,518.9 296.9,519.4 297.4,519.4 298,518.7 298.5,519 299,518.8 299.5,518.3 300,518.7 300.6,518.6 301.1,518.2 301.6,517.9 302.1,518 302.6,518.5 303.1,518.2 303.7,518.1 304.2,517.5 304.7,517.8 305.2,517.8 305.7,517.8 306.3,518.3 306.8,518.2 307.3,518.3 307.8,518.8 308.3,518.7 308.8,518.7 309.4,519.3 309.9,518.9 310.4,519.1 310.9,519.2 311.4,519.8 312,519.7 312.5,519.5 313,519.8 313.5,520.4 314,520.2 314.5,520 315.1,520.6 315.6,520.6 316.1,520 316.6,520.9 317.1,521 317.7,521.3 318.2,521.2 318.7,520.6 319.2,521.1 319.7,521.4 320.3,521.3 320.8,521 321.3,520.7 321.8,521.1 322.3,520.6 322.8,520.9 323.4,520.6 323.9,520.6 324.4,520.5 324.9,520.7 325.4,520.6 326,520.3 326.5,520.8 327,520.3 327.5,520.1 328,519.9 328.5,520.2 329.1,520.3 329.6,520.2 330.1,520.4 330.6,520.3 331.1,520.2 331.7,520.3 332.2,520.8 332.7,520.6 333.2,521.2 333.7,520.5 334.2,521 334.8,520.9 335.3,521.4 335.8,521.2 336.3,521.2 336.8,521.1 337.4,521.9 337.9,521.3 338.4,521.7 338.9,521.9 339.4,521.6 339.9,521.8 340.5,521.9 341,522 341.5,521.7 342,521.8 342.5,521.9 343.1,522.1 343.6,521.9 344.1,521.6 344.6,521.3 345.1,521.7 345.7,521.2 346.2,521.5 346.7,521.8 347.2,521.2 347.7,521.6 348.2,521.2 348.8,520.9 349.3,521.2 349.8,521.1 350.3,520.4 350.8,520.9 352.3,522.5"/></defs>
<use href="#w2" stroke-width="0.92" stroke-dasharray="0 29.00 661.83 9999"/>
<use href="#w2" fill="none" stroke-width="1.05" stroke-dasharray="0 690.53 115.37 9999"/>
<defs><path id="w3" d="M90.8,524.9L90.8,495.9 91.2,495.8 92.6,495.6 94,495.4 95.4,494.9 96.7,494.4 98.1,493.8 99.5,493.2 100.9,492.3 102.3,491.4 103.7,490.3 105,489.1 106.4,487.7 107.8,485.9 109.2,483.4 110.6,480.9 111.9,479.1 113.3,479.8 114.7,481.7 116.1,483.9 117.5,485.8 118.9,487 120.2,487.9 121.6,488.7 123,489.6 124.4,490 125.8,489.9 127.2,489.3 128.5,487.6 129.9,485.9 131.3,484 132.7,481.8 134.1,479.1 135.4,476.6 136.8,475.5 138.2,475.5 139.6,476.7 141,479.7 142.4,482.9 143.7,485.3 145.1,486.9 146.5,488.1 147.9,488.9 149.3,488.6 150.7,488 152,487.5 153.4,486.7 154.8,485.1 155.5,484.2 155.7,483.9 155.9,483.6 156.1,483.3 156.3,482.9 156.5,482.6 156.7,482.2 156.9,481.8 157.2,481.3 157.4,480.9 157.6,480.4 157.8,479.8 158,479.2 158.2,478.5 158.4,477.9 158.6,477.2 158.8,476.5 159,475.7 159.2,475 159.4,474.1 159.6,473.2 159.8,472.2 160.1,471.1 160.3,469.7 160.5,468.1 160.7,466.4 160.9,464.5 161.1,462.4 161.3,460 161.5,457.5 161.7,455.1 161.9,452.7 162.1,450.1 162.3,447 162.5,443.1 162.7,438.4 163,432.5 163.2,424.3 163.4,412 163.6,400.5 163.8,391.7 164,383.2 164.2,374.1 164.4,374.4 164.6,385 164.8,394.7 165,406.1 165.2,420.7 165.4,433.8 165.7,444.3 165.9,451 166.1,455.6 166.3,459.4 166.5,462.6 166.7,464.9 166.9,466.5 167.1,467.8 167.3,468.9 167.5,469.8 167.7,470.7 167.9,471.6 168.1,472.4 168.3,473.1 168.6,473.9 168.8,474.5 169,475.2 169.2,475.7 169.4,476.3 169.6,476.8 169.8,477.3 170,477.7 170.2,478.1 170.4,478.6 170.6,479 170.8,479.3 171,479.7 171.3,480.1 171.5,480.4 171.7,480.8 171.9,481.1 172.1,481.5 172.3,481.8 172.5,482.2 172.7,482.5 172.9,482.8 173.1,483.1 173.3,483.4 173.5,483.6 173.7,483.8 173.9,484 174.2,484.1 174.4,484.3 174.5,484.4 175.9,485.2 177.3,486.2 178.6,487 180,487.3 181.4,487.6 182.8,487.7 184.2,487.5 185.6,487 186.9,486.2 188.3,485.5 189.7,484.5 191.1,483 192.5,481.2 193.9,479.1 195.2,476.8 196.6,474.8 198,475.7 199.4,479.6 200.8,483.2 202.1,486 203.5,488.4 204.9,490.3 206.3,491.6 207.7,492.6 209.1,493.4 210.4,493.9 211.8,493.7 213.2,493 214.2,492.2 214.5,492 214.7,491.8 214.9,491.6 215.1,491.3 215.3,491 215.5,490.7 215.7,490.4 215.9,490.1 216.1,489.8 216.3,489.4 216.5,489 216.7,488.6 216.9,488.1 217.1,487.6 217.4,487.1 217.6,486.5 217.8,485.9 218,485.3 218.2,484.6 218.4,484 218.6,483.2 218.8,482.4 219,481.6 219.2,480.7 219.4,479.8 219.6,478.8 219.8,477.7 220,476.7 220.3,475.6 220.5,474.4 220.7,473.1 220.9,471.7 221.1,469.9 221.3,467.9 221.5,465 221.7,461 221.9,454.8 222.1,445.3 222.3,433.2 222.5,416.4 222.7,398.1 223,382.9 223.2,373 223.4,365.9 223.6,365.5 223.8,369.2 224,374.7 224.2,381.8 224.4,393.4 224.6,404.6 224.8,415.2 225,425.5 225.2,435.5 225.4,446.1 225.6,454.7 225.9,459.5 226.1,462.8 226.3,465.4 226.5,467.4 226.7,469.2 226.9,470.7 227.1,472.1 227.3,473.4 227.5,474.5 227.7,475.6 227.9,476.7 228.1,477.8 228.3,478.9 228.6,479.9 228.8,481 229,482.1 229.2,483.1 229.4,484.1 229.6,485.1 229.8,486 230,486.9 230.2,487.7 230.4,488.4 230.6,489.1 230.8,489.8 231,490.4 231.2,491 231.5,491.6 231.7,492.2 231.9,492.7 232.1,493.2 232.3,493.7 232.5,494.1 232.7,494.5 232.9,494.9 233.1,495.2 233.3,495.5 234.6,497.4 236,498.8 237.4,499.9 238.8,500.7 240.2,501.3 241.5,501.5 242.9,501.2 244.3,500.4 245.7,499.5 247.1,498.7 248.5,498.2 249.8,498.3 251.2,499 252.3,499.8 252.8,500.3 253.3,501 253.8,501.8 254.3,502.7 254.9,503.6 255.4,504.5 255.9,505.4 256.4,506.1 256.9,506.9 257.4,507.6 258,508.2 258.5,509 259,509.5 259.5,510.4 260,511 260.6,511.8 261.1,511.9 261.6,512.6 262.1,512.8 262.6,513.6 263.1,513.8 263.7,514.2 264.2,514.6 264.7,514.6 265.2,514.8 265.7,515.3 266.3,515.8 266.8,515.7 267.3,515.6 267.8,515.8 268.3,515.7 268.8,515.6 269.4,515.8 269.9,515.3 270.4,514.8 270.9,515.3 271.4,514.9 272,514.5 272.5,514.9 273,514.5 273.5,514.8 274,514.4 274.6,514.6 275.1,514.5 275.6,514.4 276.1,514.5 276.6,514.6 277.1,515.4 277.7,514.5 278.2,515.2 278.7,515.7 279.2,515.8 279.7,515.8 280.3,516.5 280.8,516.6 281.3,516.9 281.8,516.9 282.3,517.6 282.8,517.6 283.4,518 283.9,518.5 284.4,518.4 284.9,519.1 285.4,519.7 286,519.6 286.5,519.9 287,520.2 287.5,520.3 288,519.9 288.5,520.6 289.1,520.7 289.6,521 290.1,520.7 290.6,521.2 291.1,521.5 291.7,521.7 292.2,521.3 292.7,521.3 293.2,521.9 293.7,521.7 294.3,521.3 294.8,521.1 295.3,521.7 295.8,521.4 296.3,520.9 296.8,521.2 297.4,521.1 297.9,521 298.4,521.1 298.9,520.6 299.4,520.5 300,520.9 300.5,520.4 301,520.1 301.5,520.3 302,520.1 302.5,520.5 303.1,520.1 303.6,520.7 304.1,520.1 304.6,520.8 305.1,521 305.7,521.2 306.2,521.2 306.7,521.4 307.2,521.6 307.7,521.6 308.2,521.5 308.8,521.6 309.3,522.1 309.8,521.8 310.3,522.5 310.8,522.7 311.4,522.9 311.9,522.5 312.4,523.2 312.9,523.3 313.4,522.7 313.9,522.6 314.5,522.8 315,523.7 315.5,523.3 316,523.1 316.5,523.4 317.1,523.8 317.6,523.5 318.1,523.8 318.6,523.7 319.1,522.7 319.7,523 320.2,523.6 320.7,523.6 321.2,523 321.7,523.2 322.2,522.8 322.8,523.1 323.3,522.9 323.8,522.7 324.3,523 324.8,523.2 325.4,523 325.9,522.8 326.4,522.6 326.9,522.6 327.4,522.6 327.9,522.4 328.5,522.9 329,522.3 329.5,522.2 330,522.7 330.5,522.8 331.1,522.6 331.6,522.9 332.1,523.2 332.6,523.4 333.1,523.7 333.6,523.9 334.2,523.5 334.7,523.4 335.2,524.1 335.7,523.9 336.2,523.9 336.8,524.2 337.3,524.3 337.8,524.2 338.3,524.7 338.8,524.2 339.4,524.3 339.9,523.6 340.4,523.9 340.9,524.3 341.4,524.2 341.9,523.6 342.5,523.6 343,524 343.5,524 344,524.3 344.5,523.9 345.1,523.8 345.6,523.9 346.1,523.1 346.6,524.1 347.1,523.5 347.6,523.3 348.2,523.3 348.7,522.9 350.0,524.9"/></defs>
<use href="#w3" stroke-width="0.92" stroke-dasharray="0 29.00 664.42 9999"/>
<use href="#w3" fill="none" stroke-width="1.05" stroke-dasharray="0 693.12 114.62 9999"/>
<defs><path id="w4" d="M88.6,527.3L88.6,498.4 89.1,498.3 90.4,498.1 91.8,497.8 93.2,497.4 94.6,496.9 96,496.3 97.4,495.6 98.7,494.8 100.1,493.8 101.5,492.7 102.9,491.5 104.3,490.1 105.6,488.4 107,485.8 108.4,483.3 109.8,481.6 111.2,482.3 112.6,484.2 113.9,486.3 115.3,488.2 116.7,489.5 118.1,490.4 119.5,491.2 120.9,492.1 122.2,492.5 123.6,492.3 125,491.7 126.4,490.1 127.8,488.3 129.1,486.4 130.5,484.2 131.9,481.5 133.3,479 134.7,477.9 136.1,477.9 137.4,479.1 138.8,482.1 140.2,485.3 141.6,487.7 143,489.3 144.4,490.5 145.7,491.4 147.1,491.1 148.5,490.4 149.9,489.9 151.3,489.1 152.6,487.6 153.3,486.6 153.5,486.3 153.8,486 154,485.7 154.2,485.4 154.4,485 154.6,484.6 154.8,484.2 155,483.8 155.2,483.3 155.4,482.8 155.6,482.3 155.8,481.7 156,481 156.2,480.4 156.4,479.7 156.7,479 156.9,478.3 157.1,477.5 157.3,476.7 157.5,475.8 157.7,474.8 157.9,473.7 158.1,472.3 158.3,470.7 158.5,469 158.7,467.2 158.9,465.1 159.1,462.7 159.4,460.2 159.6,457.8 159.8,455.4 160,452.9 160.2,449.8 160.4,446 160.6,441.3 160.8,435.4 161,427.4 161.2,415.2 161.4,403.8 161.6,395.1 161.8,386.7 162,377.7 162.3,378 162.5,388.4 162.7,398.1 162.9,409.3 163.1,423.7 163.3,436.8 163.5,447.1 163.7,453.8 163.9,458.3 164.1,462.1 164.3,465.3 164.5,467.5 164.7,469.1 164.9,470.4 165.2,471.5 165.4,472.4 165.6,473.3 165.8,474.1 166,474.9 166.2,475.7 166.4,476.4 166.6,477.1 166.8,477.7 167,478.3 167.2,478.8 167.4,479.3 167.6,479.8 167.9,480.2 168.1,480.6 168.3,481 168.5,481.4 168.7,481.8 168.9,482.2 169.1,482.5 169.3,482.9 169.5,483.3 169.7,483.6 169.9,484 170.1,484.3 170.3,484.6 170.5,485 170.8,485.3 171,485.5 171.2,485.8 171.4,486 171.6,486.2 171.8,486.4 172,486.6 172.2,486.7 172.3,486.8 173.7,487.7 175.1,488.6 176.5,489.4 177.9,489.8 179.3,490 180.6,490.2 182,490 183.4,489.4 184.8,488.7 186.2,487.9 187.6,486.9 188.9,485.5 190.3,483.7 191.7,481.6 193.1,479.2 194.5,477.2 195.8,478.1 197.2,482 198.6,485.7 200,488.5 201.4,490.8 202.8,492.8 204.1,494.1 205.5,495 206.9,495.8 208.3,496.3 209.7,496.1 211.1,495.4 212.1,494.7 212.3,494.4 212.5,494.2 212.7,494 212.9,493.7 213.1,493.5 213.3,493.2 213.5,492.9 213.7,492.6 214,492.2 214.2,491.9 214.4,491.5 214.6,491 214.8,490.5 215,490 215.2,489.5 215.4,488.9 215.6,488.3 215.8,487.7 216,487.1 216.2,486.4 216.4,485.7 216.7,484.9 216.9,484 217.1,483.1 217.3,482.2 217.5,481.2 217.7,480.2 217.9,479.1 218.1,478 218.3,476.9 218.5,475.6 218.7,474.2 218.9,472.4 219.1,470.4 219.3,467.6 219.6,463.5 219.8,457.4 220,447.9 220.2,435.9 220.4,419.2 220.6,401 220.8,385.8 221,376 221.2,369 221.4,368.5 221.6,372.3 221.8,377.7 222,384.8 222.3,396.3 222.5,407.4 222.7,418 222.9,428.3 223.1,438.2 223.3,448.7 223.5,457.3 223.7,462 223.9,465.4 224.1,467.9 224.3,469.9 224.5,471.7 224.7,473.2 224.9,474.6 225.2,475.8 225.4,477 225.6,478.1 225.8,479.2 226,480.2 226.2,481.3 226.4,482.4 226.6,483.5 226.8,484.5 227,485.6 227.2,486.5 227.4,487.5 227.6,488.4 227.8,489.3 228.1,490.1 228.3,490.8 228.5,491.5 228.7,492.2 228.9,492.9 229.1,493.5 229.3,494.1 229.5,494.6 229.7,495.1 229.9,495.6 230.1,496.1 230.3,496.5 230.5,496.9 230.8,497.3 231,497.7 231.1,497.9 232.5,499.9 233.9,501.3 235.2,502.3 236.6,503.1 238,503.8 239.4,504 240.8,503.6 242.2,502.8 243.5,501.9 244.9,501.1 246.3,500.6 247.7,500.7 249.1,501.4 250.1,502.1 250.6,502.6 251.1,503.3 251.7,504.1 252.2,505 252.7,505.9 253.2,506.8 253.7,507.6 254.3,508.4 254.8,509 255.3,509.7 255.8,510.4 256.3,511.1 256.8,511.8 257.4,512.4 257.9,512.9 258.4,513.6 258.9,514.3 259.4,514.7 260,515.4 260.5,515.4 261,515.8 261.5,516 262,516.3 262.5,517.2 263.1,517.3 263.6,517.4 264.1,517.7 264.6,518.1 265.1,517.9 265.7,517.9 266.2,517.6 266.7,517.9 267.2,517.8 267.7,517.7 268.2,517.5 268.8,517.5 269.3,517.2 269.8,516.8 270.3,516.7 270.8,516.3 271.4,516.3 271.9,516.3 272.4,516.8 272.9,516.3 273.4,516.2 274,517 274.5,517.1 275,517.3 275.5,517.5 276,517.5 276.5,518 277.1,517.8 277.6,518.6 278.1,518.5 278.6,518.9 279.1,519.3 279.7,519.1 280.2,519.7 280.7,519.9 281.2,520.5 281.7,520.5 282.2,520.9 282.8,521.4 283.3,522.2 283.8,521.7 284.3,522 284.8,522.4 285.4,522.6 285.9,522.8 286.4,522.9 286.9,523.4 287.4,523.2 287.9,523.2 288.5,523.6 289,523.8 289.5,523.1 290,523.5 290.5,523.8 291.1,523.9 291.6,524.5 292.1,524.1 292.6,523.8 293.1,523.3 293.7,524.1 294.2,523.6 294.7,522.8 295.2,523 295.7,523 296.2,522.7 296.8,523 297.3,522.9 297.8,522.6 298.3,522.5 298.8,523 299.4,522.3 299.9,523.2 300.4,522.9 300.9,521.9 301.4,523 301.9,522.7 302.5,523.3 303,523.2 303.5,523.5 304,523.5 304.5,523.4 305.1,523.2 305.6,523.6 306.1,523.6 306.6,524.3 307.1,523.9 307.6,524.3 308.2,524.2 308.7,524.8 309.2,524.9 309.7,524.6 310.2,525 310.8,525.2 311.3,525.5 311.8,525.5 312.3,525.4 312.8,525.4 313.4,525.8 313.9,525.8 314.4,525.6 314.9,526 315.4,525.4 315.9,525.7 316.5,525.7 317,526.3 317.5,526 318,525.8 318.5,525.6 319.1,525.7 319.6,525.3 320.1,525.3 320.6,525.3 321.1,525.8 321.6,524.7 322.2,525.1 322.7,524.8 323.2,525.1 323.7,524.9 324.2,524.7 324.8,524.8 325.3,524.6 325.8,525 326.3,524.4 326.8,525.5 327.3,525.2 327.9,524.9 328.4,525.3 328.9,525.5 329.4,525.9 329.9,525.2 330.5,526.2 331,525.7 331.5,525.9 332,525.8 332.5,525.7 333,526.4 333.6,526.5 334.1,526.4 334.6,526.9 335.1,526.2 335.6,526.6 336.2,526.5 336.7,526.9 337.2,526.6 337.7,526.7 338.2,526.6 338.8,526.9 339.3,526.2 339.8,526.7 340.3,527.1 340.8,526.2 341.3,526.4 341.9,526.5 342.4,525.5 342.9,526.2 343.4,526.5 343.9,526.2 344.5,525.8 345,525.9 345.5,525.5 346,525.5 346.5,525.9 347.8,527.3"/></defs>
<use href="#w4" stroke-width="0.92" stroke-dasharray="0 28.90 660.98 9999"/>
<use href="#w4" fill="none" stroke-width="1.05" stroke-dasharray="0 689.58 117.33 9999"/>
<defs><path id="w5" d="M86.4,529.8L86.4,500.8 86.9,500.7 88.3,500.5 89.7,500.2 91,499.8 92.4,499.3 93.8,498.7 95.2,498 96.6,497.2 98,496.2 99.3,495.2 100.7,494 102.1,492.5 103.5,490.8 104.9,488.2 106.3,485.8 107.6,484 109,484.7 110.4,486.6 111.8,488.7 113.2,490.7 114.5,491.9 115.9,492.8 117.3,493.6 118.7,494.5 120.1,494.9 121.5,494.7 122.8,494.1 124.2,492.5 125.6,490.8 127,488.9 128.4,486.6 129.8,483.9 131.1,481.5 132.5,480.3 133.9,480.4 135.3,481.5 136.7,484.6 138.1,487.7 139.4,490.2 140.8,491.8 142.2,492.9 143.6,493.8 145,493.5 146.3,492.9 147.7,492.4 149.1,491.5 150.5,490 151.2,489.1 151.4,488.8 151.6,488.5 151.8,488.1 152,487.8 152.2,487.4 152.4,487 152.6,486.6 152.8,486.2 153,485.7 153.3,485.2 153.5,484.7 153.7,484.1 153.9,483.4 154.1,482.8 154.3,482.1 154.5,481.4 154.7,480.6 154.9,479.9 155.1,479.1 155.3,478.2 155.5,477.2 155.7,476 156,474.6 156.2,473.1 156.4,471.3 156.6,469.5 156.8,467.4 157,465 157.2,462.5 157.4,460.1 157.6,457.7 157.8,455.1 158,452 158.2,448.2 158.4,443.5 158.6,437.6 158.9,429.5 159.1,417.3 159.3,405.8 159.5,397 159.7,388.6 159.9,379.6 160.1,379.9 160.3,390.3 160.5,400.1 160.7,411.3 160.9,425.9 161.1,439 161.3,449.3 161.6,456 161.8,460.6 162,464.4 162.2,467.6 162.4,469.9 162.6,471.4 162.8,472.7 163,473.8 163.2,474.8 163.4,475.6 163.6,476.5 163.8,477.3 164,478.1 164.2,478.8 164.5,479.5 164.7,480.1 164.9,480.7 165.1,481.2 165.3,481.7 165.5,482.2 165.7,482.6 165.9,483 166.1,483.4 166.3,483.8 166.5,484.2 166.7,484.6 166.9,485 167.2,485.3 167.4,485.7 167.6,486 167.8,486.4 168,486.7 168.2,487.1 168.4,487.4 168.6,487.7 168.8,488 169,488.2 169.2,488.5 169.4,488.7 169.6,488.8 169.8,489 170.1,489.2 170.2,489.2 171.6,490.1 173,491.1 174.3,491.9 175.7,492.2 177.1,492.5 178.5,492.6 179.9,492.4 181.3,491.8 182.6,491.1 184,490.3 185.4,489.4 186.8,487.9 188.2,486.1 189.5,484 190.9,481.7 192.3,479.7 193.7,480.6 195.1,484.5 196.5,488.1 197.8,490.9 199.2,493.3 200.6,495.2 202,496.5 203.4,497.5 204.8,498.2 206.1,498.7 207.5,498.5 208.9,497.8 209.9,497.1 210.1,496.9 210.4,496.7 210.6,496.4 210.8,496.2 211,495.9 211.2,495.6 211.4,495.3 211.6,495 211.8,494.7 212,494.3 212.2,493.9 212.4,493.5 212.6,493 212.8,492.5 213,491.9 213.3,491.3 213.5,490.7 213.7,490.1 213.9,489.5 214.1,488.8 214.3,488.1 214.5,487.3 214.7,486.5 214.9,485.6 215.1,484.6 215.3,483.6 215.5,482.6 215.7,481.5 215.9,480.4 216.2,479.3 216.4,478 216.6,476.5 216.8,474.8 217,472.7 217.2,469.9 217.4,465.8 217.6,459.6 217.8,450.1 218,438 218.2,421.2 218.4,402.9 218.6,387.7 218.9,377.8 219.1,370.7 219.3,370.2 219.5,374 219.7,379.5 219.9,386.6 220.1,398.2 220.3,409.4 220.5,420 220.7,430.4 220.9,440.3 221.1,450.9 221.3,459.5 221.5,464.3 221.8,467.7 222,470.2 222.2,472.3 222.4,474 222.6,475.6 222.8,477 223,478.2 223.2,479.4 223.4,480.5 223.6,481.5 223.8,482.6 224,483.7 224.2,484.8 224.5,485.9 224.7,486.9 224.9,488 225.1,489 225.3,489.9 225.5,490.9 225.7,491.7 225.9,492.5 226.1,493.3 226.3,494 226.5,494.6 226.7,495.3 226.9,495.9 227.1,496.5 227.4,497 227.6,497.6 227.8,498.1 228,498.5 228.2,498.9 228.4,499.3 228.6,499.7 228.8,500.1 228.9,500.3 230.3,502.3 231.7,503.7 233.1,504.8 234.5,505.5 235.9,506.2 237.2,506.4 238.6,506 240,505.3 241.4,504.4 242.8,503.5 244.1,503 245.5,503.1 246.9,503.8 248,504.5 248.5,505 249,505.6 249.5,506.4 250,507.2 250.5,508.1 251.1,509 251.6,509.8 252.1,510.5 252.6,511.2 253.1,511.9 253.7,512.5 254.2,513.1 254.7,514 255.2,514.5 255.7,515.1 256.2,515.8 256.8,516.1 257.3,516.7 257.8,517.3 258.3,517.6 258.8,517.9 259.4,518.5 259.9,518.9 260.4,518.9 260.9,519.7 261.4,519.7 261.9,519.7 262.5,520 263,520.7 263.5,520.3 264,520.2 264.5,520.2 265.1,519.8 265.6,519.7 266.1,519.6 266.6,519.5 267.1,519.1 267.7,518.9 268.2,519.6 268.7,518.4 269.2,519.1 269.7,518.6 270.2,519.3 270.8,519 271.3,519.3 271.8,518.7 272.3,518.9 272.8,519.3 273.4,519.6 273.9,519.7 274.4,520.3 274.9,520.5 275.4,520.8 275.9,520.6 276.5,521.1 277,521.8 277.5,521.6 278,521.9 278.5,522 279.1,522.8 279.6,522.9 280.1,522.7 280.6,523.8 281.1,524.1 281.6,524.1 282.2,524.6 282.7,524.7 283.2,525.1 283.7,525.3 284.2,525 284.8,525.5 285.3,525.8 285.8,525.7 286.3,525.8 286.8,525.8 287.3,525.7 287.9,525.5 288.4,526.4 288.9,526.2 289.4,526.6 289.9,526 290.5,525.9 291,526.1 291.5,526.1 292,526.1 292.5,526.1 293.1,525.4 293.6,524.9 294.1,525.7 294.6,524.8 295.1,525.3 295.6,525.6 296.2,525 296.7,524.9 297.2,525 297.7,525.2 298.2,524.6 298.8,525.2 299.3,525 299.8,525.1 300.3,525.7 300.8,526.1 301.3,526.2 301.9,525.9 302.4,525.8 302.9,526.6 303.4,526.5 303.9,526 304.5,527.1 305,526.6 305.5,526.8 306,526.8 306.5,527.5 307,527.2 307.6,527.8 308.1,527.1 308.6,527.9 309.1,527.6 309.6,528.1 310.2,527.9 310.7,528.4 311.2,527.9 311.7,527.9 312.2,528.1 312.8,527.6 313.3,527.9 313.8,527.8 314.3,527.8 314.8,527.4 315.3,528.1 315.9,527.9 316.4,527.9 316.9,527.6 317.4,527.6 317.9,527.4 318.5,527.5 319,527.7 319.5,527.5 320,527.3 320.5,528 321,526.9 321.6,527.4 322.1,527.4 322.6,527.2 323.1,527.3 323.6,527.7 324.2,527.4 324.7,527 325.2,527.1 325.7,527.2 326.2,527.8 326.7,527.8 327.3,527.5 327.8,527.5 328.3,528 328.8,528.4 329.3,528.8 329.9,528 330.4,528.9 330.9,528.4 331.4,528.4 331.9,527.8 332.5,528.7 333,528.9 333.5,528.7 334,528.8 334.5,528.5 335,528.7 335.6,529.2 336.1,529.6 336.6,528.8 337.1,529.1 337.6,528.5 338.2,529.2 338.7,528.7 339.2,528.9 339.7,528.9 340.2,528.1 340.7,528.5 341.3,528.5 341.8,528.1 342.3,528.5 342.8,528.3 343.3,528.3 343.9,527.5 344.4,527.9 345.6,529.8"/></defs>
<use href="#w5" stroke-width="0.92" stroke-dasharray="0 29.00 663.13 9999"/>
<use href="#w5" fill="none" stroke-width="1.05" stroke-dasharray="0 691.83 119.43 9999"/>
<defs><path id="w6" d="M84.2,532.2L84.2,503.2 84.7,503.1 86.1,502.9 87.5,502.6 88.9,502.2 90.3,501.7 91.7,501.1 93,500.5 94.4,499.6 95.8,498.7 97.2,497.6 98.6,496.4 100,494.9 101.3,493.2 102.7,490.7 104.1,488.2 105.5,486.4 106.9,487.1 108.2,489 109.6,491.1 111,493.1 112.4,494.3 113.8,495.2 115.2,496 116.5,496.9 117.9,497.3 119.3,497.2 120.7,496.6 122.1,494.9 123.5,493.2 124.8,491.3 126.2,489.1 127.6,486.4 129,483.9 130.4,482.8 131.7,482.8 133.1,483.9 134.5,487 135.9,490.2 137.3,492.6 138.7,494.2 140,495.4 141.4,496.2 142.8,495.9 144.2,495.3 145.6,494.8 147,494 148.3,492.4 149,491.5 149.2,491.2 149.4,490.9 149.7,490.6 149.9,490.2 150.1,489.8 150.3,489.5 150.5,489.1 150.7,488.6 150.9,488.2 151.1,487.7 151.3,487.1 151.5,486.5 151.7,485.9 151.9,485.2 152.1,484.5 152.3,483.8 152.6,483.1 152.8,482.3 153,481.5 153.2,480.6 153.4,479.6 153.6,478.4 153.8,477.1 154,475.5 154.2,473.8 154.4,471.9 154.6,469.8 154.8,467.4 155,464.9 155.2,462.5 155.5,460.1 155.7,457.5 155.9,454.4 156.1,450.6 156.3,445.9 156.5,440 156.7,431.9 156.9,419.6 157.1,408.1 157.3,399.3 157.5,390.9 157.7,381.9 157.9,382.2 158.2,392.7 158.4,402.4 158.6,413.7 158.8,428.2 159,441.3 159.2,451.7 159.4,458.4 159.6,463 159.8,466.8 160,470 160.2,472.3 160.4,473.9 160.6,475.1 160.8,476.2 161.1,477.2 161.3,478 161.5,478.9 161.7,479.7 161.9,480.5 162.1,481.2 162.3,481.9 162.5,482.5 162.7,483.1 162.9,483.6 163.1,484.1 163.3,484.6 163.5,485 163.8,485.5 164,485.9 164.2,486.3 164.4,486.6 164.6,487 164.8,487.4 165,487.7 165.2,488.1 165.4,488.4 165.6,488.8 165.8,489.1 166,489.5 166.2,489.8 166.4,490.1 166.7,490.4 166.9,490.7 167.1,490.9 167.3,491.1 167.5,491.3 167.7,491.4 167.9,491.6 168,491.7 169.4,492.5 170.8,493.5 172.2,494.3 173.6,494.6 174.9,494.9 176.3,495 177.7,494.8 179.1,494.2 180.5,493.5 181.9,492.8 183.2,491.8 184.6,490.3 186,488.5 187.4,486.4 188.8,484.1 190.2,482.1 191.5,483 192.9,486.9 194.3,490.5 195.7,493.3 197.1,495.7 198.4,497.6 199.8,498.9 201.2,499.9 202.6,500.7 204,501.2 205.4,501 206.7,500.3 207.8,499.5 208,499.3 208.2,499.1 208.4,498.8 208.6,498.6 208.8,498.3 209,498 209.2,497.7 209.4,497.4 209.6,497.1 209.9,496.7 210.1,496.3 210.3,495.9 210.5,495.4 210.7,494.9 210.9,494.3 211.1,493.8 211.3,493.2 211.5,492.6 211.7,491.9 211.9,491.2 212.1,490.5 212.3,489.7 212.6,488.9 212.8,488 213,487 213.2,486 213.4,485 213.6,483.9 213.8,482.8 214,481.7 214.2,480.4 214.4,478.9 214.6,477.2 214.8,475.1 215,472.3 215.2,468.2 215.5,462 215.7,452.4 215.9,440.3 216.1,423.5 216.3,405.1 216.5,389.8 216.7,379.9 216.9,372.8 217.1,372.3 217.3,376.1 217.5,381.6 217.7,388.8 217.9,400.4 218.1,411.6 218.4,422.3 218.6,432.6 218.8,442.6 219,453.2 219.2,461.9 219.4,466.7 219.6,470.1 219.8,472.6 220,474.7 220.2,476.4 220.4,478 220.6,479.4 220.8,480.6 221.1,481.8 221.3,482.9 221.5,484 221.7,485 221.9,486.1 222.1,487.2 222.3,488.3 222.5,489.4 222.7,490.4 222.9,491.4 223.1,492.4 223.3,493.3 223.5,494.2 223.7,495 224,495.7 224.2,496.4 224.4,497.1 224.6,497.7 224.8,498.3 225,498.9 225.2,499.5 225.4,500 225.6,500.5 225.8,500.9 226,501.4 226.2,501.8 226.4,502.2 226.7,502.5 226.8,502.8 228.2,504.7 229.6,506.1 230.9,507.2 232.3,508 233.7,508.6 235.1,508.8 236.5,508.5 237.8,507.7 239.2,506.8 240.6,506 242,505.5 243.4,505.5 244.8,506.1 245.8,506.8 246.3,507.3 246.8,507.9 247.4,508.7 247.9,509.5 248.4,510.4 248.9,511.2 249.4,512 249.9,512.7 250.5,513.4 251,514.1 251.5,514.8 252,515.3 252.5,516.1 253.1,516.5 253.6,517 254.1,517.6 254.6,518 255.1,518.9 255.6,519.2 256.2,519.8 256.7,520.2 257.2,520.8 257.7,521.1 258.2,521.1 258.8,521.4 259.3,521.6 259.8,521.8 260.3,522.1 260.8,522.6 261.3,522.4 261.9,522.2 262.4,521.9 262.9,522.3 263.4,522.2 263.9,522 264.5,521.3 265,521.4 265.5,521.6 266,521.6 266.5,521.1 267.1,521.7 267.6,521.2 268.1,521.3 268.6,521.3 269.1,521.2 269.6,521.2 270.2,520.6 270.7,521.6 271.2,521.7 271.7,522.3 272.2,522.8 272.8,522.3 273.3,522.3 273.8,523.4 274.3,523.4 274.8,523.4 275.3,524 275.9,525 276.4,524.3 276.9,525 277.4,525.1 277.9,525.9 278.5,525.7 279,525.9 279.5,526.7 280,526.6 280.5,527.2 281,527.3 281.6,527.6 282.1,527.6 282.6,527.8 283.1,527.4 283.6,527.9 284.2,528.3 284.7,527.7 285.2,528 285.7,528 286.2,528.4 286.8,528.2 287.3,528.4 287.8,528.6 288.3,528.3 288.8,528.2 289.3,528.1 289.9,527.8 290.4,528.5 290.9,527.8 291.4,528 291.9,527.8 292.5,527.5 293,527.5 293.5,527.7 294,527.2 294.5,527.4 295,527.1 295.6,527 296.1,527.5 296.6,527.8 297.1,527.5 297.6,527.4 298.2,527.6 298.7,528.2 299.2,528.5 299.7,528.4 300.2,528.5 300.7,528.2 301.3,528.6 301.8,528.5 302.3,528.9 302.8,528.5 303.3,529.2 303.9,529.1 304.4,529.6 304.9,529.4 305.4,529.4 305.9,529.6 306.4,529.6 307,530.2 307.5,530 308,529.7 308.5,530.2 309,530.4 309.6,530.4 310.1,530.5 310.6,530.3 311.1,529.9 311.6,530.2 312.2,530.3 312.7,530.5 313.2,530.5 313.7,529.5 314.2,530.2 314.7,530 315.3,530.1 315.8,529.9 316.3,530 316.8,529.8 317.3,529.3 317.9,529.9 318.4,529.5 318.9,529.6 319.4,529.4 319.9,529.7 320.4,529.4 321,529.8 321.5,530.1 322,530 322.5,530 323,530.1 323.6,529.9 324.1,529.6 324.6,530.3 325.1,530 325.6,530.2 326.1,530.6 326.7,530.8 327.2,530.5 327.7,530.6 328.2,530.9 328.7,531 329.3,531 329.8,531.4 330.3,531.1 330.8,531.1 331.3,530.7 331.9,531.6 332.4,531.5 332.9,531.3 333.4,531.5 333.9,531.4 334.4,531.3 335,531.4 335.5,531.3 336,531.1 336.5,531.6 337,530.9 337.6,531.7 338.1,530.5 338.6,530.6 339.1,531 339.6,530.4 340.1,530.7 340.7,530.4 341.2,530.3 341.7,530.3 342.2,530.4 343.4,532.2"/></defs>
<use href="#w6" stroke-width="0.92" stroke-dasharray="0 29.00 664.01 9999"/>
<use href="#w6" fill="none" stroke-width="1.05" stroke-dasharray="0 692.71 114.13 9999"/>
<defs><path id="w7" d="M81.9,534.6L81.9,505.7 82.6,505.5 84,505.3 85.4,505.1 86.7,504.7 88.1,504.1 89.5,503.6 90.9,502.9 92.3,502.1 93.7,501.1 95,500 96.4,498.8 97.8,497.4 99.2,495.6 100.6,493.1 101.9,490.6 103.3,488.9 104.7,489.6 106.1,491.5 107.5,493.6 108.9,495.5 110.2,496.7 111.6,497.6 113,498.5 114.4,499.3 115.8,499.8 117.2,499.6 118.5,499 119.9,497.4 121.3,495.6 122.7,493.7 124.1,491.5 125.4,488.8 126.8,486.3 128.2,485.2 129.6,485.2 131,486.4 132.4,489.4 133.7,492.6 135.1,495 136.5,496.6 137.9,497.8 139.3,498.7 140.7,498.3 142,497.7 143.4,497.2 144.8,496.4 146.2,494.8 146.9,493.9 147.1,493.6 147.3,493.3 147.5,493 147.7,492.6 147.9,492.3 148.1,491.9 148.3,491.5 148.5,491.1 148.7,490.6 148.9,490.1 149.2,489.5 149.4,488.9 149.6,488.3 149.8,487.6 150,486.9 150.2,486.2 150.4,485.5 150.6,484.7 150.8,483.9 151,483 151.2,482 151.4,480.9 151.6,479.5 151.9,478 152.1,476.2 152.3,474.4 152.5,472.3 152.7,469.9 152.9,467.4 153.1,465 153.3,462.6 153.5,460 153.7,456.9 153.9,453.1 154.1,448.4 154.3,442.5 154.5,434.4 154.8,422.2 155,410.7 155.2,402 155.4,393.6 155.6,384.5 155.8,384.8 156,395.3 156.2,405 156.4,416.3 156.6,430.8 156.8,443.9 157,454.2 157.2,460.9 157.5,465.5 157.7,469.3 157.9,472.5 158.1,474.8 158.3,476.3 158.5,477.6 158.7,478.7 158.9,479.6 159.1,480.5 159.3,481.4 159.5,482.2 159.7,482.9 159.9,483.7 160.1,484.3 160.4,484.9 160.6,485.5 160.8,486 161,486.5 161.2,487 161.4,487.5 161.6,487.9 161.8,488.3 162,488.7 162.2,489.1 162.4,489.5 162.6,489.8 162.8,490.2 163,490.5 163.3,490.9 163.5,491.2 163.7,491.6 163.9,491.9 164.1,492.2 164.3,492.5 164.5,492.8 164.7,493.1 164.9,493.3 165.1,493.5 165.3,493.7 165.5,493.9 165.7,494 165.9,494.1 167.3,495 168.6,495.9 170,496.7 171.4,497.1 172.8,497.3 174.2,497.4 175.6,497.3 176.9,496.7 178.3,496 179.7,495.2 181.1,494.2 182.5,492.7 183.9,490.9 185.2,488.9 186.6,486.5 188,484.5 189.4,485.4 190.8,489.3 192.1,493 193.5,495.8 194.9,498.1 196.3,500.1 197.7,501.4 199.1,502.3 200.4,503.1 201.8,503.6 203.2,503.4 204.6,502.7 205.6,501.9 205.8,501.7 206,501.5 206.2,501.3 206.5,501 206.7,500.7 206.9,500.5 207.1,500.2 207.3,499.8 207.5,499.5 207.7,499.2 207.9,498.8 208.1,498.3 208.3,497.8 208.5,497.3 208.7,496.8 208.9,496.2 209.2,495.6 209.4,495 209.6,494.3 209.8,493.7 210,492.9 210.2,492.2 210.4,491.3 210.6,490.4 210.8,489.5 211,488.5 211.2,487.5 211.4,486.4 211.6,485.3 211.8,484.1 212.1,482.9 212.3,481.4 212.5,479.7 212.7,477.6 212.9,474.8 213.1,470.7 213.3,464.5 213.5,455 213.7,443 213.9,426.2 214.1,407.9 214.3,392.7 214.5,382.8 214.8,375.8 215,375.3 215.2,379.1 215.4,384.6 215.6,391.7 215.8,403.3 216,414.4 216.2,425 216.4,435.3 216.6,445.3 216.8,455.8 217,464.4 217.2,469.2 217.4,472.6 217.7,475.1 217.9,477.2 218.1,478.9 218.3,480.5 218.5,481.8 218.7,483.1 218.9,484.3 219.1,485.4 219.3,486.4 219.5,487.5 219.7,488.6 219.9,489.7 220.1,490.7 220.3,491.8 220.6,492.8 220.8,493.8 221,494.8 221.2,495.7 221.4,496.6 221.6,497.4 221.8,498.1 222,498.8 222.2,499.5 222.4,500.2 222.6,500.8 222.8,501.4 223,501.9 223.3,502.4 223.5,502.9 223.7,503.4 223.9,503.8 224.1,504.2 224.3,504.6 224.5,505 224.6,505.2 226,507.2 227.4,508.6 228.8,509.6 230.2,510.4 231.5,511.1 232.9,511.3 234.3,510.9 235.7,510.2 237.1,509.3 238.5,508.4 239.8,507.9 241.2,507.9 242.6,508.5 243.6,509.1 244.2,509.6 244.7,510.2 245.2,511 245.7,511.8 246.2,512.6 246.8,513.5 247.3,514.2 247.8,514.9 248.3,515.6 248.8,516.2 249.3,516.8 249.9,517.6 250.4,518.1 250.9,518.6 251.4,519.3 251.9,519.9 252.5,520.1 253,520.8 253.5,521.2 254,522.1 254.5,522.1 255,522.7 255.6,522.9 256.1,523.1 256.6,523.7 257.1,524 257.6,524.8 258.2,524.2 258.7,524.2 259.2,524.5 259.7,524.6 260.2,524.3 260.8,524.1 261.3,524 261.8,523.5 262.3,524.1 262.8,524.2 263.3,523.6 263.9,523.3 264.4,523.7 264.9,523.5 265.4,523.6 265.9,523.8 266.5,523.7 267,524.1 267.5,523.6 268,523.7 268.5,523.7 269,524.4 269.6,524.6 270.1,525.1 270.6,525.3 271.1,524.9 271.6,524.6 272.2,526 272.7,526.1 273.2,526 273.7,526.8 274.2,526.8 274.7,527.3 275.3,527.7 275.8,527.6 276.3,528.3 276.8,528.9 277.3,528.5 277.9,529 278.4,529.4 278.9,529.7 279.4,529.4 279.9,529.9 280.4,529.9 281,529.7 281.5,530.2 282,530 282.5,530.8 283,530.3 283.6,530.4 284.1,530.1 284.6,530.7 285.1,530.4 285.6,530.7 286.2,530.9 286.7,530.8 287.2,530.7 287.7,530.2 288.2,530.5 288.7,530.2 289.3,529.9 289.8,529.7 290.3,529.7 290.8,529.4 291.3,530.1 291.9,529.9 292.4,529.7 292.9,529.4 293.4,529.6 293.9,530 294.4,529.9 295,530.4 295.5,529.8 296,530.6 296.5,530.2 297,530 297.6,530.2 298.1,531.1 298.6,530.7 299.1,531 299.6,531.2 300.1,530.8 300.7,531.3 301.2,531.9 301.7,532 302.2,531.6 302.7,531.9 303.3,532.4 303.8,532.7 304.3,532.5 304.8,532.5 305.3,532.3 305.9,532.7 306.4,532.4 306.9,532.3 307.4,533.2 307.9,532.9 308.4,532.3 309,532.8 309.5,532.7 310,532.4 310.5,532.8 311,532.7 311.6,533 312.1,532.3 312.6,532.5 313.1,532.5 313.6,533 314.1,532 314.7,532 315.2,532.3 315.7,531.7 316.2,532.7 316.7,532 317.3,532.4 317.8,531.1 318.3,532.6 318.8,532.3 319.3,532.2 319.8,531.8 320.4,531.8 320.9,532 321.4,532.3 321.9,531.7 322.4,532.6 323,532.4 323.5,532.1 324,533.1 324.5,533.1 325,532.7 325.6,533 326.1,533.6 326.6,533.3 327.1,532.8 327.6,533.5 328.1,533.3 328.7,533.5 329.2,533.8 329.7,533.2 330.2,533.4 330.7,533.4 331.3,533.8 331.8,533.7 332.3,533.6 332.8,533.6 333.3,533.7 333.8,533.7 334.4,533.2 334.9,533.8 335.4,533.5 335.9,533.5 336.4,533.4 337,533.5 337.5,533.3 338,532.8 338.5,533.1 339,533.1 339.5,532.3 340.1,533.1 341.1,534.6"/></defs>
<use href="#w7" stroke-width="0.92" stroke-dasharray="0 28.90 662.63 9999"/>
<use href="#w7" fill="none" stroke-width="1.05" stroke-dasharray="0 691.23 119.60 9999"/>
<defs><path id="w8" d="M79.7,537.0L79.7,508.1 80.4,508 81.8,507.8 83.2,507.5 84.6,507.1 86,506.6 87.4,506 88.7,505.3 90.1,504.5 91.5,503.5 92.9,502.5 94.3,501.2 95.6,499.8 97,498.1 98.4,495.5 99.8,493.1 101.2,491.3 102.6,492 103.9,493.9 105.3,496 106.7,498 108.1,499.2 109.5,500.1 110.9,500.9 112.2,501.8 113.6,502.2 115,502 116.4,501.4 117.8,499.8 119.1,498.1 120.5,496.2 121.9,493.9 123.3,491.2 124.7,488.8 126.1,487.6 127.4,487.6 128.8,488.8 130.2,491.8 131.6,495 133,497.5 134.4,499 135.7,500.2 137.1,501.1 138.5,500.8 139.9,500.2 141.3,499.7 142.6,498.8 144,497.3 144.7,496.4 144.9,496.1 145.1,495.8 145.3,495.4 145.6,495.1 145.8,494.7 146,494.3 146.2,493.9 146.4,493.5 146.6,493 146.8,492.5 147,492 147.2,491.4 147.4,490.7 147.6,490.1 147.8,489.4 148,488.7 148.2,487.9 148.5,487.2 148.7,486.4 148.9,485.5 149.1,484.5 149.3,483.3 149.5,482 149.7,480.4 149.9,478.7 150.1,476.8 150.3,474.7 150.5,472.3 150.7,469.9 150.9,467.4 151.1,465 151.4,462.5 151.6,459.4 151.8,455.6 152,450.9 152.2,445 152.4,436.9 152.6,424.7 152.8,413.2 153,404.4 153.2,396 153.4,387 153.6,387.3 153.8,397.8 154.1,407.5 154.3,418.7 154.5,433.2 154.7,446.3 154.9,456.7 155.1,463.4 155.3,468 155.5,471.7 155.7,474.9 155.9,477.2 156.1,478.8 156.3,480 156.5,481.1 156.7,482.1 157,482.9 157.2,483.8 157.4,484.6 157.6,485.4 157.8,486.1 158,486.8 158.2,487.4 158.4,488 158.6,488.5 158.8,489 159,489.5 159.2,489.9 159.4,490.3 159.7,490.7 159.9,491.1 160.1,491.5 160.3,491.9 160.5,492.2 160.7,492.6 160.9,493 161.1,493.3 161.3,493.7 161.5,494 161.7,494.3 161.9,494.7 162.1,495 162.3,495.3 162.6,495.5 162.8,495.7 163,495.9 163.2,496.1 163.4,496.3 163.6,496.4 163.7,496.5 165.1,497.4 166.5,498.4 167.9,499.1 169.3,499.5 170.6,499.8 172,499.9 173.4,499.7 174.8,499.1 176.2,498.4 177.6,497.6 178.9,496.7 180.3,495.2 181.7,493.4 183.1,491.3 184.5,489 185.8,486.9 187.2,487.9 188.6,491.8 190,495.4 191.4,498.2 192.8,500.6 194.1,502.5 195.5,503.8 196.9,504.7 198.3,505.5 199.7,506 201.1,505.8 202.4,505.1 203.5,504.4 203.7,504.2 203.9,503.9 204.1,503.7 204.3,503.5 204.5,503.2 204.7,502.9 204.9,502.6 205.1,502.3 205.3,502 205.5,501.6 205.8,501.2 206,500.7 206.2,500.3 206.4,499.8 206.6,499.2 206.8,498.6 207,498 207.2,497.4 207.4,496.8 207.6,496.1 207.8,495.4 208,494.6 208.2,493.7 208.4,492.8 208.7,491.9 208.9,490.9 209.1,489.9 209.3,488.8 209.5,487.7 209.7,486.5 209.9,485.3 210.1,483.8 210.3,482.1 210.5,480 210.7,477.2 210.9,473.1 211.1,466.9 211.4,457.4 211.6,445.3 211.8,428.5 212,410.1 212.2,394.9 212.4,385 212.6,377.9 212.8,377.5 213,381.2 213.2,386.7 213.4,393.9 213.6,405.5 213.8,416.6 214,427.3 214.3,437.6 214.5,447.6 214.7,458.2 214.9,466.8 215.1,471.6 215.3,475 215.5,477.5 215.7,479.6 215.9,481.3 216.1,482.9 216.3,484.2 216.5,485.5 216.7,486.7 217,487.8 217.2,488.8 217.4,489.9 217.6,491 217.8,492.1 218,493.2 218.2,494.2 218.4,495.3 218.6,496.3 218.8,497.2 219,498.2 219.2,499 219.4,499.8 219.6,500.6 219.9,501.3 220.1,501.9 220.3,502.6 220.5,503.2 220.7,503.8 220.9,504.3 221.1,504.9 221.3,505.4 221.5,505.8 221.7,506.2 221.9,506.6 222.1,507 222.3,507.4 222.5,507.6 223.9,509.6 225.2,511 226.6,512.1 228,512.8 229.4,513.5 230.8,513.7 232.2,513.3 233.5,512.6 234.9,511.7 236.3,510.9 237.7,510.3 239.1,510.3 240.5,510.8 241.5,511.5 242,511.9 242.5,512.5 243,513.3 243.6,514.1 244.1,514.9 244.6,515.7 245.1,516.5 245.6,517.1 246.2,517.8 246.7,518.4 247.2,519.1 247.7,519.7 248.2,520.2 248.7,520.8 249.3,521.3 249.8,521.9 250.3,522.5 250.8,522.9 251.3,523.5 251.9,524 252.4,524.5 252.9,524.7 253.4,525 253.9,525.7 254.4,525.9 255,526.5 255.5,526.6 256,526.5 256.5,526.9 257,526.6 257.6,526.8 258.1,526.5 258.6,526.7 259.1,526.8 259.6,526.3 260.2,526 260.7,526.3 261.2,525.9 261.7,526.1 262.2,525.9 262.7,525.4 263.3,525.8 263.8,526 264.3,525.6 264.8,525.9 265.3,526.1 265.9,525.9 266.4,527.1 266.9,526.4 267.4,526.2 267.9,526.9 268.4,527.8 269,527.1 269.5,527.1 270,527.9 270.5,528.6 271,528.8 271.6,529 272.1,529.2 272.6,529.2 273.1,529.7 273.6,530.8 274.1,530.6 274.7,530.8 275.2,530.5 275.7,531.4 276.2,531.9 276.7,531.8 277.3,531.8 277.8,532.5 278.3,531.9 278.8,532.3 279.3,532.2 279.9,532.4 280.4,532.5 280.9,532.4 281.4,532.4 281.9,533 282.4,533 283,532.7 283.5,532.9 284,533.1 284.5,532.8 285,533 285.6,532.8 286.1,533.6 286.6,532.5 287.1,531.9 287.6,532.1 288.1,532.1 288.7,532.2 289.2,532.4 289.7,532 290.2,532.1 290.7,532.1 291.3,532 291.8,532.3 292.3,532.2 292.8,532.1 293.3,532.1 293.8,532.4 294.4,532.4 294.9,532.7 295.4,533.5 295.9,533.5 296.4,533.2 297,533.6 297.5,533.3 298,534 298.5,533.9 299,534 299.5,534.2 300.1,534.3 300.6,534.3 301.1,534.4 301.6,534.7 302.1,534.6 302.7,534.6 303.2,534.9 303.7,535.1 304.2,535.1 304.7,535.1 305.3,535.2 305.8,535 306.3,534.3 306.8,534.7 307.3,535 307.8,534.8 308.4,534.8 308.9,534.5 309.4,534.4 309.9,535 310.4,534.1 311,534.9 311.5,534.6 312,534.8 312.5,535 313,534.9 313.5,533.8 314.1,533.9 314.6,534.5 315.1,534.5 315.6,533.8 316.1,534.5 316.7,534.1 317.2,533.7 317.7,534.1 318.2,533.9 318.7,534.4 319.2,535 319.8,534.8 320.3,535.2 320.8,534.7 321.3,535.3 321.8,535 322.4,535.3 322.9,535.5 323.4,535.3 323.9,535.7 324.4,535.9 325,535.4 325.5,535.8 326,536.3 326.5,535.6 327,536.4 327.5,536 328.1,535.9 328.6,536.1 329.1,536.3 329.6,536.2 330.1,536.2 330.7,536.3 331.2,535.8 331.7,536.1 332.2,536.1 332.7,535.5 333.2,536 333.8,536.1 334.3,535.6 334.8,535.5 335.3,535.4 335.8,534.8 336.4,535.4 336.9,534.8 337.4,534.9 337.9,534.7 338.9,537.0"/></defs>
<use href="#w8" stroke-width="0.92" stroke-dasharray="0 28.90 662.91 9999"/>
<use href="#w8" fill="none" stroke-width="1.05" stroke-dasharray="0 691.51 116.33 9999"/>
<defs><path id="w9" d="M77.5,539.5L77.5,510.5 78.3,510.4 79.7,510.2 81,509.9 82.4,509.5 83.8,509 85.2,508.4 86.6,507.8 88,506.9 89.3,506 90.7,504.9 92.1,503.7 93.5,502.2 94.9,500.5 96.3,497.9 97.6,495.5 99,493.7 100.4,494.4 101.8,496.3 103.2,498.4 104.6,500.4 105.9,501.6 107.3,502.5 108.7,503.3 110.1,504.2 111.5,504.6 112.8,504.4 114.2,503.9 115.6,502.2 117,500.5 118.4,498.6 119.8,496.4 121.1,493.7 122.5,491.2 123.9,490.1 125.3,490.1 126.7,491.2 128.1,494.3 129.4,497.5 130.8,499.9 132.2,501.5 133.6,502.7 135,503.5 136.3,503.2 137.7,502.6 139.1,502.1 140.5,501.3 141.9,499.7 142.6,498.8 142.8,498.5 143,498.2 143.2,497.9 143.4,497.5 143.6,497.2 143.8,496.8 144,496.4 144.2,495.9 144.4,495.5 144.6,495 144.8,494.4 145.1,493.8 145.3,493.2 145.5,492.5 145.7,491.9 145.9,491.2 146.1,490.4 146.3,489.7 146.5,488.9 146.7,488 146.9,487 147.1,485.9 147.3,484.5 147.5,482.9 147.8,481.2 148,479.4 148.2,477.3 148.4,474.9 148.6,472.5 148.8,470.1 149,467.7 149.2,465.1 149.4,462.1 149.6,458.3 149.8,453.6 150,447.8 150.2,439.7 150.4,427.6 150.7,416.2 150.9,407.5 151.1,399.2 151.3,390.3 151.5,390.5 151.7,400.9 151.9,410.6 152.1,421.7 152.3,436.1 152.5,449.1 152.7,459.4 152.9,466.1 153.1,470.6 153.3,474.3 153.6,477.5 153.8,479.8 154,481.3 154.2,482.6 154.4,483.7 154.6,484.6 154.8,485.5 155,486.3 155.2,487.1 155.4,487.9 155.6,488.6 155.8,489.3 156,489.9 156.3,490.4 156.5,491 156.7,491.5 156.9,491.9 157.1,492.4 157.3,492.8 157.5,493.2 157.7,493.6 157.9,494 158.1,494.4 158.3,494.7 158.5,495.1 158.7,495.4 158.9,495.8 159.2,496.1 159.4,496.5 159.6,496.8 159.8,497.1 160,497.4 160.2,497.7 160.4,497.9 160.6,498.2 160.8,498.4 161,498.6 161.2,498.7 161.4,498.9 161.6,499 163,499.8 164.3,500.8 165.7,501.6 167.1,501.9 168.5,502.2 169.9,502.3 171.3,502.1 172.6,501.5 174,500.8 175.4,500.1 176.8,499.1 178.2,497.6 179.5,495.8 180.9,493.7 182.3,491.4 183.7,489.4 185.1,490.3 186.5,494.2 187.8,497.8 189.2,500.6 190.6,503 192,504.9 193.4,506.2 194.8,507.2 196.1,507.9 197.5,508.5 198.9,508.3 200.3,507.5 201.3,506.8 201.5,506.6 201.7,506.4 201.9,506.1 202.1,505.9 202.4,505.6 202.6,505.3 202.8,505 203,504.7 203.2,504.4 203.4,504 203.6,503.6 203.8,503.2 204,502.7 204.2,502.2 204.4,501.6 204.6,501.1 204.8,500.5 205.1,499.8 205.3,499.2 205.5,498.5 205.7,497.8 205.9,497 206.1,496.2 206.3,495.3 206.5,494.3 206.7,493.4 206.9,492.3 207.1,491.2 207.3,490.1 207.5,489 207.7,487.7 208,486.2 208.2,484.5 208.4,482.5 208.6,479.6 208.8,475.6 209,469.4 209.2,459.9 209.4,447.8 209.6,431 209.8,412.7 210,397.5 210.2,387.6 210.4,380.5 210.6,380.1 210.9,383.8 211.1,389.3 211.3,396.4 211.5,408 211.7,419.2 211.9,429.8 212.1,440.1 212.3,450.1 212.5,460.6 212.7,469.3 212.9,474.1 213.1,477.4 213.3,480 213.6,482 213.8,483.8 214,485.3 214.2,486.7 214.4,487.9 214.6,489.1 214.8,490.2 215,491.3 215.2,492.3 215.4,493.4 215.6,494.5 215.8,495.6 216,496.7 216.2,497.7 216.5,498.7 216.7,499.7 216.9,500.6 217.1,501.4 217.3,502.3 217.5,503 217.7,503.7 217.9,504.4 218.1,505 218.3,505.6 218.5,506.2 218.7,506.8 218.9,507.3 219.2,507.8 219.4,508.2 219.6,508.7 219.8,509.1 220,509.4 220.2,509.8 220.3,510 221.7,512 223.1,513.4 224.5,514.5 225.9,515.3 227.2,515.9 228.6,516.1 230,515.8 231.4,515 232.8,514.1 234.2,513.3 235.5,512.7 236.9,512.7 238.3,513.2 239.3,513.8 239.9,514.3 240.4,514.9 240.9,515.6 241.4,516.4 241.9,517.2 242.4,517.9 243,518.7 243.5,519.3 244,519.9 244.5,520.6 245,521.2 245.6,521.7 246.1,522.4 246.6,522.9 247.1,523.3 247.6,523.9 248.1,524.4 248.7,524.8 249.2,525.4 249.7,525.8 250.2,526.3 250.7,526.9 251.3,526.9 251.8,527.8 252.3,527.9 252.8,528.4 253.3,528.6 253.8,528.9 254.4,528.8 254.9,528.7 255.4,528.5 255.9,529.3 256.4,528.7 257,528.7 257.5,528.7 258,528.5 258.5,528.3 259,528.3 259.6,528.2 260.1,527.5 260.6,528 261.1,527.9 261.6,528.4 262.1,527.8 262.7,528.3 263.2,528.3 263.7,528.7 264.2,528.6 264.7,529.1 265.3,529.4 265.8,529.7 266.3,529.6 266.8,529.8 267.3,529.9 267.8,529.9 268.4,530.1 268.9,531.1 269.4,531.4 269.9,531.3 270.4,532.1 271,531.8 271.5,532.2 272,533 272.5,532.8 273,532.9 273.5,533.4 274.1,533.8 274.6,534 275.1,534 275.6,534.5 276.1,534.3 276.7,534.6 277.2,534.9 277.7,535.1 278.2,534.8 278.7,535.3 279.3,535.1 279.8,535.7 280.3,535.3 280.8,535.2 281.3,535.1 281.8,534.9 282.4,535 282.9,534.9 283.4,535.1 283.9,535.2 284.4,535.1 285,534.9 285.5,534.6 286,534.3 286.5,534.4 287,534.4 287.5,534.2 288.1,534.5 288.6,534.4 289.1,534.5 289.6,534.4 290.1,534.6 290.7,535 291.2,534.8 291.7,535 292.2,534.4 292.7,534.6 293.2,535.4 293.8,535.6 294.3,535.5 294.8,536.1 295.3,535.4 295.8,536 296.4,536.2 296.9,535.9 297.4,536 297.9,536.5 298.4,536.4 299,537.2 299.5,537.1 300,537.2 300.5,537.5 301,536.9 301.5,536.6 302.1,537.7 302.6,537.5 303.1,537.1 303.6,537.5 304.1,537.4 304.7,537.6 305.2,537.2 305.7,537.6 306.2,537 306.7,537.1 307.2,537 307.8,537.3 308.3,537.1 308.8,536.9 309.3,537.2 309.8,537.2 310.4,537.5 310.9,536.9 311.4,536.8 311.9,536.4 312.4,537 312.9,537 313.5,536.2 314,536.3 314.5,536.9 315,536.8 315.5,537.2 316.1,536.7 316.6,536.4 317.1,536.6 317.6,537.3 318.1,537 318.6,537.4 319.2,537.2 319.7,537.6 320.2,537.4 320.7,537.3 321.2,537.7 321.8,537.8 322.3,537.9 322.8,537.8 323.3,538.3 323.8,538.3 324.4,538.3 324.9,538 325.4,538.4 325.9,538.3 326.4,538.6 326.9,538.8 327.5,538.5 328,538.3 328.5,538.5 329,538.5 329.5,538.4 330.1,538.1 330.6,538.1 331.1,538.1 331.6,538.3 332.1,538.2 332.6,536.9 333.2,537.9 333.7,537.6 334.2,537.6 334.7,537.9 335.2,537.1 335.8,537.4 336.7,539.5"/></defs>
<use href="#w9" stroke-width="0.92" stroke-dasharray="0 29.00 659.82 9999"/>
<use href="#w9" fill="none" stroke-width="1.05" stroke-dasharray="0 688.52 114.03 9999"/>
<defs><path id="w10" d="M75.3,541.9L75.3,513 76.1,512.8 77.5,512.6 78.9,512.4 80.3,512 81.7,511.4 83,510.9 84.4,510.2 85.8,509.4 87.2,508.4 88.6,507.3 90,506.1 91.3,504.7 92.7,502.9 94.1,500.4 95.5,497.9 96.9,496.2 98.2,496.8 99.6,498.7 101,500.9 102.4,502.8 103.8,504 105.2,504.9 106.5,505.8 107.9,506.6 109.3,507.1 110.7,506.9 112.1,506.3 113.5,504.6 114.8,502.9 116.2,501 117.6,498.8 119,496.1 120.4,493.6 121.7,492.5 123.1,492.5 124.5,493.7 125.9,496.7 127.3,499.9 128.7,502.3 130,503.9 131.4,505.1 132.8,505.9 134.2,505.6 135.6,505 137,504.5 138.3,503.7 139.7,502.1 140.4,501.2 140.6,500.9 140.8,500.6 141,500.3 141.2,500 141.4,499.6 141.7,499.2 141.9,498.8 142.1,498.4 142.3,497.9 142.5,497.4 142.7,496.9 142.9,496.3 143.1,495.7 143.3,495 143.5,494.3 143.7,493.6 143.9,492.9 144.1,492.2 144.4,491.4 144.6,490.5 144.8,489.5 145,488.4 145.2,487 145.4,485.5 145.6,483.8 145.8,481.9 146,479.9 146.2,477.5 146.4,475.1 146.6,472.7 146.8,470.3 147,467.8 147.3,464.7 147.5,461 147.7,456.4 147.9,450.5 148.1,442.5 148.3,430.5 148.5,419.2 148.7,410.5 148.9,402.3 149.1,393.3 149.3,393.6 149.5,404 149.7,413.6 150,424.6 150.2,438.9 150.4,451.8 150.6,462.1 150.8,468.7 151,473.2 151.2,476.9 151.4,480.1 151.6,482.3 151.8,483.9 152,485.1 152.2,486.2 152.4,487.1 152.6,488 152.9,488.8 153.1,489.6 153.3,490.4 153.5,491.1 153.7,491.7 153.9,492.4 154.1,492.9 154.3,493.4 154.5,493.9 154.7,494.4 154.9,494.9 155.1,495.3 155.3,495.7 155.5,496.1 155.8,496.4 156,496.8 156.2,497.2 156.4,497.5 156.6,497.9 156.8,498.2 157,498.6 157.2,498.9 157.4,499.2 157.6,499.6 157.8,499.9 158,500.1 158.2,500.4 158.5,500.6 158.7,500.8 158.9,501 159.1,501.2 159.3,501.3 159.4,501.4 160.8,502.3 162.2,503.2 163.6,504 164.9,504.4 166.3,504.6 167.7,504.7 169.1,504.5 170.5,504 171.9,503.2 173.2,502.5 174.6,501.5 176,500 177.4,498.2 178.8,496.2 180.2,493.8 181.5,491.8 182.9,492.7 184.3,496.6 185.7,500.3 187.1,503 188.5,505.4 189.8,507.3 191.2,508.6 192.6,509.6 194,510.4 195.4,510.9 196.7,510.7 198.1,510 199.2,509.2 199.4,509 199.6,508.8 199.8,508.6 200,508.3 200.2,508 200.4,507.8 200.6,507.5 200.8,507.1 201,506.8 201.2,506.5 201.4,506.1 201.7,505.6 201.9,505.1 202.1,504.6 202.3,504.1 202.5,503.5 202.7,502.9 202.9,502.3 203.1,501.6 203.3,501 203.5,500.2 203.7,499.4 203.9,498.6 204.1,497.7 204.3,496.7 204.6,495.8 204.8,494.7 205,493.6 205.2,492.5 205.4,491.4 205.6,490.1 205.8,488.6 206,486.9 206.2,484.8 206.4,482 206.6,477.9 206.8,471.6 207,462.1 207.3,450 207.5,433.1 207.7,414.7 207.9,399.5 208.1,389.5 208.3,382.4 208.5,381.9 208.7,385.7 208.9,391.2 209.1,398.4 209.3,410 209.5,421.3 209.7,431.9 209.9,442.3 210.2,452.3 210.4,462.9 210.6,471.6 210.8,476.4 211,479.8 211.2,482.3 211.4,484.4 211.6,486.1 211.8,487.7 212,489.1 212.2,490.3 212.4,491.5 212.6,492.6 212.9,493.7 213.1,494.7 213.3,495.8 213.5,496.9 213.7,498 213.9,499.1 214.1,500.1 214.3,501.1 214.5,502.1 214.7,503 214.9,503.9 215.1,504.7 215.3,505.4 215.5,506.1 215.8,506.8 216,507.4 216.2,508.1 216.4,508.6 216.6,509.2 216.8,509.7 217,510.2 217.2,510.7 217.4,511.1 217.6,511.5 217.8,511.9 218,512.2 218.2,512.5 219.6,514.5 220.9,515.9 222.3,516.9 223.7,517.7 225.1,518.3 226.5,518.6 227.8,518.2 229.2,517.5 230.6,516.6 232,515.7 233.4,515.2 234.8,515.1 236.1,515.5 237.2,516.1 237.7,516.6 238.2,517.2 238.7,517.9 239.3,518.6 239.8,519.4 240.3,520.2 240.8,520.9 241.3,521.5 241.8,522.1 242.4,522.7 242.9,523.2 243.4,523.8 243.9,524.4 244.4,525 245,525.4 245.5,526 246,526.6 246.5,527.2 247,527.6 247.5,528.1 248.1,528.2 248.6,528.8 249.1,529 249.6,529.8 250.1,530.1 250.7,530 251.2,531 251.7,531 252.2,531.4 252.7,531.1 253.3,530.3 253.8,531.2 254.3,530.6 254.8,530.4 255.3,530.9 255.8,530.9 256.4,530.5 256.9,530.3 257.4,530.9 257.9,530.6 258.4,529.9 259,530.6 259.5,530.3 260,530.1 260.5,530.6 261,530.7 261.5,530.9 262.1,531.1 262.6,531.3 263.1,531.8 263.6,531.7 264.1,531.9 264.7,531.9 265.2,532.5 265.7,532.8 266.2,532.4 266.7,533.2 267.2,533.6 267.8,534 268.3,534.1 268.8,534.7 269.3,534.9 269.8,535.3 270.4,535.7 270.9,535.7 271.4,536.2 271.9,535.5 272.4,536.5 272.9,535.9 273.5,536.4 274,536.4 274.5,536.4 275,537.4 275.5,536.6 276.1,537.1 276.6,537.5 277.1,537.6 277.6,537.4 278.1,538 278.7,537 279.2,537.6 279.7,537.3 280.2,537.4 280.7,537.5 281.2,537.4 281.8,537.5 282.3,536.8 282.8,537.1 283.3,536.8 283.8,536.8 284.4,536.7 284.9,536.7 285.4,536.4 285.9,536.9 286.4,537 286.9,536.8 287.5,536.9 288,536.9 288.5,536.6 289,536.8 289.5,537 290.1,537.5 290.6,537.3 291.1,537.5 291.6,537.5 292.1,537.8 292.6,538.1 293.2,538.1 293.7,538.5 294.2,538.7 294.7,538.5 295.2,538.7 295.8,538.6 296.3,538.9 296.8,539.4 297.3,538.8 297.8,538.9 298.4,539.7 298.9,539.7 299.4,539.3 299.9,539.6 300.4,540.1 300.9,539.4 301.5,539.7 302,539.6 302.5,539.3 303,539.8 303.5,539.8 304.1,539.4 304.6,539.3 305.1,539.4 305.6,539.1 306.1,539.2 306.6,539 307.2,539.5 307.7,539.3 308.2,538.8 308.7,539.3 309.2,539.3 309.8,538.9 310.3,539 310.8,539.2 311.3,539.4 311.8,538.5 312.3,538.9 312.9,538.5 313.4,539.2 313.9,539 314.4,539.2 314.9,539.2 315.5,539.7 316,539.1 316.5,539.6 317,539.6 317.5,540 318.1,539.5 318.6,540.4 319.1,539.6 319.6,540.3 320.1,540.4 320.6,540.6 321.2,540.1 321.7,540.8 322.2,540.9 322.7,541 323.2,540.6 323.8,540.7 324.3,541 324.8,540.7 325.3,540.4 325.8,540.6 326.3,540.7 326.9,541 327.4,540.3 327.9,540.5 328.4,541 328.9,540.7 329.5,541.2 330,540.2 330.5,540.6 331,540.3 331.5,539.7 332,540.4 332.6,539.7 333.1,539.9 333.6,540.1 334.5,541.9"/></defs>
<use href="#w10" stroke-width="0.92" stroke-dasharray="0 28.90 659.70 9999"/>
<use href="#w10" fill="none" stroke-width="1.05" stroke-dasharray="0 688.30 118.86 9999"/>
<defs><path id="w11" d="M73.0,544.3L73,515.4 74,515.3 75.4,515.1 76.7,514.8 78.1,514.4 79.5,513.9 80.9,513.3 82.3,512.6 83.7,511.8 85,510.8 86.4,509.7 87.8,508.5 89.2,507.1 90.6,505.4 91.9,502.8 93.3,500.3 94.7,498.6 96.1,499.3 97.5,501.2 98.9,503.3 100.2,505.3 101.6,506.5 103,507.4 104.4,508.2 105.8,509.1 107.2,509.5 108.5,509.3 109.9,508.7 111.3,507.1 112.7,505.4 114.1,503.5 115.4,501.2 116.8,498.5 118.2,496.1 119.6,494.9 121,494.9 122.4,496.1 123.7,499.1 125.1,502.3 126.5,504.7 127.9,506.3 129.3,507.5 130.7,508.4 132,508.1 133.4,507.5 134.8,506.9 136.2,506.1 137.6,504.6 138.3,503.6 138.5,503.4 138.7,503 138.9,502.7 139.1,502.4 139.3,502 139.5,501.6 139.7,501.2 139.9,500.8 140.1,500.3 140.3,499.8 140.5,499.3 140.7,498.7 141,498.1 141.2,497.4 141.4,496.7 141.6,496 141.8,495.3 142,494.5 142.2,493.7 142.4,492.8 142.6,491.8 142.8,490.7 143,489.3 143.2,487.8 143.4,486 143.6,484.2 143.9,482.1 144.1,479.7 144.3,477.3 144.5,474.9 144.7,472.5 144.9,469.9 145.1,466.8 145.3,463 145.5,458.4 145.7,452.5 145.9,444.5 146.1,432.3 146.3,420.9 146.6,412.2 146.8,403.8 147,394.8 147.2,395.1 147.4,405.5 147.6,415.2 147.8,426.4 148,440.8 148.2,453.8 148.4,464.2 148.6,470.8 148.8,475.4 149,479.1 149.2,482.3 149.5,484.6 149.7,486.1 149.9,487.4 150.1,488.5 150.3,489.4 150.5,490.3 150.7,491.2 150.9,492 151.1,492.7 151.3,493.4 151.5,494.1 151.7,494.7 151.9,495.3 152.2,495.8 152.4,496.3 152.6,496.8 152.8,497.2 153,497.7 153.2,498.1 153.4,498.5 153.6,498.8 153.8,499.2 154,499.6 154.2,499.9 154.4,500.3 154.6,500.6 154.8,501 155.1,501.3 155.3,501.6 155.5,502 155.7,502.3 155.9,502.5 156.1,502.8 156.3,503 156.5,503.2 156.7,503.4 156.9,503.6 157.1,503.7 157.3,503.8 158.6,504.7 160,505.6 161.4,506.4 162.8,506.8 164.2,507 165.6,507.2 166.9,507 168.3,506.4 169.7,505.7 171.1,504.9 172.5,503.9 173.9,502.5 175.2,500.7 176.6,498.6 178,496.2 179.4,494.2 180.8,495.2 182.1,499.1 183.5,502.7 184.9,505.5 186.3,507.8 187.7,509.8 189.1,511.1 190.4,512 191.8,512.8 193.2,513.3 194.6,513.1 196,512.4 197,511.7 197.2,511.5 197.4,511.2 197.6,511 197.8,510.7 198,510.5 198.3,510.2 198.5,509.9 198.7,509.6 198.9,509.2 199.1,508.9 199.3,508.5 199.5,508 199.7,507.6 199.9,507 200.1,506.5 200.3,505.9 200.5,505.3 200.7,504.7 200.9,504.1 201.2,503.4 201.4,502.7 201.6,501.9 201.8,501 202,500.1 202.2,499.2 202.4,498.2 202.6,497.2 202.8,496.1 203,495 203.2,493.8 203.4,492.5 203.6,491.1 203.9,489.3 204.1,487.3 204.3,484.4 204.5,480.3 204.7,474.1 204.9,464.6 205.1,452.5 205.3,435.6 205.5,417.2 205.7,402 205.9,392 206.1,384.9 206.3,384.5 206.5,388.3 206.8,393.8 207,400.9 207.2,412.6 207.4,423.8 207.6,434.4 207.8,444.8 208,454.8 208.2,465.4 208.4,474 208.6,478.8 208.8,482.2 209,484.8 209.2,486.8 209.5,488.6 209.7,490.1 209.9,491.5 210.1,492.8 210.3,493.9 210.5,495 210.7,496.1 210.9,497.2 211.1,498.3 211.3,499.4 211.5,500.5 211.7,501.5 211.9,502.6 212.1,503.6 212.4,504.5 212.6,505.4 212.8,506.3 213,507.1 213.2,507.9 213.4,508.6 213.6,509.2 213.8,509.9 214,510.5 214.2,511.1 214.4,511.6 214.6,512.1 214.8,512.6 215.1,513.1 215.3,513.5 215.5,513.9 215.7,514.3 215.9,514.7 216,514.9 217.4,516.9 218.8,518.3 220.2,519.4 221.5,520.1 222.9,520.8 224.3,521 225.7,520.6 227.1,519.9 228.5,519 229.8,518.2 231.2,517.6 232.6,517.5 234,517.9 235,518.5 235.5,518.9 236.1,519.5 236.6,520.2 237.1,520.9 237.6,521.7 238.1,522.4 238.7,523.1 239.2,523.7 239.7,524.3 240.2,524.8 240.7,525.4 241.2,526.1 241.8,526.6 242.3,527 242.8,527.7 243.3,528.1 243.8,528.7 244.4,529 244.9,529.4 245.4,529.9 245.9,530.5 246.4,530.9 246.9,531.1 247.5,531.8 248,532.5 248.5,532.1 249,532.5 249.5,533.2 250.1,533 250.6,533 251.1,533.1 251.6,532.7 252.1,532.7 252.7,533.2 253.2,533 253.7,532.6 254.2,532.6 254.7,532.9 255.2,532.4 255.8,532.9 256.3,532.4 256.8,533.1 257.3,532.5 257.8,532.1 258.4,532.4 258.9,533.1 259.4,533.9 259.9,533.2 260.4,533.2 260.9,533.6 261.5,533.8 262,534.5 262.5,534.6 263,535 263.5,535.3 264.1,535.4 264.6,535.1 265.1,535.7 265.6,536.3 266.1,536.5 266.6,537 267.2,537.2 267.7,537.3 268.2,538 268.7,537.8 269.2,538.3 269.8,538 270.3,538.7 270.8,538.6 271.3,539 271.8,538.8 272.4,539.6 272.9,539.4 273.4,539.6 273.9,539.9 274.4,539.7 274.9,539.8 275.5,540 276,540.1 276.5,540.1 277,540.1 277.5,539.5 278.1,539.6 278.6,539.3 279.1,539.4 279.6,539.1 280.1,539.5 280.6,539.3 281.2,539.3 281.7,539.4 282.2,539 282.7,539 283.2,539 283.8,539 284.3,538.8 284.8,539.5 285.3,539 285.8,539.2 286.3,539.5 286.9,539.5 287.4,539.4 287.9,539.4 288.4,539.8 288.9,539.7 289.5,539.9 290,539.9 290.5,540.1 291,540.3 291.5,540.7 292.1,541.1 292.6,540.6 293.1,541.3 293.6,541 294.1,541.3 294.6,541 295.2,541.6 295.7,541.7 296.2,542.3 296.7,541.7 297.2,541.9 297.8,542.1 298.3,542.1 298.8,541.7 299.3,541.9 299.8,541.8 300.3,542 300.9,541.9 301.4,541.7 301.9,541.9 302.4,541.5 302.9,541.8 303.5,541.2 304,541.8 304.5,541.7 305,541.5 305.5,541.6 306,541.5 306.6,541.4 307.1,541 307.6,541.4 308.1,540.9 308.6,541 309.2,541.2 309.7,541.3 310.2,540.7 310.7,541.9 311.2,541.4 311.7,541.4 312.3,541.3 312.8,541.5 313.3,541.3 313.8,541.6 314.3,541.5 314.9,542.1 315.4,541.9 315.9,541.7 316.4,542.5 316.9,542.4 317.5,542.9 318,542.5 318.5,543 319,542.7 319.5,543.3 320,543 320.6,543.4 321.1,543.1 321.6,543 322.1,542.5 322.6,543.1 323.2,543.1 323.7,542.7 324.2,542.8 324.7,543.4 325.2,542.9 325.7,543 326.3,542.7 326.8,542.7 327.3,543.3 327.8,542.8 328.3,542.1 328.9,542.3 329.4,542.7 329.9,542.5 330.4,542.3 330.9,542.5 331.4,543 332.2,544.3"/></defs>
<use href="#w11" stroke-width="0.92" stroke-dasharray="0 28.90 661.45 9999"/>
<use href="#w11" fill="none" stroke-width="1.05" stroke-dasharray="0 690.05 114.93 9999"/>
<defs><path id="w12" d="M70.8,546.8L70.8,517.8 71.8,517.7 73.2,517.5 74.6,517.2 76,516.8 77.4,516.3 78.7,515.7 80.1,515 81.5,514.2 82.9,513.3 84.3,512.2 85.6,511 87,509.5 88.4,507.8 89.8,505.2 91.2,502.8 92.6,501 93.9,501.7 95.3,503.6 96.7,505.7 98.1,507.7 99.5,508.9 100.9,509.8 102.2,510.6 103.6,511.5 105,511.9 106.4,511.7 107.8,511.1 109.1,509.5 110.5,507.8 111.9,505.9 113.3,503.7 114.7,500.9 116.1,498.5 117.4,497.4 118.8,497.4 120.2,498.5 121.6,501.6 123,504.8 124.4,507.2 125.7,508.8 127.1,510 128.5,510.8 129.9,510.5 131.3,509.9 132.6,509.4 134,508.5 135.4,507 136.1,506.1 136.3,505.8 136.5,505.5 136.7,505.2 136.9,504.8 137.1,504.5 137.3,504.1 137.6,503.7 137.8,503.2 138,502.8 138.2,502.3 138.4,501.7 138.6,501.1 138.8,500.5 139,499.9 139.2,499.2 139.4,498.5 139.6,497.8 139.8,497 140,496.2 140.3,495.3 140.5,494.3 140.7,493.2 140.9,491.8 141.1,490.3 141.3,488.6 141.5,486.7 141.7,484.7 141.9,482.3 142.1,479.9 142.3,477.4 142.5,475.1 142.7,472.5 142.9,469.5 143.2,465.7 143.4,461.1 143.6,455.2 143.8,447.2 144,435.1 144.2,423.8 144.4,415.1 144.6,406.8 144.8,397.9 145,398.2 145.2,408.5 145.4,418.2 145.6,429.3 145.8,443.6 146.1,456.6 146.3,466.8 146.5,473.5 146.7,478 146.9,481.7 147.1,484.9 147.3,487.1 147.5,488.7 147.7,489.9 147.9,491 148.1,491.9 148.3,492.8 148.5,493.7 148.8,494.5 149,495.2 149.2,495.9 149.4,496.6 149.6,497.2 149.8,497.8 150,498.3 150.2,498.8 150.4,499.2 150.6,499.7 150.8,500.1 151,500.5 151.2,500.9 151.4,501.3 151.7,501.7 151.9,502 152.1,502.4 152.3,502.7 152.5,503.1 152.7,503.4 152.9,503.8 153.1,504.1 153.3,504.4 153.5,504.7 153.7,505 153.9,505.2 154.1,505.5 154.4,505.7 154.6,505.8 154.8,506 155,506.2 155.1,506.3 156.5,507.1 157.9,508.1 159.3,508.9 160.6,509.2 162,509.5 163.4,509.6 164.8,509.4 166.2,508.8 167.6,508.1 168.9,507.4 170.3,506.4 171.7,504.9 173.1,503.1 174.5,501 175.8,498.7 177.2,496.7 178.6,497.6 180,501.5 181.4,505.1 182.8,507.9 184.1,510.3 185.5,512.2 186.9,513.5 188.3,514.5 189.7,515.2 191.1,515.8 192.4,515.6 193.8,514.8 194.9,514.1 195.1,513.9 195.3,513.7 195.5,513.4 195.7,513.2 195.9,512.9 196.1,512.6 196.3,512.3 196.5,512 196.7,511.7 196.9,511.3 197.1,510.9 197.3,510.5 197.6,510 197.8,509.5 198,508.9 198.2,508.4 198.4,507.8 198.6,507.1 198.8,506.5 199,505.8 199.2,505.1 199.4,504.3 199.6,503.5 199.8,502.6 200,501.6 200.2,500.6 200.5,499.6 200.7,498.5 200.9,497.4 201.1,496.3 201.3,495 201.5,493.5 201.7,491.8 201.9,489.8 202.1,486.9 202.3,482.9 202.5,476.7 202.7,467.2 202.9,455.2 203.2,438.3 203.4,420.1 203.6,404.9 203.8,395 204,387.9 204.2,387.5 204.4,391.2 204.6,396.7 204.8,403.8 205,415.4 205.2,426.6 205.4,437.2 205.6,447.5 205.8,457.4 206.1,468 206.3,476.6 206.5,481.4 206.7,484.7 206.9,487.3 207.1,489.3 207.3,491.1 207.5,492.6 207.7,494 207.9,495.2 208.1,496.4 208.3,497.5 208.5,498.6 208.7,499.6 209,500.7 209.2,501.8 209.4,502.9 209.6,504 209.8,505 210,506 210.2,507 210.4,507.9 210.6,508.7 210.8,509.5 211,510.3 211.2,511 211.4,511.7 211.7,512.3 211.9,512.9 212.1,513.5 212.3,514.1 212.5,514.6 212.7,515.1 212.9,515.5 213.1,515.9 213.3,516.3 213.5,516.7 213.7,517.1 213.9,517.3 215.2,519.3 216.6,520.7 218,521.8 219.4,522.6 220.8,523.2 222.2,523.4 223.5,523.1 224.9,522.3 226.3,521.5 227.7,520.6 229.1,520 230.5,519.9 231.8,520.3 232.9,520.8 233.4,521.2 233.9,521.8 234.4,522.5 234.9,523.2 235.5,523.9 236,524.6 236.5,525.3 237,525.9 237.5,526.5 238.1,527.1 238.6,527.6 239.1,528.1 239.6,528.6 240.1,529.2 240.6,529.7 241.2,530.2 241.7,530.7 242.2,531.3 242.7,531.4 243.2,532.3 243.8,532.6 244.3,532.6 244.8,533.4 245.3,534 245.8,534.2 246.4,534 246.9,534.8 247.4,535.3 247.9,535.1 248.4,535.2 248.9,535.5 249.5,535.2 250,535.9 250.5,535.1 251,535.1 251.5,535.1 252.1,535.2 252.6,534.6 253.1,534.8 253.6,534.6 254.1,535.1 254.6,534.7 255.2,534.5 255.7,534.6 256.2,535.4 256.7,535.2 257.2,535.6 257.8,535.6 258.3,535.8 258.8,535.5 259.3,535.8 259.8,536.5 260.3,536.5 260.9,537.1 261.4,537.6 261.9,538 262.4,538 262.9,537.5 263.5,538.3 264,538.5 264.5,538.7 265,539.9 265.5,539.6 266,539.8 266.6,539.7 267.1,540.2 267.6,541 268.1,541.2 268.6,540.8 269.2,541 269.7,541.6 270.2,541.7 270.7,541.4 271.2,542 271.8,541.6 272.3,541.9 272.8,542.1 273.3,541.5 273.8,542.4 274.3,542.5 274.9,542.3 275.4,542.8 275.9,541.8 276.4,541.8 276.9,541.9 277.5,541.9 278,541.8 278.5,542.2 279,541.7 279.5,541.6 280,541.3 280.6,541.4 281.1,541.2 281.6,541.3 282.1,542 282.6,541.7 283.2,541.4 283.7,541.7 284.2,541.7 284.7,541.5 285.2,542.2 285.7,542 286.3,541.7 286.8,542.3 287.3,542.6 287.8,542.6 288.3,542.8 288.9,543.2 289.4,542.8 289.9,543.2 290.4,543.8 290.9,543.1 291.5,543.8 292,543.7 292.5,543.7 293,544 293.5,544.4 294,544.8 294.6,544.4 295.1,544.2 295.6,544.7 296.1,544.5 296.6,544 297.2,544.7 297.7,543.2 298.2,544.2 298.7,544.7 299.2,544.2 299.7,544.3 300.3,543.8 300.8,544.5 301.3,543.9 301.8,544.4 302.3,543.9 302.9,543.5 303.4,543.8 303.9,543.4 304.4,543.8 304.9,543.4 305.4,543.8 306,543.7 306.5,543.6 307,544 307.5,543.8 308,543.8 308.6,543.1 309.1,543.6 309.6,544.1 310.1,544.2 310.6,543.9 311.2,544.3 311.7,544 312.2,544.5 312.7,544.6 313.2,544.2 313.7,545.1 314.3,544.1 314.8,545.1 315.3,545.4 315.8,544.9 316.3,544.9 316.9,544.9 317.4,545.2 317.9,545.6 318.4,545.5 318.9,545.5 319.4,545.3 320,545.3 320.5,545.4 321,545.4 321.5,546.2 322,545.7 322.6,545.2 323.1,545.6 323.6,545.4 324.1,545.5 324.6,545.3 325.1,545.4 325.7,545.7 326.2,544.9 326.7,544.8 327.2,545.1 327.7,545.3 328.3,544.7 328.8,544.9 329.3,544.2 330.0,546.8"/></defs>
<use href="#w12" stroke-width="0.92" stroke-dasharray="0 29.00 658.67 9999"/>
<use href="#w12" fill="none" stroke-width="1.05" stroke-dasharray="0 687.37 120.37 9999"/>
<defs><path id="w13" d="M68.6,549.2L68.6,520.2 69.7,520.1 71.1,519.9 72.4,519.7 73.8,519.2 75.2,518.7 76.6,518.1 78,517.5 79.3,516.6 80.7,515.7 82.1,514.6 83.5,513.4 84.9,512 86.3,510.2 87.6,507.7 89,505.2 90.4,503.4 91.8,504.1 93.2,506 94.6,508.2 95.9,510.1 97.3,511.3 98.7,512.2 100.1,513 101.5,513.9 102.8,514.3 104.2,514.2 105.6,513.6 107,511.9 108.4,510.2 109.8,508.3 111.1,506.1 112.5,503.4 113.9,500.9 115.3,499.8 116.7,499.8 118.1,501 119.4,504 120.8,507.2 122.2,509.6 123.6,511.2 125,512.4 126.3,513.2 127.7,512.9 129.1,512.3 130.5,511.8 131.9,511 133.3,509.4 133.9,508.5 134.2,508.2 134.4,507.9 134.6,507.6 134.8,507.3 135,506.9 135.2,506.5 135.4,506.1 135.6,505.7 135.8,505.2 136,504.7 136.2,504.2 136.4,503.6 136.6,503 136.9,502.3 137.1,501.6 137.3,501 137.5,500.2 137.7,499.5 137.9,498.7 138.1,497.8 138.3,496.8 138.5,495.7 138.7,494.4 138.9,492.8 139.1,491.1 139.3,489.3 139.5,487.2 139.8,484.9 140,482.5 140.2,480.1 140.4,477.7 140.6,475.2 140.8,472.1 141,468.4 141.2,463.8 141.4,458 141.6,450 141.8,438 142,426.7 142.2,418.1 142.5,409.9 142.7,401 142.9,401.3 143.1,411.6 143.3,421.1 143.5,432.2 143.7,446.4 143.9,459.3 144.1,469.5 144.3,476.1 144.5,480.6 144.7,484.3 144.9,487.4 145.1,489.7 145.4,491.2 145.6,492.5 145.8,493.5 146,494.5 146.2,495.3 146.4,496.2 146.6,497 146.8,497.7 147,498.4 147.2,499.1 147.4,499.7 147.6,500.2 147.8,500.8 148.1,501.3 148.3,501.7 148.5,502.2 148.7,502.6 148.9,503 149.1,503.4 149.3,503.7 149.5,504.1 149.7,504.5 149.9,504.8 150.1,505.2 150.3,505.5 150.5,505.9 150.7,506.2 151,506.5 151.2,506.8 151.4,507.1 151.6,507.4 151.8,507.7 152,507.9 152.2,508.1 152.4,508.3 152.6,508.4 152.8,508.6 153,508.7 154.3,509.5 155.7,510.5 157.1,511.3 158.5,511.6 159.9,511.9 161.3,512 162.6,511.8 164,511.3 165.4,510.5 166.8,509.8 168.2,508.8 169.5,507.3 170.9,505.5 172.3,503.4 173.7,501.1 175.1,499.1 176.5,500 177.8,503.9 179.2,507.5 180.6,510.3 182,512.7 183.4,514.6 184.8,515.9 186.1,516.9 187.5,517.7 188.9,518.2 190.3,518 191.7,517.3 192.7,516.5 192.9,516.3 193.1,516.1 193.3,515.9 193.5,515.6 193.7,515.3 193.9,515 194.2,514.7 194.4,514.4 194.6,514.1 194.8,513.7 195,513.3 195.2,512.9 195.4,512.4 195.6,511.9 195.8,511.4 196,510.8 196.2,510.2 196.4,509.6 196.6,508.9 196.8,508.3 197.1,507.5 197.3,506.7 197.5,505.9 197.7,505 197.9,504.1 198.1,503.1 198.3,502.1 198.5,501 198.7,499.9 198.9,498.7 199.1,497.5 199.3,496 199.5,494.3 199.8,492.2 200,489.4 200.2,485.3 200.4,479.2 200.6,469.7 200.8,457.7 201,440.9 201.2,422.6 201.4,407.5 201.6,397.6 201.8,390.6 202,390.1 202.2,393.9 202.4,399.3 202.7,406.4 202.9,418 203.1,429.1 203.3,439.7 203.5,450 203.7,459.9 203.9,470.5 204.1,479.1 204.3,483.9 204.5,487.2 204.7,489.8 204.9,491.8 205.1,493.5 205.4,495.1 205.6,496.4 205.8,497.7 206,498.9 206.2,499.9 206.4,501 206.6,502.1 206.8,503.2 207,504.3 207.2,505.3 207.4,506.4 207.6,507.4 207.8,508.4 208,509.4 208.3,510.3 208.5,511.2 208.7,512 208.9,512.7 209.1,513.4 209.3,514.1 209.5,514.7 209.7,515.3 209.9,515.9 210.1,516.5 210.3,517 210.5,517.5 210.7,518 210.9,518.4 211.2,518.8 211.4,519.2 211.6,519.5 211.7,519.8 213.1,521.7 214.5,523.1 215.9,524.2 217.2,525 218.6,525.6 220,525.8 221.4,525.5 222.8,524.8 224.2,523.9 225.5,523 226.9,522.4 228.3,522.3 229.7,522.6 230.7,523.2 231.2,523.6 231.8,524.1 232.3,524.8 232.8,525.5 233.3,526.2 233.8,526.9 234.3,527.5 234.9,528.1 235.4,528.6 235.9,529.2 236.4,529.7 236.9,530.3 237.5,530.8 238,531.4 238.5,531.8 239,532.4 239.5,532.9 240,533.4 240.6,533.6 241.1,534.3 241.6,534.7 242.1,534.6 242.6,535.7 243.2,535.9 243.7,536.6 244.2,536.8 244.7,536.8 245.2,537.2 245.8,536.9 246.3,537.7 246.8,537.7 247.3,537.9 247.8,537.5 248.3,537.7 248.9,537.5 249.4,537.6 249.9,537.2 250.4,537.5 250.9,537.2 251.5,537.3 252,537.5 252.5,537.3 253,537.3 253.5,537.2 254,538 254.6,537.2 255.1,537.7 255.6,537.8 256.1,538 256.6,538.7 257.2,538.3 257.7,538.7 258.2,539.2 258.7,539.1 259.2,539.6 259.7,540.1 260.3,539.9 260.8,540.2 261.3,540.6 261.8,541 262.3,540.8 262.9,541.8 263.4,541.8 263.9,542.2 264.4,542.4 264.9,542.5 265.5,543.1 266,542.8 266.5,543.1 267,543.4 267.5,543.7 268,544 268.6,543.7 269.1,543.4 269.6,544.2 270.1,544.4 270.6,544.5 271.2,544.3 271.7,544.3 272.2,544.4 272.7,544.5 273.2,544.8 273.7,544.1 274.3,544.4 274.8,544.1 275.3,544.1 275.8,544.1 276.3,543.8 276.9,543.9 277.4,543.3 277.9,543.4 278.4,543.6 278.9,543.9 279.4,543.6 280,543.7 280.5,543.6 281,543.8 281.5,544.2 282,544.3 282.6,544.1 283.1,544 283.6,544.4 284.1,544.6 284.6,544.7 285.1,544.6 285.7,545 286.2,545.2 286.7,545.2 287.2,545.2 287.7,545.9 288.3,545.8 288.8,545.8 289.3,546 289.8,545.9 290.3,545.9 290.9,546.5 291.4,545.7 291.9,546.3 292.4,546.1 292.9,546.4 293.4,547.2 294,547 294.5,546.6 295,546.5 295.5,546.5 296,547.2 296.6,546.8 297.1,546.5 297.6,546.2 298.1,546.4 298.6,546.9 299.1,546.6 299.7,546.5 300.2,546.4 300.7,546 301.2,545.9 301.7,545.8 302.3,546.4 302.8,546.4 303.3,546.4 303.8,546 304.3,545.9 304.8,546.3 305.4,545.8 305.9,545.9 306.4,546 306.9,545.9 307.4,546.3 308,546.4 308.5,545.8 309,546.4 309.5,546.2 310,546.7 310.6,547.3 311.1,546.6 311.6,547.3 312.1,547.3 312.6,546.9 313.1,547.7 313.7,547.5 314.2,547.2 314.7,547.1 315.2,548 315.7,547.7 316.3,548 316.8,547.6 317.3,548.1 317.8,547.6 318.3,548.3 318.8,547.8 319.4,547.5 319.9,547.7 320.4,547.9 320.9,548 321.4,548.2 322,547.4 322.5,547.4 323,547.4 323.5,547.8 324,547.6 324.5,547.3 325.1,546.7 325.6,546.5 326.1,546.7 326.6,547.3 327.1,547.4 327.8,549.2"/></defs>
<use href="#w13" stroke-width="0.92" stroke-dasharray="0 29.00 657.11 9999"/>
<use href="#w13" fill="none" stroke-width="1.05" stroke-dasharray="0 685.81 114.17 9999"/>
<defs><path id="w14" d="M66.4,551.6L66.4,522.7 67.5,522.6 68.9,522.4 70.3,522.1 71.7,521.7 73,521.2 74.4,520.6 75.8,519.9 77.2,519.1 78.6,518.1 80,517 81.3,515.8 82.7,514.4 84.1,512.7 85.5,510.1 86.9,507.6 88.2,505.9 89.6,506.6 91,508.5 92.4,510.6 93.8,512.5 95.2,513.8 96.5,514.7 97.9,515.5 99.3,516.4 100.7,516.8 102.1,516.6 103.5,516 104.8,514.4 106.2,512.6 107.6,510.7 109,508.5 110.4,505.8 111.8,503.3 113.1,502.2 114.5,502.2 115.9,503.4 117.3,506.4 118.7,509.6 120,512 121.4,513.6 122.8,514.8 124.2,515.7 125.6,515.4 127,514.7 128.3,514.2 129.7,513.4 131.1,511.9 131.8,510.9 132,510.6 132.2,510.3 132.4,510 132.6,509.7 132.8,509.3 133,508.9 133.2,508.5 133.5,508.1 133.7,507.7 133.9,507.2 134.1,506.6 134.3,506 134.5,505.4 134.7,504.8 134.9,504.1 135.1,503.4 135.3,502.7 135.5,501.9 135.7,501.1 135.9,500.2 136.1,499.2 136.4,498.1 136.6,496.8 136.8,495.2 137,493.5 137.2,491.7 137.4,489.7 137.6,487.3 137.8,484.9 138,482.5 138.2,480.2 138.4,477.6 138.6,474.6 138.8,470.8 139.1,466.3 139.3,460.4 139.5,452.5 139.7,440.5 139.9,429.2 140.1,420.6 140.3,412.4 140.5,403.5 140.7,403.8 140.9,414.1 141.1,423.6 141.3,434.7 141.5,448.9 141.7,461.8 142,471.9 142.2,478.5 142.4,483 142.6,486.7 142.8,489.9 143,492.1 143.2,493.6 143.4,494.9 143.6,496 143.8,496.9 144,497.8 144.2,498.6 144.4,499.4 144.7,500.1 144.9,500.8 145.1,501.5 145.3,502.1 145.5,502.7 145.7,503.2 145.9,503.7 146.1,504.2 146.3,504.6 146.5,505 146.7,505.4 146.9,505.8 147.1,506.2 147.3,506.5 147.6,506.9 147.8,507.3 148,507.6 148.2,508 148.4,508.3 148.6,508.6 148.8,509 149,509.3 149.2,509.6 149.4,509.9 149.6,510.1 149.8,510.3 150,510.5 150.3,510.7 150.5,510.9 150.7,511 150.8,511.1 152.2,512 153.6,512.9 155,513.7 156.3,514.1 157.7,514.3 159.1,514.5 160.5,514.3 161.9,513.7 163.2,513 164.6,512.2 166,511.2 167.4,509.8 168.8,508 170.2,505.9 171.5,503.5 172.9,501.5 174.3,502.4 175.7,506.3 177.1,510 178.5,512.8 179.8,515.1 181.2,517.1 182.6,518.4 184,519.3 185.4,520.1 186.7,520.6 188.1,520.4 189.5,519.7 190.5,519 190.8,518.7 191,518.5 191.2,518.3 191.4,518 191.6,517.8 191.8,517.5 192,517.2 192.2,516.9 192.4,516.5 192.6,516.2 192.8,515.8 193,515.3 193.2,514.8 193.5,514.3 193.7,513.8 193.9,513.2 194.1,512.6 194.3,512 194.5,511.4 194.7,510.7 194.9,509.9 195.1,509.2 195.3,508.3 195.5,507.4 195.7,506.5 195.9,505.5 196.1,504.4 196.4,503.3 196.6,502.2 196.8,501.1 197,499.8 197.2,498.3 197.4,496.6 197.6,494.5 197.8,491.7 198,487.6 198.2,481.3 198.4,471.8 198.6,459.7 198.8,442.7 199,424.3 199.3,409 199.5,399.1 199.7,392 199.9,391.5 200.1,395.3 200.3,400.8 200.5,408 200.7,419.7 200.9,430.9 201.1,441.6 201.3,451.9 201.5,461.9 201.7,472.6 202,481.3 202.2,486.1 202.4,489.4 202.6,492 202.8,494.1 203,495.8 203.2,497.4 203.4,498.8 203.6,500 203.8,501.2 204,502.3 204.2,503.4 204.4,504.5 204.6,505.6 204.9,506.7 205.1,507.7 205.3,508.8 205.5,509.8 205.7,510.8 205.9,511.8 206.1,512.7 206.3,513.6 206.5,514.4 206.7,515.1 206.9,515.8 207.1,516.5 207.3,517.2 207.6,517.8 207.8,518.4 208,518.9 208.2,519.4 208.4,519.9 208.6,520.4 208.8,520.8 209,521.2 209.2,521.6 209.4,522 209.6,522.2 210.9,524.2 212.3,525.6 213.7,526.6 215.1,527.4 216.5,528.1 217.8,528.3 219.2,527.9 220.6,527.2 222,526.3 223.4,525.5 224.8,524.8 226.1,524.7 227.5,525 228.6,525.5 229.1,525.9 229.6,526.4 230.1,527.1 230.6,527.7 231.2,528.4 231.7,529.1 232.2,529.7 232.7,530.3 233.2,530.8 233.7,531.4 234.3,531.8 234.8,532.4 235.3,532.9 235.8,533.4 236.3,533.9 236.9,534.2 237.4,534.9 237.9,535.3 238.4,535.9 238.9,536.2 239.4,536.6 240,537.1 240.5,537.6 241,537.7 241.5,538.2 242,538.6 242.6,539.1 243.1,539.1 243.6,539.4 244.1,539.3 244.6,539.5 245.2,539.8 245.7,539.5 246.2,539.1 246.7,539.4 247.2,539.9 247.7,539.7 248.3,539.2 248.8,539.1 249.3,539.9 249.8,539.2 250.3,539 250.9,539.1 251.4,540 251.9,539.7 252.4,539.5 252.9,539.8 253.4,540.3 254,540.6 254.5,540.6 255,540.7 255.5,541.3 256,541.3 256.6,541.2 257.1,541.4 257.6,542 258.1,542 258.6,542.7 259.1,543.1 259.7,543.4 260.2,543.8 260.7,544 261.2,544.2 261.7,543.8 262.3,544.3 262.8,544.2 263.3,545.3 263.8,545 264.3,545.5 264.9,545.9 265.4,545.5 265.9,546 266.4,545.7 266.9,545.4 267.4,546.2 268,546.4 268.5,546.7 269,547.1 269.5,546.8 270,547 270.6,546.7 271.1,546.8 271.6,546.6 272.1,546.5 272.6,546.2 273.1,546.8 273.7,546.6 274.2,545.9 274.7,546 275.2,546.4 275.7,545.5 276.3,546.9 276.8,546.2 277.3,546.2 277.8,546 278.3,546.5 278.8,546.2 279.4,546.2 279.9,546 280.4,547 280.9,546.8 281.4,546.9 282,546.6 282.5,546.4 283,546.6 283.5,547.5 284,547.4 284.6,547.6 285.1,547.7 285.6,548.1 286.1,548 286.6,548.2 287.1,548.1 287.7,548.5 288.2,547.8 288.7,549.1 289.2,548.9 289.7,549 290.3,548.8 290.8,548.7 291.3,549 291.8,548.2 292.3,548.9 292.8,548.6 293.4,549 293.9,549.2 294.4,548.3 294.9,549.2 295.4,549.3 296,549 296.5,548.7 297,548.3 297.5,548.8 298,548.7 298.5,548.5 299.1,548.3 299.6,548.7 300.1,548.3 300.6,548.5 301.1,548.2 301.7,548.1 302.2,548 302.7,547.7 303.2,548.4 303.7,548.5 304.2,548.2 304.8,548.3 305.3,548.4 305.8,548.2 306.3,548.5 306.8,548.4 307.4,548.7 307.9,548.9 308.4,549.2 308.9,548.9 309.4,549.2 310,549 310.5,549.3 311,549.8 311.5,549.7 312,549.9 312.5,550 313.1,550.4 313.6,550.1 314.1,550.2 314.6,550.6 315.1,550.2 315.7,550.2 316.2,550.7 316.7,550.7 317.2,550.3 317.7,550.1 318.2,550.2 318.8,550.7 319.3,550.5 319.8,549.9 320.3,550.3 320.8,549.6 321.4,549.5 321.9,549.9 322.4,549.5 322.9,549.3 323.4,549.3 323.9,549.4 324.5,549.3 325,549.2 325.6,551.6"/></defs>
<use href="#w14" stroke-width="0.92" stroke-dasharray="0 28.90 658.97 9999"/>
<use href="#w14" fill="none" stroke-width="1.05" stroke-dasharray="0 687.57 116.01 9999"/>
<defs><path id="w15" d="M64.2,554.1L64.2,525.1 65.4,525 66.7,524.8 68.1,524.5 69.5,524.1 70.9,523.6 72.3,523 73.7,522.3 75,521.5 76.4,520.5 77.8,519.5 79.2,518.3 80.6,516.8 81.9,515.1 83.3,512.5 84.7,510.1 86.1,508.3 87.5,509 88.9,510.9 90.2,513 91.6,515 93,516.2 94.4,517.1 95.8,517.9 97.2,518.8 98.5,519.2 99.9,519 101.3,518.4 102.7,516.8 104.1,515.1 105.4,513.2 106.8,510.9 108.2,508.2 109.6,505.8 111,504.6 112.4,504.7 113.7,505.8 115.1,508.9 116.5,512 117.9,514.5 119.3,516.1 120.7,517.2 122,518.1 123.4,517.8 124.8,517.2 126.2,516.7 127.6,515.8 128.9,514.3 129.6,513.4 129.8,513.1 130.1,512.8 130.3,512.4 130.5,512.1 130.7,511.7 130.9,511.4 131.1,511 131.3,510.5 131.5,510.1 131.7,509.6 131.9,509 132.1,508.4 132.3,507.8 132.5,507.2 132.8,506.5 133,505.8 133.2,505.1 133.4,504.3 133.6,503.5 133.8,502.6 134,501.6 134.2,500.5 134.4,499.1 134.6,497.6 134.8,495.9 135,494 135.2,492 135.4,489.6 135.7,487.2 135.9,484.8 136.1,482.4 136.3,479.8 136.5,476.8 136.7,473 136.9,468.4 137.1,462.5 137.3,454.6 137.5,442.5 137.7,431.1 137.9,422.5 138.1,414.2 138.4,405.3 138.6,405.5 138.8,415.9 139,425.5 139.2,436.6 139.4,451 139.6,463.9 139.8,474.1 140,480.8 140.2,485.3 140.4,489 140.6,492.2 140.8,494.4 141,496 141.3,497.2 141.5,498.3 141.7,499.2 141.9,500.1 142.1,501 142.3,501.8 142.5,502.5 142.7,503.2 142.9,503.9 143.1,504.5 143.3,505.1 143.5,505.6 143.7,506.1 143.9,506.5 144.2,507 144.4,507.4 144.6,507.8 144.8,508.2 145,508.6 145.2,508.9 145.4,509.3 145.6,509.7 145.8,510 146,510.4 146.2,510.7 146.4,511.1 146.6,511.4 146.9,511.7 147.1,512 147.3,512.3 147.5,512.5 147.7,512.8 147.9,513 148.1,513.1 148.3,513.3 148.5,513.5 148.6,513.5 150,514.4 151.4,515.4 152.8,516.2 154.2,516.5 155.6,516.8 156.9,516.9 158.3,516.7 159.7,516.1 161.1,515.4 162.5,514.6 163.9,513.7 165.2,512.2 166.6,510.4 168,508.3 169.4,506 170.8,504 172.1,504.9 173.5,508.8 174.9,512.4 176.3,515.2 177.7,517.6 179.1,519.5 180.4,520.8 181.8,521.8 183.2,522.5 184.6,523 186,522.8 187.4,522.1 188.4,521.4 188.6,521.2 188.8,521 189,520.7 189.2,520.5 189.4,520.2 189.6,519.9 189.8,519.6 190.1,519.3 190.3,519 190.5,518.6 190.7,518.2 190.9,517.8 191.1,517.3 191.3,516.8 191.5,516.2 191.7,515.6 191.9,515 192.1,514.4 192.3,513.8 192.5,513.1 192.7,512.4 193,511.6 193.2,510.7 193.4,509.8 193.6,508.9 193.8,507.9 194,506.8 194.2,505.8 194.4,504.7 194.6,503.5 194.8,502.2 195,500.7 195.2,499 195.4,496.9 195.7,494.1 195.9,490 196.1,483.7 196.3,474.2 196.5,462 196.7,445.1 196.9,426.6 197.1,411.3 197.3,401.3 197.5,394.2 197.7,393.8 197.9,397.6 198.1,403.1 198.3,410.3 198.6,421.9 198.8,433.2 199,443.9 199.2,454.3 199.4,464.3 199.6,474.9 199.8,483.6 200,488.5 200.2,491.8 200.4,494.4 200.6,496.5 200.8,498.2 201,499.8 201.2,501.2 201.5,502.4 201.7,503.6 201.9,504.7 202.1,505.8 202.3,506.9 202.5,508 202.7,509.1 202.9,510.2 203.1,511.2 203.3,512.3 203.5,513.3 203.7,514.2 203.9,515.2 204.2,516 204.4,516.8 204.6,517.6 204.8,518.3 205,518.9 205.2,519.6 205.4,520.2 205.6,520.8 205.8,521.3 206,521.9 206.2,522.4 206.4,522.8 206.6,523.2 206.8,523.6 207.1,524 207.3,524.4 207.4,524.6 208.8,526.6 210.2,528 211.5,529.1 212.9,529.8 214.3,530.5 215.7,530.7 217.1,530.4 218.5,529.7 219.8,528.8 221.2,527.9 222.6,527.3 224,527.1 225.4,527.3 226.4,527.8 226.9,528.2 227.4,528.7 228,529.4 228.5,530 229,530.7 229.5,531.4 230,532 230.6,532.5 231.1,533.1 231.6,533.5 232.1,534 232.6,534.5 233.1,535 233.7,535.6 234.2,536 234.7,536.6 235.2,537 235.7,537.4 236.3,537.7 236.8,538.5 237.3,538.3 237.8,539.3 238.3,539.9 238.9,540.1 239.4,540.6 239.9,540.7 240.4,541 240.9,541.6 241.4,541.5 242,541.8 242.5,541.7 243,542 243.5,541.9 244,541.8 244.6,541.4 245.1,541.9 245.6,541.6 246.1,541.4 246.6,542 247.1,541.5 247.7,541.9 248.2,541.8 248.7,541.8 249.2,542.1 249.7,541.7 250.3,541.9 250.8,542.3 251.3,542.6 251.8,542.7 252.3,542.8 252.8,543 253.4,543.8 253.9,543.5 254.4,543.8 254.9,544.3 255.4,544.6 256,545.2 256.5,544.9 257,545.5 257.5,545.7 258,545.2 258.5,546.6 259.1,547 259.6,546.5 260.1,547.4 260.6,547.3 261.1,547.4 261.7,547.8 262.2,547.4 262.7,547.8 263.2,548 263.7,548.3 264.3,548.6 264.8,548.5 265.3,548.1 265.8,548.8 266.3,548.7 266.8,548.8 267.4,549.3 267.9,548.9 268.4,549.2 268.9,549.5 269.4,549.5 270,548.8 270.5,548.4 271,548.6 271.5,548.5 272,549 272.5,549.5 273.1,548.1 273.6,548.3 274.1,549 274.6,548.4 275.1,548.5 275.7,548.6 276.2,548.9 276.7,548.5 277.2,548.5 277.7,549.1 278.2,548.7 278.8,549.4 279.3,548.9 279.8,549.3 280.3,549.1 280.8,549.4 281.4,550.1 281.9,550.1 282.4,549.9 282.9,550 283.4,549.9 284,550.7 284.5,550.6 285,550 285.5,550.8 286,551.2 286.5,551.5 287.1,551 287.6,550.9 288.1,551.5 288.6,551.1 289.1,551 289.7,551 290.2,551.2 290.7,551.5 291.2,551.6 291.7,551.1 292.2,551.7 292.8,550.8 293.3,551.1 293.8,551.3 294.3,551.7 294.8,551.3 295.4,551.5 295.9,551.3 296.4,550.8 296.9,550.2 297.4,551.1 297.9,551 298.5,550.1 299,550.6 299.5,550.5 300,550.8 300.5,550.2 301.1,550.6 301.6,550.4 302.1,550.4 302.6,550.3 303.1,550.7 303.7,551 304.2,550.8 304.7,551.1 305.2,551.6 305.7,551.4 306.2,551.8 306.8,551.6 307.3,551.8 307.8,551.9 308.3,552.4 308.8,551.9 309.4,552.1 309.9,552 310.4,552.7 310.9,552.6 311.4,552.7 311.9,552.5 312.5,552.9 313,552.6 313.5,553.1 314,552.6 314.5,552.7 315.1,552.8 315.6,552.8 316.1,552.7 316.6,552.4 317.1,552.3 317.6,552.2 318.2,552.4 318.7,552.5 319.2,552.4 319.7,552.2 320.2,552 320.8,552.1 321.3,552.1 321.8,552 322.3,551.4 322.8,551.7 323.4,554.1"/></defs>
<use href="#w15" stroke-width="0.92" stroke-dasharray="0 29.00 660.33 9999"/>
<use href="#w15" fill="none" stroke-width="1.05" stroke-dasharray="0 689.03 116.41 9999"/>
<defs><path id="w16" d="M61.9,556.5L61.9,527.5 63.2,527.4 64.6,527.2 66,526.9 67.4,526.5 68.7,526 70.1,525.4 71.5,524.8 72.9,523.9 74.3,523 75.6,521.9 77,520.7 78.4,519.2 79.8,517.5 81.2,515 82.6,512.5 83.9,510.7 85.3,511.4 86.7,513.3 88.1,515.4 89.5,517.4 90.9,518.6 92.2,519.5 93.6,520.3 95,521.2 96.4,521.6 97.8,521.5 99.1,520.9 100.5,519.2 101.9,517.5 103.3,515.6 104.7,513.4 106.1,510.7 107.4,508.2 108.8,507.1 110.2,507.1 111.6,508.2 113,511.3 114.4,514.5 115.7,516.9 117.1,518.5 118.5,519.7 119.9,520.5 121.3,520.2 122.6,519.6 124,519.1 125.4,518.3 126.8,516.7 127.5,515.8 127.7,515.5 127.9,515.2 128.1,514.9 128.3,514.5 128.5,514.2 128.7,513.8 128.9,513.4 129.1,513 129.4,512.6 129.6,512.1 129.8,511.5 130,510.9 130.2,510.3 130.4,509.7 130.6,509 130.8,508.3 131,507.6 131.2,506.8 131.4,506 131.6,505.1 131.8,504.2 132,503.1 132.3,501.7 132.5,500.2 132.7,498.5 132.9,496.7 133.1,494.6 133.3,492.3 133.5,489.9 133.7,487.5 133.9,485.2 134.1,482.6 134.3,479.6 134.5,475.9 134.7,471.3 135,465.5 135.2,457.6 135.4,445.7 135.6,434.5 135.8,425.9 136,417.7 136.2,408.9 136.4,409.2 136.6,419.4 136.8,428.9 137,439.9 137.2,454.1 137.4,466.9 137.6,477 137.9,483.6 138.1,488 138.3,491.7 138.5,494.8 138.7,497.1 138.9,498.6 139.1,499.8 139.3,500.9 139.5,501.8 139.7,502.7 139.9,503.5 140.1,504.3 140.3,505.1 140.6,505.8 140.8,506.4 141,507 141.2,507.6 141.4,508.1 141.6,508.6 141.8,509 142,509.5 142.2,509.9 142.4,510.3 142.6,510.7 142.8,511.1 143,511.4 143.2,511.8 143.5,512.1 143.7,512.5 143.9,512.8 144.1,513.2 144.3,513.5 144.5,513.8 144.7,514.1 144.9,514.4 145.1,514.7 145.3,515 145.5,515.2 145.7,515.4 145.9,515.6 146.1,515.7 146.4,515.9 146.5,516 147.9,516.8 149.3,517.8 150.6,518.6 152,518.9 153.4,519.2 154.8,519.3 156.2,519.1 157.6,518.5 158.9,517.8 160.3,517.1 161.7,516.1 163.1,514.6 164.5,512.8 165.8,510.7 167.2,508.4 168.6,506.4 170,507.3 171.4,511.2 172.8,514.8 174.1,517.6 175.5,520 176.9,521.9 178.3,523.2 179.7,524.2 181.1,525 182.4,525.5 183.8,525.3 185.2,524.6 186.2,523.8 186.4,523.6 186.7,523.4 186.9,523.1 187.1,522.9 187.3,522.6 187.5,522.3 187.7,522 187.9,521.7 188.1,521.4 188.3,521 188.5,520.6 188.7,520.2 188.9,519.7 189.1,519.2 189.3,518.6 189.6,518.1 189.8,517.5 190,516.9 190.2,516.2 190.4,515.5 190.6,514.8 190.8,514 191,513.2 191.2,512.3 191.4,511.3 191.6,510.3 191.8,509.3 192,508.2 192.3,507.1 192.5,506 192.7,504.7 192.9,503.2 193.1,501.5 193.3,499.4 193.5,496.6 193.7,492.5 193.9,486.3 194.1,476.7 194.3,464.6 194.5,447.8 194.7,429.4 194.9,414.1 195.2,404.2 195.4,397.1 195.6,396.7 195.8,400.4 196,405.9 196.2,413.1 196.4,424.7 196.6,435.9 196.8,446.6 197,456.9 197.2,466.9 197.4,477.5 197.6,486.2 197.9,491 198.1,494.4 198.3,496.9 198.5,499 198.7,500.7 198.9,502.3 199.1,503.7 199.3,504.9 199.5,506.1 199.7,507.2 199.9,508.3 200.1,509.3 200.3,510.4 200.5,511.5 200.8,512.6 201,513.7 201.2,514.7 201.4,515.7 201.6,516.7 201.8,517.6 202,518.5 202.2,519.3 202.4,520 202.6,520.7 202.8,521.4 203,522 203.2,522.6 203.4,523.2 203.7,523.8 203.9,524.3 204.1,524.8 204.3,525.2 204.5,525.7 204.7,526.1 204.9,526.5 205.1,526.8 205.2,527.1 206.6,529 208,530.4 209.4,531.5 210.8,532.3 212.2,532.9 213.5,533.1 214.9,532.8 216.3,532.1 217.7,531.2 219.1,530.3 220.5,529.7 221.8,529.5 223.2,529.7 224.3,530.2 224.8,530.5 225.3,531.1 225.8,531.6 226.3,532.3 226.8,533 227.4,533.6 227.9,534.2 228.4,534.7 228.9,535.2 229.4,535.7 230,536 230.5,536.7 231,537.1 231.5,537.5 232,538.2 232.5,538.5 233.1,538.9 233.6,539.8 234.1,539.6 234.6,540.2 235.1,540.7 235.7,541.4 236.2,541.7 236.7,542.3 237.2,542.7 237.7,542.7 238.3,543.7 238.8,544 239.3,543.8 239.8,543.6 240.3,544.2 240.8,543.7 241.4,544.2 241.9,544 242.4,544 242.9,543.9 243.4,543.8 244,544.1 244.5,544.3 245,544.4 245.5,543.7 246,544 246.5,543.9 247.1,544.4 247.6,544.2 248.1,544.2 248.6,544.3 249.1,544.8 249.7,544.6 250.2,545.6 250.7,545.5 251.2,545.9 251.7,546.3 252.2,546.1 252.8,546.1 253.3,546.9 253.8,547.1 254.3,547.4 254.8,547.7 255.4,547.6 255.9,547.8 256.4,548.8 256.9,548.5 257.4,548.8 258,549.3 258.5,549.8 259,549.6 259.5,550.1 260,549.8 260.5,549.9 261.1,549.8 261.6,550.5 262.1,550.4 262.6,550.7 263.1,550.7 263.7,551.1 264.2,551.2 264.7,551.5 265.2,551.3 265.7,551.3 266.2,550.8 266.8,551.2 267.3,551.3 267.8,550.9 268.3,550.9 268.8,551.2 269.4,551 269.9,551 270.4,551 270.9,550.8 271.4,550.9 271.9,551 272.5,550.7 273,550.9 273.5,551.3 274,551 274.5,550.6 275.1,550.9 275.6,550.9 276.1,551.1 276.6,551.5 277.1,551.8 277.7,551.9 278.2,551.7 278.7,551.9 279.2,551.9 279.7,552.3 280.2,551.6 280.8,552.7 281.3,552.2 281.8,552.8 282.3,552.5 282.8,552.4 283.4,552.6 283.9,552.8 284.4,553.1 284.9,553.8 285.4,554 285.9,553.5 286.5,553.3 287,554 287.5,553.3 288,553.7 288.5,554 289.1,553.6 289.6,553 290.1,553.8 290.6,553.5 291.1,553.4 291.6,553.6 292.2,553.1 292.7,553 293.2,553.1 293.7,552.8 294.2,553.2 294.8,552.9 295.3,553.4 295.8,552.7 296.3,553 296.8,553.5 297.3,553 297.9,553.3 298.4,553.2 298.9,552.7 299.4,552.7 299.9,553.3 300.5,553.7 301,552.9 301.5,553.5 302,553.1 302.5,553.2 303.1,553.4 303.6,553 304.1,553.5 304.6,553.9 305.1,554.1 305.6,554.1 306.2,554.2 306.7,554.8 307.2,554.6 307.7,554.6 308.2,555.2 308.8,555.2 309.3,554.8 309.8,555.4 310.3,554.7 310.8,555 311.3,555.1 311.9,555.3 312.4,555.4 312.9,555.1 313.4,555 313.9,554.8 314.5,555.8 315,554.8 315.5,554.6 316,555 316.5,554.6 317,554.8 317.6,554.6 318.1,554.8 318.6,554.1 319.1,554.1 319.6,554.2 320.2,554.1 320.7,553.8 321.1,556.5"/></defs>
<use href="#w16" stroke-width="0.92" stroke-dasharray="0 29.00 656.43 9999"/>
<use href="#w16" fill="none" stroke-width="1.05" stroke-dasharray="0 685.13 116.40 9999"/>
<defs><path id="w17" d="M59.7,558.9L59.7,530 61.1,529.8 62.4,529.6 63.8,529.4 65.2,529 66.6,528.4 68,527.9 69.3,527.2 70.7,526.4 72.1,525.4 73.5,524.3 74.9,523.1 76.3,521.7 77.6,519.9 79,517.4 80.4,514.9 81.8,513.2 83.2,513.9 84.6,515.8 85.9,517.9 87.3,519.8 88.7,521 90.1,521.9 91.5,522.8 92.8,523.6 94.2,524.1 95.6,523.9 97,523.3 98.4,521.7 99.8,519.9 101.1,518 102.5,515.8 103.9,513.1 105.3,510.6 106.7,509.5 108.1,509.5 109.4,510.7 110.8,513.7 112.2,516.9 113.6,519.3 115,520.9 116.3,522.1 117.7,523 119.1,522.6 120.5,522 121.9,521.5 123.3,520.7 124.6,519.1 125.3,518.2 125.5,517.9 125.7,517.6 126,517.3 126.2,517 126.4,516.6 126.6,516.2 126.8,515.8 127,515.4 127.2,515 127.4,514.5 127.6,513.9 127.8,513.3 128,512.7 128.2,512 128.4,511.4 128.7,510.7 128.9,510 129.1,509.2 129.3,508.4 129.5,507.5 129.7,506.5 129.9,505.4 130.1,504.1 130.3,502.5 130.5,500.8 130.7,499 130.9,496.9 131.1,494.6 131.3,492.2 131.6,489.8 131.8,487.4 132,484.9 132.2,481.8 132.4,478.1 132.6,473.5 132.8,467.7 133,459.7 133.2,447.7 133.4,436.4 133.6,427.8 133.8,419.6 134,410.7 134.2,411 134.5,421.3 134.7,430.8 134.9,441.9 135.1,456.1 135.3,469 135.5,479.2 135.7,485.8 135.9,490.3 136.1,494 136.3,497.1 136.5,499.4 136.7,500.9 136.9,502.2 137.2,503.2 137.4,504.2 137.6,505 137.8,505.9 138,506.7 138.2,507.4 138.4,508.1 138.6,508.8 138.8,509.4 139,510 139.2,510.5 139.4,511 139.6,511.4 139.8,511.9 140.1,512.3 140.3,512.7 140.5,513.1 140.7,513.5 140.9,513.8 141.1,514.2 141.3,514.5 141.5,514.9 141.7,515.2 141.9,515.6 142.1,515.9 142.3,516.3 142.5,516.6 142.8,516.9 143,517.1 143.2,517.4 143.4,517.6 143.6,517.8 143.8,518 144,518.2 144.2,518.3 144.3,518.4 145.7,519.3 147.1,520.2 148.5,521 149.9,521.4 151.3,521.6 152.6,521.7 154,521.6 155.4,521 156.8,520.3 158.2,519.5 159.5,518.5 160.9,517 162.3,515.2 163.7,513.2 165.1,510.8 166.5,508.8 167.8,509.7 169.2,513.6 170.6,517.3 172,520.1 173.4,522.4 174.8,524.4 176.1,525.7 177.5,526.6 178.9,527.4 180.3,527.9 181.7,527.7 183,527 184.1,526.2 184.3,526 184.5,525.8 184.7,525.6 184.9,525.3 185.1,525 185.3,524.8 185.5,524.5 185.7,524.1 186,523.8 186.2,523.5 186.4,523.1 186.6,522.6 186.8,522.1 187,521.6 187.2,521.1 187.4,520.5 187.6,519.9 187.8,519.3 188,518.6 188.2,518 188.4,517.2 188.6,516.4 188.9,515.6 189.1,514.7 189.3,513.7 189.5,512.7 189.7,511.7 189.9,510.6 190.1,509.5 190.3,508.3 190.5,507 190.7,505.5 190.9,503.8 191.1,501.7 191.3,498.8 191.5,494.7 191.8,488.5 192,478.9 192.2,466.7 192.4,449.6 192.6,431.1 192.8,415.8 193,405.7 193.2,398.6 193.4,398.1 193.6,401.9 193.8,407.5 194,414.7 194.2,426.4 194.5,437.7 194.7,448.5 194.9,458.9 195.1,469 195.3,479.6 195.5,488.4 195.7,493.2 195.9,496.6 196.1,499.2 196.3,501.3 196.5,503 196.7,504.6 196.9,506 197.1,507.3 197.4,508.4 197.6,509.5 197.8,510.6 198,511.7 198.2,512.8 198.4,513.9 198.6,515 198.8,516.1 199,517.1 199.2,518.1 199.4,519.1 199.6,520 199.8,520.9 200.1,521.7 200.3,522.4 200.5,523.1 200.7,523.8 200.9,524.5 201.1,525.1 201.3,525.7 201.5,526.2 201.7,526.7 201.9,527.2 202.1,527.7 202.3,528.1 202.5,528.5 202.7,528.9 203,529.3 203.1,529.5 204.5,531.5 205.9,532.9 207.2,533.9 208.6,534.7 210,535.4 211.4,535.6 212.8,535.2 214.2,534.5 215.5,533.7 216.9,532.8 218.3,532.1 219.7,531.8 221.1,532 222.1,532.5 222.6,532.9 223.1,533.4 223.7,533.9 224.2,534.6 224.7,535.2 225.2,535.8 225.7,536.4 226.2,536.9 226.8,537.3 227.3,537.9 227.8,538.3 228.3,538.7 228.8,539.3 229.4,539.8 229.9,540.2 230.4,540.7 230.9,541.1 231.4,541.5 232,542.1 232.5,542.4 233,543 233.5,543.4 234,543.9 234.5,544.5 235.1,544.8 235.6,545.2 236.1,545.2 236.6,545.8 237.1,546.1 237.7,546 238.2,545.9 238.7,546.1 239.2,546.3 239.7,546.7 240.2,546.1 240.8,546 241.3,546.4 241.8,546.2 242.3,546.6 242.8,546.6 243.4,546.4 243.9,546.5 244.4,546.4 244.9,546.5 245.4,546.8 245.9,547 246.5,546.8 247,547.5 247.5,547.2 248,547.7 248.5,548.2 249.1,548.3 249.6,548.4 250.1,547.8 250.6,548.8 251.1,549.4 251.6,549 252.2,549.9 252.7,550.3 253.2,550.1 253.7,550.2 254.2,550.1 254.8,550.9 255.3,551.4 255.8,551.4 256.3,551.3 256.8,551.4 257.4,552.3 257.9,551.7 258.4,552.4 258.9,552.8 259.4,552.4 259.9,552.7 260.5,553.4 261,553.4 261.5,553.3 262,553.3 262.5,553.8 263.1,553.3 263.6,553.9 264.1,553.9 264.6,553.4 265.1,553.2 265.6,553.6 266.2,553.5 266.7,553.3 267.2,553.1 267.7,553.4 268.2,553.3 268.8,553.4 269.3,553.7 269.8,553 270.3,553.3 270.8,552.9 271.3,553.3 271.9,552.8 272.4,553.2 272.9,553.1 273.4,553.8 273.9,553.7 274.5,553.8 275,553.2 275.5,553.8 276,554.2 276.5,554.8 277.1,554.6 277.6,554.1 278.1,554.8 278.6,554.6 279.1,555.4 279.6,555 280.2,554.9 280.7,555.2 281.2,555.7 281.7,555.9 282.2,555.5 282.8,556.1 283.3,556.3 283.8,555.9 284.3,556.3 284.8,556.3 285.3,556.1 285.9,556.1 286.4,556.4 286.9,556 287.4,555.7 287.9,555.8 288.5,555.6 289,555.6 289.5,555.8 290,555.7 290.5,556 291,555.9 291.6,555.9 292.1,555.9 292.6,555 293.1,555.1 293.6,555.9 294.2,555.2 294.7,555.3 295.2,555.2 295.7,555.2 296.2,555 296.8,555.6 297.3,555.6 297.8,555.5 298.3,555.1 298.8,555.4 299.3,555.5 299.9,555.7 300.4,555.5 300.9,555.7 301.4,555.5 301.9,555.5 302.5,556 303,556.6 303.5,556.8 304,556.6 304.5,556.7 305,556.8 305.6,556.9 306.1,557.1 306.6,556.8 307.1,557.3 307.6,557 308.2,557.3 308.7,557.6 309.2,557.5 309.7,557.6 310.2,557.5 310.7,558.1 311.3,557.4 311.8,557.1 312.3,557 312.8,557.5 313.3,557.5 313.9,556.8 314.4,557.4 314.9,557 315.4,556.9 315.9,556.6 316.4,556.4 317,556.1 317.5,556.9 318,556.4 318.5,556.8 318.9,558.9"/></defs>
<use href="#w17" stroke-width="0.92" stroke-dasharray="0 28.90 659.67 9999"/>
<use href="#w17" fill="none" stroke-width="1.05" stroke-dasharray="0 688.27 115.37 9999"/>
<defs><path id="w18" d="M57.5,561.3L57.5,532.4 58.9,532.3 60.3,532.1 61.7,531.8 63,531.4 64.4,530.9 65.8,530.3 67.2,529.6 68.6,528.8 70,527.8 71.3,526.8 72.7,525.5 74.1,524.1 75.5,522.4 76.9,519.8 78.3,517.4 79.6,515.6 81,516.3 82.4,518.2 83.8,520.3 85.2,522.3 86.5,523.5 87.9,524.4 89.3,525.2 90.7,526.1 92.1,526.5 93.5,526.3 94.8,525.7 96.2,524.1 97.6,522.4 99,520.5 100.4,518.2 101.8,515.5 103.1,513.1 104.5,511.9 105.9,511.9 107.3,513.1 108.7,516.1 110,519.3 111.4,521.8 112.8,523.3 114.2,524.5 115.6,525.4 117,525.1 118.3,524.5 119.7,524 121.1,523.1 122.5,521.6 123.2,520.7 123.4,520.4 123.6,520.1 123.8,519.8 124,519.4 124.2,519.1 124.4,518.7 124.6,518.3 124.8,517.9 125,517.4 125.3,516.9 125.5,516.4 125.7,515.8 125.9,515.2 126.1,514.6 126.3,513.9 126.5,513.2 126.7,512.5 126.9,511.8 127.1,511 127.3,510.1 127.5,509.1 127.7,508 127.9,506.7 128.2,505.2 128.4,503.5 128.6,501.7 128.8,499.6 129,497.3 129.2,494.9 129.4,492.6 129.6,490.3 129.8,487.8 130,484.7 130.2,481.1 130.4,476.5 130.6,470.8 130.9,462.9 131.1,451.1 131.3,439.9 131.5,431.4 131.7,423.3 131.9,414.5 132.1,414.8 132.3,425 132.5,434.4 132.7,445.3 132.9,459.4 133.1,472.1 133.3,482.1 133.5,488.7 133.8,493.1 134,496.8 134.2,499.9 134.4,502.1 134.6,503.6 134.8,504.8 135,505.9 135.2,506.8 135.4,507.6 135.6,508.5 135.8,509.3 136,510 136.2,510.7 136.4,511.3 136.7,511.9 136.9,512.5 137.1,513 137.3,513.5 137.5,514 137.7,514.4 137.9,514.8 138.1,515.2 138.3,515.6 138.5,516 138.7,516.3 138.9,516.7 139.1,517 139.4,517.4 139.6,517.7 139.8,518.1 140,518.4 140.2,518.7 140.4,519 140.6,519.3 140.8,519.6 141,519.8 141.2,520.1 141.4,520.3 141.6,520.4 141.8,520.6 142,520.7 142.2,520.8 143.6,521.7 145,522.7 146.3,523.4 147.7,523.8 149.1,524.1 150.5,524.2 151.9,524 153.2,523.4 154.6,522.7 156,521.9 157.4,521 158.8,519.5 160.2,517.7 161.5,515.6 162.9,513.3 164.3,511.2 165.7,512.2 167.1,516.1 168.5,519.7 169.8,522.5 171.2,524.9 172.6,526.8 174,528.1 175.4,529 176.7,529.8 178.1,530.3 179.5,530.1 180.9,529.4 181.9,528.7 182.1,528.5 182.3,528.2 182.6,528 182.8,527.8 183,527.5 183.2,527.2 183.4,526.9 183.6,526.6 183.8,526.3 184,525.9 184.2,525.5 184.4,525 184.6,524.6 184.8,524.1 185,523.5 185.2,522.9 185.5,522.3 185.7,521.7 185.9,521.1 186.1,520.4 186.3,519.7 186.5,518.9 186.7,518 186.9,517.1 187.1,516.2 187.3,515.2 187.5,514.2 187.7,513.1 187.9,512 188.2,510.8 188.4,509.6 188.6,508.1 188.8,506.4 189,504.3 189.2,501.5 189.4,497.4 189.6,491.2 189.8,481.7 190,469.6 190.2,452.8 190.4,434.5 190.6,419.3 190.8,409.4 191.1,402.3 191.3,401.8 191.5,405.6 191.7,411.1 191.9,418.2 192.1,429.8 192.3,441 192.5,451.6 192.7,462 192.9,471.9 193.1,482.5 193.3,491.1 193.5,495.9 193.8,499.3 194,501.8 194.2,503.9 194.4,505.6 194.6,507.2 194.8,508.5 195,509.8 195.2,511 195.4,512.1 195.6,513.1 195.8,514.2 196,515.3 196.2,516.4 196.4,517.5 196.7,518.5 196.9,519.6 197.1,520.6 197.3,521.5 197.5,522.5 197.7,523.3 197.9,524.1 198.1,524.9 198.3,525.6 198.5,526.2 198.7,526.9 198.9,527.5 199.1,528.1 199.3,528.6 199.6,529.2 199.8,529.7 200,530.1 200.2,530.5 200.4,530.9 200.6,531.3 200.8,531.7 200.9,531.9 202.3,533.9 203.7,535.3 205.1,536.4 206.5,537.1 207.9,537.8 209.2,538 210.6,537.7 212,537 213.4,536.1 214.8,535.2 216.1,534.5 217.5,534.2 218.9,534.4 219.9,534.8 220.5,535.2 221,535.7 221.5,536.2 222,536.8 222.5,537.5 223.1,538.1 223.6,538.6 224.1,539.1 224.6,539.6 225.1,540.1 225.6,540.4 226.2,540.9 226.7,541.3 227.2,541.7 227.7,542.2 228.2,542.7 228.8,543 229.3,543.8 229.8,543.9 230.3,544.4 230.8,545 231.4,545.3 231.9,545.7 232.4,546.5 232.9,546.7 233.4,547.2 233.9,547.5 234.5,547.5 235,548.1 235.5,548.4 236,548.3 236.5,547.9 237.1,548 237.6,548.2 238.1,548 238.6,548.5 239.1,548.7 239.6,548.8 240.2,548.4 240.7,548.5 241.2,549 241.7,548 242.2,548.5 242.8,549.3 243.3,549.5 243.8,549.1 244.3,549.3 244.8,549.8 245.3,549.7 245.9,549.9 246.4,550.2 246.9,550 247.4,551 247.9,550.9 248.5,551.5 249,551.3 249.5,551.6 250,551.3 250.5,552.4 251.1,552.4 251.6,552.8 252.1,553 252.6,553.5 253.1,553.9 253.6,553.9 254.2,554.2 254.7,553.9 255.2,554.4 255.7,554.1 256.2,554.9 256.8,555.3 257.3,555.1 257.8,555.2 258.3,554.6 258.8,555.7 259.3,555.3 259.9,555.8 260.4,556 260.9,555.6 261.4,556.1 261.9,555.4 262.5,555.7 263,555.7 263.5,555.9 264,555.7 264.5,555.4 265,555.9 265.6,555.6 266.1,555.8 266.6,555.6 267.1,555.5 267.6,556 268.2,555.5 268.7,555.7 269.2,555.3 269.7,555.9 270.2,555.7 270.7,555.8 271.3,555.5 271.8,555.9 272.3,555.6 272.8,555.9 273.3,556.5 273.9,556.8 274.4,556.6 274.9,556.5 275.4,556.9 275.9,557.3 276.5,557 277,557.4 277.5,557.7 278,557.5 278.5,557.8 279,558.3 279.6,558 280.1,557.9 280.6,558.4 281.1,558.7 281.6,558.1 282.2,558 282.7,558.4 283.2,558.4 283.7,558.6 284.2,558.4 284.7,558.8 285.3,558.5 285.8,558.3 286.3,558.5 286.8,558.3 287.3,558.2 287.9,557.8 288.4,558.3 288.9,558.5 289.4,558.2 289.9,558.2 290.4,557.8 291,557.5 291.5,558.1 292,557.7 292.5,557.6 293,557.8 293.6,557.7 294.1,557.9 294.6,557.3 295.1,557.5 295.6,558 296.2,557.7 296.7,558.2 297.2,557.8 297.7,557.7 298.2,558.7 298.7,558.3 299.3,558.4 299.8,557.9 300.3,558.4 300.8,558.5 301.3,558.9 301.9,558.9 302.4,558.9 302.9,559.2 303.4,559.2 303.9,559.5 304.4,559.9 305,559.6 305.5,559.7 306,560.2 306.5,560.2 307,560.1 307.6,559.5 308.1,559.7 308.6,559.4 309.1,560.5 309.6,559.7 310.1,559.3 310.7,559.8 311.2,559.5 311.7,559.8 312.2,559.3 312.7,559.3 313.3,559.6 313.8,558.8 314.3,559 314.8,558.8 315.3,559.2 315.9,558.4 316.4,558.7 316.7,561.3"/></defs>
<use href="#w18" stroke-width="0.92" stroke-dasharray="0 28.90 654.52 9999"/>
<use href="#w18" fill="none" stroke-width="1.05" stroke-dasharray="0 683.12 116.75 9999"/>
<defs><path id="w19" d="M55.3,563.8L55.4,534.8 56.7,534.7 58.1,534.5 59.5,534.2 60.9,533.8 62.3,533.3 63.7,532.7 65,532.1 66.4,531.2 67.8,530.3 69.2,529.2 70.6,528 71.9,526.5 73.3,524.8 74.7,522.2 76.1,519.8 77.5,518 78.9,518.7 80.2,520.6 81.6,522.7 83,524.7 84.4,525.9 85.8,526.8 87.2,527.6 88.5,528.5 89.9,528.9 91.3,528.7 92.7,528.2 94.1,526.5 95.4,524.8 96.8,522.9 98.2,520.7 99.6,518 101,515.5 102.4,514.4 103.7,514.4 105.1,515.5 106.5,518.6 107.9,521.8 109.3,524.2 110.7,525.8 112,527 113.4,527.8 114.8,527.5 116.2,526.9 117.6,526.4 119,525.6 120.3,524 121,523.1 121.2,522.8 121.4,522.5 121.6,522.2 121.9,521.8 122.1,521.5 122.3,521.1 122.5,520.7 122.7,520.3 122.9,519.8 123.1,519.4 123.3,518.8 123.5,518.2 123.7,517.6 123.9,517 124.1,516.3 124.3,515.6 124.5,514.9 124.8,514.1 125,513.3 125.2,512.5 125.4,511.5 125.6,510.4 125.8,509 126,507.5 126.2,505.8 126.4,504 126.6,502 126.8,499.7 127,497.2 127.2,494.9 127.5,492.5 127.7,490 127.9,487 128.1,483.3 128.3,478.7 128.5,472.9 128.7,465.1 128.9,453.1 129.1,441.9 129.3,433.4 129.5,425.2 129.7,416.4 129.9,416.7 130.1,426.9 130.4,436.4 130.6,447.4 130.8,461.5 131,474.3 131.2,484.4 131.4,490.9 131.6,495.4 131.8,499.1 132,502.2 132.2,504.4 132.4,505.9 132.6,507.2 132.8,508.2 133.1,509.1 133.3,510 133.5,510.8 133.7,511.6 133.9,512.4 134.1,513.1 134.3,513.7 134.5,514.3 134.7,514.9 134.9,515.4 135.1,515.9 135.3,516.4 135.5,516.8 135.7,517.2 136,517.6 136.2,518 136.4,518.4 136.6,518.7 136.8,519.1 137,519.4 137.2,519.8 137.4,520.1 137.6,520.5 137.8,520.8 138,521.1 138.2,521.4 138.4,521.7 138.6,522 138.9,522.3 139.1,522.5 139.3,522.7 139.5,522.9 139.7,523 139.9,523.2 140,523.3 141.4,524.1 142.8,525.1 144.2,525.9 145.6,526.2 146.9,526.5 148.3,526.6 149.7,526.4 151.1,525.8 152.5,525.1 153.9,524.4 155.2,523.4 156.6,521.9 158,520.1 159.4,518 160.8,515.7 162.2,513.7 163.5,514.6 164.9,518.5 166.3,522.1 167.7,524.9 169.1,527.3 170.4,529.2 171.8,530.5 173.2,531.5 174.6,532.2 176,532.8 177.4,532.6 178.7,531.8 179.8,531.1 180,530.9 180.2,530.7 180.4,530.4 180.6,530.2 180.8,529.9 181,529.6 181.2,529.3 181.4,529 181.6,528.7 181.8,528.3 182.1,527.9 182.3,527.5 182.5,527 182.7,526.5 182.9,525.9 183.1,525.4 183.3,524.8 183.5,524.1 183.7,523.5 183.9,522.8 184.1,522.1 184.3,521.3 184.5,520.5 184.8,519.6 185,518.6 185.2,517.6 185.4,516.6 185.6,515.5 185.8,514.4 186,513.3 186.2,512 186.4,510.5 186.6,508.8 186.8,506.7 187,503.9 187.2,499.8 187.4,493.6 187.7,484.1 187.9,472 188.1,455.1 188.3,436.7 188.5,421.5 188.7,411.6 188.9,404.5 189.1,404 189.3,407.8 189.5,413.3 189.7,420.4 189.9,432.1 190.1,443.3 190.4,453.9 190.6,464.3 190.8,474.2 191,484.8 191.2,493.5 191.4,498.3 191.6,501.7 191.8,504.2 192,506.3 192.2,508 192.4,509.6 192.6,511 192.8,512.2 193,513.4 193.3,514.5 193.5,515.6 193.7,516.6 193.9,517.7 194.1,518.8 194.3,519.9 194.5,521 194.7,522 194.9,523 195.1,524 195.3,524.9 195.5,525.7 195.7,526.6 196,527.3 196.2,528 196.4,528.7 196.6,529.3 196.8,529.9 197,530.5 197.2,531.1 197.4,531.6 197.6,532.1 197.8,532.5 198,533 198.2,533.4 198.4,533.7 198.6,534.1 198.8,534.3 200.2,536.3 201.5,537.7 202.9,538.8 204.3,539.6 205.7,540.2 207.1,540.4 208.5,540.1 209.8,539.4 211.2,538.5 212.6,537.7 214,537 215.4,536.6 216.8,536.8 217.8,537.2 218.3,537.5 218.8,538 219.3,538.5 219.9,539.1 220.4,539.7 220.9,540.3 221.4,540.8 221.9,541.3 222.5,541.7 223,542.1 223.5,542.6 224,543.1 224.5,543.4 225,543.8 225.6,544.2 226.1,545 226.6,545.3 227.1,545.6 227.6,546.4 228.2,546.3 228.7,546.9 229.2,547.7 229.7,548.2 230.2,548.2 230.8,548.9 231.3,549.2 231.8,549.8 232.3,550.1 232.8,550.2 233.3,550.3 233.9,550.2 234.4,550.6 234.9,550.3 235.4,550.8 235.9,550.9 236.5,550.8 237,550.9 237.5,551.2 238,551.4 238.5,550.8 239,550.9 239.6,550.8 240.1,551.6 240.6,551.3 241.1,551.7 241.6,551.1 242.2,551.2 242.7,551.6 243.2,551.6 243.7,552.6 244.2,552.5 244.7,552.6 245.3,552.7 245.8,553.1 246.3,553.2 246.8,553.5 247.3,554 247.9,553.8 248.4,554.5 248.9,554.5 249.4,554.8 249.9,555.6 250.5,555.6 251,555.2 251.5,555.9 252,556 252.5,556.5 253,556.2 253.6,556.7 254.1,556.6 254.6,556.7 255.1,557.3 255.6,557.3 256.2,557.2 256.7,557.9 257.2,557.8 257.7,558 258.2,557.9 258.7,558.4 259.3,558.1 259.8,557.9 260.3,558.3 260.8,558.3 261.3,557.9 261.9,558.2 262.4,557.9 262.9,557.6 263.4,558.3 263.9,557.7 264.4,557.5 265,558.2 265.5,557.7 266,557.7 266.5,557.9 267,557.8 267.6,558.2 268.1,557.9 268.6,558.2 269.1,557.9 269.6,558.2 270.2,558.3 270.7,558.2 271.2,558.5 271.7,558.9 272.2,558.9 272.7,559.2 273.3,559 273.8,559 274.3,558.9 274.8,559.4 275.3,560 275.9,559.7 276.4,560.3 276.9,560.5 277.4,560.5 277.9,560.2 278.4,560.9 279,560.4 279.5,560.6 280,560.1 280.5,560.7 281,560.8 281.6,561 282.1,560.9 282.6,560.6 283.1,561 283.6,561.3 284.1,560.7 284.7,560.6 285.2,560.5 285.7,560.5 286.2,560.6 286.7,560.7 287.3,559.9 287.8,560 288.3,560.1 288.8,560.2 289.3,560.3 289.8,560.1 290.4,559.8 290.9,559.9 291.4,559.9 291.9,559.8 292.4,560.1 293,560.2 293.5,560.1 294,560.1 294.5,559.6 295,559.6 295.6,560.6 296.1,560.6 296.6,560.5 297.1,561.2 297.6,560.9 298.1,560.5 298.7,561.2 299.2,561.3 299.7,561 300.2,560.9 300.7,561.6 301.3,561.7 301.8,561.7 302.3,561.7 302.8,562.5 303.3,562 303.8,562.3 304.4,562.1 304.9,562.1 305.4,562.9 305.9,562 306.4,562.2 307,562.3 307.5,562 308,562 308.5,561.5 309,561.7 309.5,561.6 310.1,561.7 310.6,561.5 311.1,561.8 311.6,561.2 312.1,561.3 312.7,561 313.2,560.8 313.7,561.4 314.2,560.7 314.5,563.8"/></defs>
<use href="#w19" stroke-width="0.92" stroke-dasharray="0 29.10 655.60 9999"/>
<use href="#w19" fill="none" stroke-width="1.05" stroke-dasharray="0 684.40 114.30 9999"/>
<defs><path id="w20" d="M53.0,566.2L53.2,537.3 54.6,537.1 56,536.9 57.4,536.7 58.7,536.3 60.1,535.7 61.5,535.2 62.9,534.5 64.3,533.7 65.6,532.7 67,531.6 68.4,530.4 69.8,529 71.2,527.2 72.6,524.7 73.9,522.2 75.3,520.5 76.7,521.1 78.1,523 79.5,525.2 80.9,527.1 82.2,528.3 83.6,529.2 85,530.1 86.4,530.9 87.8,531.4 89.1,531.2 90.5,530.6 91.9,528.9 93.3,527.2 94.7,525.3 96.1,523.1 97.4,520.4 98.8,517.9 100.2,516.8 101.6,516.8 103,518 104.4,521 105.7,524.2 107.1,526.6 108.5,528.2 109.9,529.4 111.3,530.2 112.6,529.9 114,529.3 115.4,528.8 116.8,528 118.2,526.4 118.9,525.5 119.1,525.2 119.3,524.9 119.5,524.6 119.7,524.3 119.9,523.9 120.1,523.5 120.3,523.1 120.5,522.7 120.7,522.3 120.9,521.8 121.2,521.2 121.4,520.7 121.6,520 121.8,519.4 122,518.7 122.2,518 122.4,517.3 122.6,516.6 122.8,515.8 123,514.9 123.2,513.9 123.4,512.8 123.6,511.5 123.8,510 124.1,508.3 124.3,506.5 124.5,504.4 124.7,502.1 124.9,499.7 125.1,497.3 125.3,495 125.5,492.5 125.7,489.5 125.9,485.8 126.1,481.2 126.3,475.5 126.5,467.6 126.7,455.7 127,444.5 127.2,436 127.4,427.8 127.6,419 127.8,419.3 128,429.5 128.2,439 128.4,449.9 128.6,464 128.8,476.8 129,486.9 129.2,493.4 129.4,497.9 129.7,501.5 129.9,504.6 130.1,506.9 130.3,508.4 130.5,509.6 130.7,510.7 130.9,511.6 131.1,512.5 131.3,513.3 131.5,514.1 131.7,514.8 131.9,515.5 132.1,516.2 132.3,516.8 132.6,517.3 132.8,517.8 133,518.3 133.2,518.8 133.4,519.2 133.6,519.7 133.8,520.1 134,520.4 134.2,520.8 134.4,521.2 134.6,521.5 134.8,521.9 135,522.2 135.3,522.6 135.5,522.9 135.7,523.2 135.9,523.6 136.1,523.9 136.3,524.2 136.5,524.4 136.7,524.7 136.9,524.9 137.1,525.1 137.3,525.3 137.5,525.5 137.7,525.6 137.9,525.7 139.3,526.6 140.6,527.5 142,528.3 143.4,528.7 144.8,528.9 146.2,529 147.6,528.8 148.9,528.3 150.3,527.5 151.7,526.8 153.1,525.8 154.5,524.3 155.8,522.5 157.2,520.5 158.6,518.1 160,516.1 161.4,517 162.8,520.9 164.1,524.6 165.5,527.3 166.9,529.7 168.3,531.6 169.7,532.9 171.1,533.9 172.4,534.7 173.8,535.2 175.2,535 176.6,534.3 177.6,533.5 177.8,533.3 178,533.1 178.2,532.9 178.5,532.6 178.7,532.3 178.9,532.1 179.1,531.8 179.3,531.4 179.5,531.1 179.7,530.8 179.9,530.4 180.1,529.9 180.3,529.4 180.5,528.9 180.7,528.4 180.9,527.8 181.1,527.2 181.4,526.6 181.6,525.9 181.8,525.3 182,524.5 182.2,523.7 182.4,522.9 182.6,522 182.8,521 183,520 183.2,519 183.4,517.9 183.6,516.8 183.8,515.6 184.1,514.3 184.3,512.8 184.5,511.1 184.7,509 184.9,506.1 185.1,502 185.3,495.7 185.5,486.1 185.7,473.9 185.9,456.9 186.1,438.4 186.3,423 186.5,413 186.7,405.8 187,405.4 187.2,409.2 187.4,414.7 187.6,421.9 187.8,433.7 188,445 188.2,455.7 188.4,466.2 188.6,476.2 188.8,486.9 189,495.6 189.2,500.5 189.4,503.9 189.6,506.5 189.9,508.5 190.1,510.3 190.3,511.9 190.5,513.3 190.7,514.5 190.9,515.7 191.1,516.8 191.3,517.9 191.5,519 191.7,520.1 191.9,521.2 192.1,522.3 192.3,523.4 192.6,524.4 192.8,525.4 193,526.4 193.2,527.3 193.4,528.2 193.6,529 193.8,529.7 194,530.4 194.2,531.1 194.4,531.7 194.6,532.4 194.8,532.9 195,533.5 195.2,534 195.5,534.5 195.7,535 195.9,535.4 196.1,535.8 196.3,536.2 196.5,536.5 196.6,536.8 198,538.8 199.4,540.2 200.8,541.2 202.2,542 203.5,542.6 204.9,542.9 206.3,542.5 207.7,541.8 209.1,541 210.5,540.1 211.8,539.4 213.2,539 214.6,539.1 215.6,539.5 216.2,539.8 216.7,540.3 217.2,540.8 217.7,541.4 218.2,542 218.7,542.5 219.3,543 219.8,543.4 220.3,543.9 220.8,544.3 221.3,544.9 221.9,545.2 222.4,545.6 222.9,546 223.4,546.2 223.9,546.8 224.5,547.2 225,547.6 225.5,548.1 226,548.6 226.5,549.2 227,549.9 227.6,550.1 228.1,550.6 228.6,550.9 229.1,551.2 229.6,551.7 230.2,552.3 230.7,552.2 231.2,552.2 231.7,552.8 232.2,552.4 232.7,552.9 233.3,553 233.8,552.5 234.3,553 234.8,552.8 235.3,552.8 235.9,553 236.4,552.7 236.9,553.1 237.4,553 237.9,553.3 238.4,554 239,554.2 239.5,553.9 240,553.9 240.5,553.6 241,554 241.6,554.6 242.1,554.7 242.6,554.9 243.1,555 243.6,555.3 244.2,555.9 244.7,555.7 245.2,556 245.7,556.5 246.2,556.2 246.7,556.7 247.3,556.9 247.8,557.5 248.3,558.4 248.8,557.8 249.3,558.5 249.9,558.8 250.4,559 250.9,559.2 251.4,559 251.9,559.5 252.4,559.8 253,559.8 253.5,559.8 254,560.2 254.5,560.2 255,560 255.6,560.5 256.1,560.5 256.6,560.5 257.1,561.2 257.6,560.3 258.1,560.2 258.7,561.1 259.2,560.6 259.7,560.3 260.2,560.5 260.7,560.2 261.3,560.4 261.8,560.3 262.3,560 262.8,560.2 263.3,560 263.8,560.4 264.4,560.3 264.9,560.4 265.4,560.2 265.9,560.1 266.4,560.5 267,560.7 267.5,560.9 268,560.5 268.5,560.9 269,561.2 269.6,561.1 270.1,561.3 270.6,561.2 271.1,561.5 271.6,561.6 272.1,562.1 272.7,562.2 273.2,561.8 273.7,562.3 274.2,562.8 274.7,562.3 275.3,562.5 275.8,562.6 276.3,562.9 276.8,562.8 277.3,562.8 277.8,563.5 278.4,562.9 278.9,563.4 279.4,562.5 279.9,562.8 280.4,563.2 281,563.1 281.5,563 282,563.1 282.5,563 283,563.1 283.5,562.3 284.1,562.6 284.6,562.7 285.1,562.3 285.6,562.7 286.1,561.6 286.7,562.7 287.2,561.9 287.7,562.7 288.2,562.5 288.7,562.4 289.3,561.8 289.8,562.4 290.3,562.1 290.8,563 291.3,562.8 291.8,562.4 292.4,562.6 292.9,562.2 293.4,562.6 293.9,562.5 294.4,562.9 295,563.3 295.5,562.7 296,563.6 296.5,563.8 297,563.4 297.5,563.9 298.1,564 298.6,564.1 299.1,563.8 299.6,564.6 300.1,564.8 300.7,564.5 301.2,564.9 301.7,564.6 302.2,564.5 302.7,564.2 303.2,564.8 303.8,565 304.3,564.8 304.8,564.2 305.3,564.4 305.8,563.9 306.4,564.5 306.9,564.3 307.4,563.7 307.9,564.3 308.4,564.2 309,563.8 309.5,563.7 310,563.6 310.5,563.6 311,563.3 311.5,563.3 312.1,563.4 312.2,566.2"/></defs>
<use href="#w20" stroke-width="0.92" stroke-dasharray="0 29.10 657.46 9999"/>
<use href="#w20" fill="none" stroke-width="1.05" stroke-dasharray="0 686.26 116.99 9999"/>
<defs><path id="w21" d="M50.8,568.6L51.1,539.7 52.4,539.6 53.8,539.4 55.2,539.1 56.6,538.7 58,538.2 59.3,537.6 60.7,536.9 62.1,536.1 63.5,535.1 64.9,534 66.3,532.8 67.6,531.4 69,529.7 70.4,527.1 71.8,524.6 73.2,522.9 74.6,523.6 75.9,525.5 77.3,527.6 78.7,529.6 80.1,530.8 81.5,531.7 82.8,532.5 84.2,533.4 85.6,533.8 87,533.6 88.4,533 89.8,531.4 91.1,529.7 92.5,527.8 93.9,525.5 95.3,522.8 96.7,520.4 98.1,519.2 99.4,519.2 100.8,520.4 102.2,523.4 103.6,526.6 105,529 106.3,530.6 107.7,531.8 109.1,532.7 110.5,532.4 111.9,531.8 113.3,531.2 114.6,530.4 116,528.9 116.7,527.9 116.9,527.7 117.1,527.4 117.3,527 117.5,526.7 117.8,526.4 118,526 118.2,525.6 118.4,525.2 118.6,524.7 118.8,524.2 119,523.7 119.2,523.1 119.4,522.5 119.6,521.8 119.8,521.2 120,520.5 120.2,519.8 120.4,519 120.7,518.2 120.9,517.4 121.1,516.4 121.3,515.3 121.5,514 121.7,512.4 121.9,510.7 122.1,509 122.3,506.9 122.5,504.6 122.7,502.2 122.9,499.8 123.1,497.5 123.4,495 123.6,492 123.8,488.3 124,483.7 124.2,478 124.4,470.1 124.6,458.3 124.8,447.1 125,438.6 125.2,430.4 125.4,421.7 125.6,422 125.8,432.1 126,441.6 126.3,452.5 126.5,466.6 126.7,479.3 126.9,489.4 127.1,495.9 127.3,500.3 127.5,504 127.7,507.1 127.9,509.3 128.1,510.8 128.3,512.1 128.5,513.1 128.7,514.1 129,514.9 129.2,515.7 129.4,516.5 129.6,517.3 129.8,518 130,518.6 130.2,519.2 130.4,519.8 130.6,520.3 130.8,520.8 131,521.2 131.2,521.7 131.4,522.1 131.6,522.5 131.9,522.9 132.1,523.2 132.3,523.6 132.5,524 132.7,524.3 132.9,524.6 133.1,525 133.3,525.3 133.5,525.7 133.7,526 133.9,526.3 134.1,526.6 134.3,526.9 134.5,527.1 134.8,527.4 135,527.5 135.2,527.7 135.4,527.9 135.6,528 135.7,528.1 137.1,529 138.5,529.9 139.9,530.7 141.3,531.1 142.6,531.3 144,531.5 145.4,531.3 146.8,530.7 148.2,530 149.5,529.2 150.9,528.2 152.3,526.8 153.7,525 155.1,522.9 156.5,520.5 157.8,518.5 159.2,519.5 160.6,523.4 162,527 163.4,529.8 164.8,532.1 166.1,534.1 167.5,535.4 168.9,536.3 170.3,537.1 171.7,537.6 173,537.4 174.4,536.7 175.5,536 175.7,535.8 175.9,535.5 176.1,535.3 176.3,535 176.5,534.8 176.7,534.5 176.9,534.2 177.1,533.9 177.3,533.5 177.5,533.2 177.7,532.8 178,532.3 178.2,531.9 178.4,531.3 178.6,530.8 178.8,530.2 179,529.6 179.2,529 179.4,528.4 179.6,527.7 179.8,526.9 180,526.2 180.2,525.3 180.4,524.4 180.7,523.4 180.9,522.4 181.1,521.4 181.3,520.3 181.5,519.2 181.7,518 181.9,516.7 182.1,515.2 182.3,513.5 182.5,511.4 182.7,508.5 182.9,504.4 183.1,498.1 183.3,488.5 183.6,476.3 183.8,459.3 184,440.7 184.2,425.3 184.4,415.3 184.6,408.1 184.8,407.7 185,411.5 185.2,417 185.4,424.3 185.6,436 185.8,447.3 186,458.1 186.3,468.5 186.5,478.6 186.7,489.3 186.9,498.1 187.1,502.9 187.3,506.3 187.5,508.9 187.7,510.9 187.9,512.7 188.1,514.3 188.3,515.7 188.5,517 188.7,518.1 188.9,519.3 189.2,520.3 189.4,521.4 189.6,522.5 189.8,523.6 190,524.7 190.2,525.8 190.4,526.8 190.6,527.9 190.8,528.8 191,529.7 191.2,530.6 191.4,531.4 191.6,532.2 191.8,532.9 192.1,533.5 192.3,534.2 192.5,534.8 192.7,535.4 192.9,535.9 193.1,536.4 193.3,536.9 193.5,537.4 193.7,537.8 193.9,538.2 194.1,538.6 194.3,539 194.5,539.2 195.9,541.2 197.2,542.6 198.6,543.7 200,544.4 201.4,545.1 202.8,545.3 204.2,545 205.5,544.3 206.9,543.4 208.3,542.5 209.7,541.8 211.1,541.4 212.4,541.5 213.5,541.8 214,542.2 214.5,542.6 215,543.1 215.6,543.7 216.1,544.2 216.6,544.8 217.1,545.2 217.6,545.7 218.1,546 218.7,546.4 219.2,546.9 219.7,547.3 220.2,547.8 220.7,548.1 221.3,548.7 221.8,548.8 222.3,549.5 222.8,549.6 223.3,550.1 223.9,550.8 224.4,551.3 224.9,551.9 225.4,552.3 225.9,552.8 226.4,553.2 227,553.4 227.5,553.9 228,554 228.5,554.5 229,554.5 229.6,554.6 230.1,554.8 230.6,555.3 231.1,554.8 231.6,555.5 232.1,555.1 232.7,555.2 233.2,555.4 233.7,555.4 234.2,555.4 234.7,555 235.3,555.6 235.8,555.9 236.3,555.5 236.8,555.6 237.3,556.1 237.8,556 238.4,556 238.9,557.2 239.4,556.6 239.9,557.2 240.4,557.5 241,557.6 241.5,557.8 242,558.3 242.5,558.4 243,558.8 243.6,558.7 244.1,558.9 244.6,559.5 245.1,559.6 245.6,559.4 246.1,560.4 246.7,560 247.2,560.2 247.7,560.6 248.2,560.6 248.7,561.5 249.3,560.8 249.8,561.6 250.3,561.1 250.8,561.3 251.3,561.9 251.8,561.8 252.4,562 252.9,562.2 253.4,562.5 253.9,562.5 254.4,563.1 255,563.3 255.5,562.5 256,563.1 256.5,563.1 257,562.6 257.5,562.8 258.1,562.8 258.6,562.6 259.1,562.1 259.6,562.4 260.1,562.5 260.7,561.9 261.2,562.4 261.7,562.4 262.2,562.2 262.7,562.6 263.3,562.9 263.8,562.9 264.3,562.8 264.8,562.4 265.3,562.6 265.8,563.6 266.4,563.6 266.9,563.3 267.4,563.4 267.9,563.6 268.4,563.9 269,563.6 269.5,564 270,564.5 270.5,564.4 271,564.3 271.5,564.4 272.1,564.8 272.6,565.1 273.1,564.4 273.6,565.1 274.1,565.1 274.7,565.4 275.2,564.6 275.7,564.9 276.2,565.5 276.7,565.2 277.2,565.4 277.8,565.2 278.3,565.2 278.8,565.2 279.3,564.8 279.8,565.5 280.4,565.1 280.9,565.4 281.4,564.9 281.9,565.3 282.4,564.5 282.9,564.8 283.5,565.4 284,564.8 284.5,565.2 285,564.7 285.5,564.8 286.1,565.1 286.6,564.7 287.1,564.6 287.6,564.4 288.1,564.9 288.7,564.3 289.2,564.7 289.7,565 290.2,564.7 290.7,565.1 291.2,565 291.8,564.8 292.3,564.9 292.8,565.1 293.3,565.8 293.8,565.7 294.4,565.7 294.9,565.9 295.4,566 295.9,566.3 296.4,566.7 296.9,566.7 297.5,567.3 298,566.7 298.5,566.6 299,567.2 299.5,566.7 300.1,566.9 300.6,567.3 301.1,567 301.6,566.9 302.1,567 302.6,567.1 303.2,566.9 303.7,567 304.2,566.6 304.7,566.9 305.2,566.7 305.8,566.7 306.3,566.3 306.8,565.9 307.3,566.5 307.8,566.2 308.4,566.2 308.9,565.8 309.4,565.5 309.9,565.1 310.0,568.6"/></defs>
<use href="#w21" stroke-width="0.92" stroke-dasharray="0 29.20 657.01 9999"/>
<use href="#w21" fill="none" stroke-width="1.05" stroke-dasharray="0 685.91 116.21 9999"/>
<defs><path id="w22" d="M48.6,571.1L48.9,542.1 50.3,542 51.7,541.8 53,541.5 54.4,541.1 55.8,540.6 57.2,540 58.6,539.3 60,538.5 61.3,537.6 62.7,536.5 64.1,535.3 65.5,533.8 66.9,532.1 68.3,529.5 69.6,527.1 71,525.3 72.4,526 73.8,527.9 75.2,530 76.5,532 77.9,533.2 79.3,534.1 80.7,534.9 82.1,535.8 83.5,536.2 84.8,536 86.2,535.4 87.6,533.8 89,532.1 90.4,530.2 91.8,528 93.1,525.2 94.5,522.8 95.9,521.7 97.3,521.7 98.7,522.8 100,525.9 101.4,529.1 102.8,531.5 104.2,533.1 105.6,534.3 107,535.1 108.3,534.8 109.7,534.2 111.1,533.7 112.5,532.8 113.9,531.3 114.6,530.4 114.8,530.1 115,529.8 115.2,529.5 115.4,529.1 115.6,528.8 115.8,528.4 116,528 116.2,527.6 116.4,527.2 116.6,526.7 116.8,526.2 117.1,525.6 117.3,525 117.5,524.3 117.7,523.7 117.9,523 118.1,522.3 118.3,521.5 118.5,520.7 118.7,519.9 118.9,518.9 119.1,517.8 119.3,516.5 119.5,515 119.7,513.3 120,511.6 120.2,509.5 120.4,507.2 120.6,504.8 120.8,502.5 121,500.2 121.2,497.7 121.4,494.7 121.6,491.1 121.8,486.6 122,480.8 122.2,473.1 122.4,461.3 122.6,450.2 122.9,441.8 123.1,433.7 123.3,425 123.5,425.3 123.7,435.4 123.9,444.8 124.1,455.6 124.3,469.6 124.5,482.2 124.7,492.1 124.9,498.6 125.1,503 125.3,506.6 125.6,509.7 125.8,511.9 126,513.4 126.2,514.7 126.4,515.7 126.6,516.6 126.8,517.5 127,518.3 127.2,519.1 127.4,519.8 127.6,520.5 127.8,521.1 128,521.7 128.2,522.3 128.5,522.8 128.7,523.3 128.9,523.7 129.1,524.2 129.3,524.6 129.5,525 129.7,525.3 129.9,525.7 130.1,526.1 130.3,526.4 130.5,526.8 130.7,527.1 130.9,527.5 131.2,527.8 131.4,528.1 131.6,528.4 131.8,528.8 132,529 132.2,529.3 132.4,529.6 132.6,529.8 132.8,530 133,530.2 133.2,530.3 133.4,530.5 133.6,530.6 135,531.4 136.3,532.4 137.7,533.2 139.1,533.5 140.5,533.8 141.9,533.9 143.2,533.7 144.6,533.1 146,532.4 147.4,531.7 148.8,530.7 150.2,529.2 151.5,527.4 152.9,525.3 154.3,523 155.7,521 157.1,521.9 158.5,525.8 159.8,529.4 161.2,532.2 162.6,534.6 164,536.5 165.4,537.8 166.7,538.8 168.1,539.5 169.5,540.1 170.9,539.9 172.3,539.1 173.3,538.4 173.5,538.2 173.7,538 173.9,537.7 174.1,537.5 174.4,537.2 174.6,536.9 174.8,536.6 175,536.3 175.2,536 175.4,535.6 175.6,535.2 175.8,534.8 176,534.3 176.2,533.8 176.4,533.2 176.6,532.7 176.8,532.1 177,531.4 177.3,530.8 177.5,530.1 177.7,529.4 177.9,528.6 178.1,527.7 178.3,526.8 178.5,525.9 178.7,524.9 178.9,523.8 179.1,522.7 179.3,521.6 179.5,520.5 179.7,519.2 179.9,517.7 180.2,515.9 180.4,513.9 180.6,511 180.8,506.9 181,500.6 181.2,491 181.4,478.8 181.6,461.8 181.8,443.3 182,427.9 182.2,417.9 182.4,410.7 182.6,410.3 182.9,414.1 183.1,419.6 183.3,426.8 183.5,438.6 183.7,449.8 183.9,460.6 184.1,471 184.3,481.1 184.5,491.8 184.7,500.5 184.9,505.4 185.1,508.8 185.3,511.3 185.5,513.4 185.8,515.2 186,516.7 186.2,518.1 186.4,519.4 186.6,520.6 186.8,521.7 187,522.8 187.2,523.9 187.4,525 187.6,526.1 187.8,527.2 188,528.2 188.2,529.3 188.5,530.3 188.7,531.3 188.9,532.2 189.1,533 189.3,533.8 189.5,534.6 189.7,535.3 189.9,536 190.1,536.6 190.3,537.2 190.5,537.8 190.7,538.4 190.9,538.9 191.1,539.4 191.4,539.8 191.6,540.2 191.8,540.6 192,541 192.2,541.4 192.3,541.6 193.7,543.6 195.1,545 196.5,546.1 197.9,546.9 199.2,547.5 200.6,547.7 202,547.4 203.4,546.7 204.8,545.8 206.1,545 207.5,544.2 208.9,543.8 210.3,543.8 211.3,544.2 211.8,544.5 212.4,544.9 212.9,545.4 213.4,546 213.9,546.5 214.4,547 215,547.5 215.5,547.9 216,548.2 216.5,548.6 217,549.1 217.6,549.5 218.1,549.7 218.6,550.3 219.1,550.8 219.6,551 220.1,551.2 220.7,551.8 221.2,552.3 221.7,552.7 222.2,553.4 222.7,553.8 223.3,554.4 223.8,554.7 224.3,555.1 224.8,555.5 225.3,556 225.8,556.1 226.4,556.7 226.9,556.6 227.4,556.5 227.9,557.1 228.4,557 229,557.5 229.5,557.5 230,557.2 230.5,557.8 231,557.8 231.5,558.2 232.1,558 232.6,557.6 233.1,557.7 233.6,557.9 234.1,558.5 234.7,558.4 235.2,558.2 235.7,558.4 236.2,558.7 236.7,558.7 237.2,559.4 237.8,559.3 238.3,559.4 238.8,560.1 239.3,560.2 239.8,559.9 240.4,560.4 240.9,561.1 241.4,561.1 241.9,561.4 242.4,561.6 243,561.6 243.5,561.8 244,561.9 244.5,562.9 245,562.5 245.5,563.2 246.1,562.9 246.6,563.1 247.1,563 247.6,563.4 248.1,563.8 248.7,563.8 249.2,563.8 249.7,564.7 250.2,564.7 250.7,564.6 251.2,564.6 251.8,564.8 252.3,565.4 252.8,564.8 253.3,565.1 253.8,565 254.4,565 254.9,565.2 255.4,565.3 255.9,564.4 256.4,564.9 256.9,564.4 257.5,565.2 258,565 258.5,565.1 259,564.5 259.5,564.9 260.1,565.1 260.6,564.7 261.1,565.2 261.6,565.5 262.1,565.3 262.7,565.5 263.2,565.6 263.7,565.6 264.2,566 264.7,565.7 265.2,566.1 265.8,565.9 266.3,566 266.8,566.3 267.3,566.6 267.8,566.7 268.4,566.9 268.9,566.9 269.4,566.8 269.9,566.8 270.4,566.9 270.9,567.3 271.5,567.1 272,568 272.5,567.2 273,567.4 273.5,567.9 274.1,567.7 274.6,567.6 275.1,567.8 275.6,567.9 276.1,567.9 276.6,567.7 277.2,567.7 277.7,567.9 278.2,567.4 278.7,567.3 279.2,567.4 279.8,567.2 280.3,566.8 280.8,567.1 281.3,567.3 281.8,567.4 282.4,567 282.9,566.8 283.4,567.2 283.9,566.8 284.4,567.2 284.9,567.4 285.5,567.1 286,566.5 286.5,567 287,567.4 287.5,567 288.1,567 288.6,567.1 289.1,567.7 289.6,567.2 290.1,567.7 290.6,567.1 291.2,568.3 291.7,568.2 292.2,568.2 292.7,568.6 293.2,568.4 293.8,568.8 294.3,569 294.8,568.7 295.3,569.4 295.8,568.8 296.3,569.2 296.9,569.7 297.4,569.1 297.9,569 298.4,569.5 298.9,569 299.5,569.3 300,569.3 300.5,569.1 301,569.6 301.5,569.1 302,569.3 302.6,569.1 303.1,569 303.6,569.3 304.1,568.8 304.6,568.9 305.2,568.5 305.7,568.4 306.2,568.6 306.7,568.4 307.2,567.6 307.8,567.4 307.8,571.1"/></defs>
<use href="#w22" stroke-width="0.92" stroke-dasharray="0 29.30 654.98 9999"/>
<use href="#w22" fill="none" stroke-width="1.05" stroke-dasharray="0 683.98 114.28 9999"/>
<defs><path id="w23" d="M46.4,573.5L46.7,544.5 48.1,544.4 49.5,544.2 50.9,544 52.3,543.5 53.7,543 55,542.4 56.4,541.8 57.8,540.9 59.2,540 60.6,538.9 61.9,537.7 63.3,536.3 64.7,534.5 66.1,532 67.5,529.5 68.9,527.7 70.2,528.4 71.6,530.3 73,532.5 74.4,534.4 75.8,535.6 77.2,536.5 78.5,537.3 79.9,538.2 81.3,538.6 82.7,538.5 84.1,537.9 85.5,536.2 86.8,534.5 88.2,532.6 89.6,530.4 91,527.7 92.4,525.2 93.7,524.1 95.1,524.1 96.5,525.3 97.9,528.3 99.3,531.5 100.7,533.9 102,535.5 103.4,536.7 104.8,537.5 106.2,537.2 107.6,536.6 109,536.1 110.3,535.3 111.7,533.7 112.4,532.8 112.6,532.5 112.8,532.2 113,531.9 113.2,531.6 113.4,531.2 113.7,530.9 113.9,530.5 114.1,530.1 114.3,529.6 114.5,529.1 114.7,528.6 114.9,528 115.1,527.4 115.3,526.8 115.5,526.1 115.7,525.4 115.9,524.7 116.1,524 116.3,523.2 116.6,522.3 116.8,521.4 117,520.3 117.2,518.9 117.4,517.4 117.6,515.8 117.8,514 118,512 118.2,509.7 118.4,507.3 118.6,504.9 118.8,502.6 119,500.2 119.3,497.2 119.5,493.5 119.7,489 119.9,483.3 120.1,475.5 120.3,463.8 120.5,452.7 120.7,444.3 120.9,436.2 121.1,427.5 121.3,427.8 121.5,437.9 121.7,447.2 121.9,458.1 122.2,472 122.4,484.6 122.6,494.6 122.8,501.1 123,505.5 123.2,509.1 123.4,512.2 123.6,514.4 123.8,515.9 124,517.1 124.2,518.1 124.4,519 124.6,519.9 124.8,520.7 125.1,521.5 125.3,522.2 125.5,522.9 125.7,523.6 125.9,524.2 126.1,524.7 126.3,525.2 126.5,525.7 126.7,526.2 126.9,526.6 127.1,527 127.3,527.4 127.5,527.8 127.8,528.1 128,528.5 128.2,528.9 128.4,529.2 128.6,529.5 128.8,529.9 129,530.2 129.2,530.6 129.4,530.9 129.6,531.2 129.8,531.5 130,531.7 130.2,532 130.4,532.2 130.7,532.4 130.9,532.6 131.1,532.7 131.3,532.9 131.4,533 132.8,533.8 134.2,534.8 135.6,535.6 136.9,535.9 138.3,536.2 139.7,536.3 141.1,536.1 142.5,535.6 143.9,534.8 145.2,534.1 146.6,533.1 148,531.6 149.4,529.8 150.8,527.7 152.2,525.4 153.5,523.4 154.9,524.3 156.3,528.2 157.7,531.8 159.1,534.6 160.4,537 161.8,538.9 163.2,540.2 164.6,541.2 166,542 167.4,542.5 168.7,542.3 170.1,541.6 171.2,540.8 171.4,540.6 171.6,540.4 171.8,540.2 172,539.9 172.2,539.6 172.4,539.3 172.6,539 172.8,538.7 173,538.4 173.2,538 173.4,537.6 173.6,537.2 173.9,536.7 174.1,536.2 174.3,535.7 174.5,535.1 174.7,534.5 174.9,533.9 175.1,533.2 175.3,532.6 175.5,531.8 175.7,531 175.9,530.2 176.1,529.3 176.3,528.3 176.6,527.3 176.8,526.3 177,525.2 177.2,524.1 177.4,522.9 177.6,521.6 177.8,520.1 178,518.4 178.2,516.3 178.4,513.4 178.6,509.3 178.8,503 179,493.5 179.2,481.3 179.5,464.2 179.7,445.7 179.9,430.4 180.1,420.4 180.3,413.2 180.5,412.7 180.7,416.6 180.9,422.1 181.1,429.3 181.3,441 181.5,452.3 181.7,463.1 181.9,473.5 182.1,483.5 182.4,494.2 182.6,503 182.8,507.8 183,511.2 183.2,513.8 183.4,515.8 183.6,517.6 183.8,519.2 184,520.6 184.2,521.8 184.4,523 184.6,524.1 184.8,525.2 185.1,526.3 185.3,527.4 185.5,528.5 185.7,529.6 185.9,530.7 186.1,531.7 186.3,532.7 186.5,533.7 186.7,534.6 186.9,535.5 187.1,536.3 187.3,537 187.5,537.7 187.7,538.4 188,539 188.2,539.6 188.4,540.2 188.6,540.8 188.8,541.3 189,541.8 189.2,542.3 189.4,542.7 189.6,543.1 189.8,543.5 190,543.8 190.2,544.1 191.5,546 192.9,547.4 194.3,548.5 195.7,549.3 197.1,549.9 198.5,550.1 199.8,549.8 201.2,549.2 202.6,548.3 204,547.4 205.4,546.6 206.8,546.2 208.1,546.2 209.2,546.5 209.7,546.8 210.2,547.2 210.7,547.7 211.2,548.2 211.8,548.8 212.3,549.2 212.8,549.7 213.3,550.1 213.8,550.4 214.4,550.8 214.9,551.2 215.4,551.6 215.9,551.9 216.4,552.4 217,552.9 217.5,553.1 218,553.3 218.5,553.8 219,554.2 219.5,554.8 220.1,555.4 220.6,555.8 221.1,556.5 221.6,556.8 222.1,557.4 222.7,557.4 223.2,558 223.7,558.5 224.2,558.7 224.7,558.6 225.2,559.1 225.8,559.2 226.3,559.2 226.8,559.5 227.3,558.9 227.8,559.5 228.4,559.9 228.9,560 229.4,559.3 229.9,560 230.4,560.4 230.9,560.7 231.5,560.2 232,559.7 232.5,560.4 233,560.8 233.5,560.6 234.1,561.2 234.6,561.4 235.1,561.5 235.6,561.8 236.1,562.3 236.7,562.1 237.2,561.7 237.7,563 238.2,563.1 238.7,562.9 239.2,563.4 239.8,563.6 240.3,563.8 240.8,563.9 241.3,564.3 241.8,564.4 242.4,564.6 242.9,565.2 243.4,565 243.9,565.4 244.4,565.9 244.9,565.3 245.5,566.1 246,565.8 246.5,566.3 247,566 247.5,567 248.1,566.8 248.6,567 249.1,567.3 249.6,566.6 250.1,567.8 250.6,567.6 251.2,567.5 251.7,567 252.2,567.4 252.7,567.6 253.2,567.3 253.8,567.5 254.3,567.4 254.8,566.6 255.3,567.4 255.8,567.2 256.3,567.1 256.9,567.7 257.4,567.2 257.9,567.6 258.4,567.9 258.9,567.2 259.5,567.4 260,567.3 260.5,568.1 261,567.1 261.5,567.4 262.1,568.2 262.6,567.9 263.1,568.3 263.6,568.1 264.1,568.4 264.6,568.6 265.2,568.7 265.7,569.1 266.2,569.3 266.7,569.3 267.2,569.2 267.8,569.5 268.3,569.5 268.8,570 269.3,569.7 269.8,569.7 270.3,569.9 270.9,570.2 271.4,569.6 271.9,569.9 272.4,570.3 272.9,569.8 273.5,570.1 274,569.8 274.5,570 275,570.4 275.5,570 276,569.2 276.6,569.4 277.1,569.7 277.6,569.8 278.1,570 278.6,569.7 279.2,569.3 279.7,569.1 280.2,568.9 280.7,569.8 281.2,569.5 281.8,569.2 282.3,569.5 282.8,569 283.3,569.5 283.8,569.1 284.3,569.5 284.9,568.9 285.4,569.4 285.9,569.6 286.4,569.4 286.9,569.8 287.5,568.8 288,569.7 288.5,570 289,570.6 289.5,570 290,570.1 290.6,570.8 291.1,570.9 291.6,570.6 292.1,570.6 292.6,571.6 293.2,571.6 293.7,571.2 294.2,571 294.7,572 295.2,571.6 295.7,571.2 296.3,571.8 296.8,571.5 297.3,571.5 297.8,571.7 298.3,572 298.9,571.5 299.4,571.5 299.9,571.2 300.4,571.8 300.9,571.1 301.5,570.6 302,571.1 302.5,571.4 303,570.8 303.5,571.2 304,570.6 304.6,570.3 305.1,570.2 305.6,569.9 305.6,573.5"/></defs>
<use href="#w23" stroke-width="0.92" stroke-dasharray="0 29.30 654.02 9999"/>
<use href="#w23" fill="none" stroke-width="1.05" stroke-dasharray="0 683.02 121.63 9999"/>
<defs><path id="w24" d="M44.1,575.9L44.6,547 46,546.9 47.4,546.7 48.7,546.4 50.1,546 51.5,545.5 52.9,544.9 54.3,544.2 55.6,543.4 57,542.4 58.4,541.3 59.8,540.1 61.2,538.7 62.6,537 63.9,534.4 65.3,531.9 66.7,530.2 68.1,530.9 69.5,532.8 70.9,534.9 72.2,536.8 73.6,538.1 75,539 76.4,539.8 77.8,540.7 79.1,541.1 80.5,540.9 81.9,540.3 83.3,538.7 84.7,536.9 86.1,535 87.4,532.8 88.8,530.1 90.2,527.6 91.6,526.5 93,526.5 94.4,527.7 95.7,530.7 97.1,533.9 98.5,536.3 99.9,537.9 101.3,539.1 102.7,540 104,539.7 105.4,539 106.8,538.5 108.2,537.7 109.6,536.2 110.3,535.2 110.5,535 110.7,534.7 110.9,534.3 111.1,534 111.3,533.7 111.5,533.3 111.7,532.9 111.9,532.5 112.1,532.1 112.3,531.6 112.5,531 112.7,530.5 112.9,529.8 113.2,529.2 113.4,528.5 113.6,527.9 113.8,527.2 114,526.4 114.2,525.6 114.4,524.8 114.6,523.8 114.8,522.7 115,521.4 115.2,519.9 115.4,518.3 115.6,516.5 115.9,514.5 116.1,512.2 116.3,509.8 116.5,507.5 116.7,505.2 116.9,502.7 117.1,499.7 117.3,496.1 117.5,491.6 117.7,485.9 117.9,478.2 118.1,466.4 118.3,455.4 118.5,447 118.8,439 119,430.3 119.2,430.6 119.4,440.6 119.6,450 119.8,460.7 120,474.7 120.2,487.2 120.4,497.2 120.6,503.6 120.8,508 121,511.6 121.2,514.7 121.5,516.8 121.7,518.4 121.9,519.6 122.1,520.6 122.3,521.5 122.5,522.4 122.7,523.2 122.9,524 123.1,524.7 123.3,525.4 123.5,526 123.7,526.6 123.9,527.2 124.1,527.7 124.4,528.2 124.6,528.6 124.8,529 125,529.5 125.2,529.9 125.4,530.2 125.6,530.6 125.8,530.9 126,531.3 126.2,531.6 126.4,532 126.6,532.3 126.8,532.7 127,533 127.3,533.3 127.5,533.6 127.7,533.9 127.9,534.2 128.1,534.4 128.3,534.7 128.5,534.8 128.7,535 128.9,535.2 129.1,535.3 129.3,535.4 130.6,536.3 132,537.2 133.4,538 134.8,538.4 136.2,538.6 137.6,538.8 138.9,538.6 140.3,538 141.7,537.3 143.1,536.5 144.5,535.5 145.9,534.1 147.2,532.3 148.6,530.2 150,527.8 151.4,525.8 152.8,526.7 154.1,530.6 155.5,534.3 156.9,537.1 158.3,539.4 159.7,541.4 161.1,542.7 162.4,543.6 163.8,544.4 165.2,544.9 166.6,544.7 168,544 169,543.3 169.2,543 169.4,542.8 169.6,542.6 169.8,542.3 170,542.1 170.2,541.8 170.5,541.5 170.7,541.2 170.9,540.8 171.1,540.5 171.3,540.1 171.5,539.6 171.7,539.1 171.9,538.6 172.1,538.1 172.3,537.5 172.5,536.9 172.7,536.3 172.9,535.7 173.2,535 173.4,534.2 173.6,533.4 173.8,532.6 174,531.7 174.2,530.7 174.4,529.7 174.6,528.7 174.8,527.6 175,526.5 175.2,525.3 175.4,524 175.6,522.5 175.8,520.8 176.1,518.7 176.3,515.8 176.5,511.7 176.7,505.5 176.9,495.9 177.1,483.6 177.3,466.6 177.5,448.1 177.7,432.7 177.9,422.7 178.1,415.5 178.3,415.1 178.5,418.9 178.8,424.5 179,431.7 179.2,443.4 179.4,454.7 179.6,465.4 179.8,475.9 180,485.9 180.2,496.6 180.4,505.4 180.6,510.2 180.8,513.6 181,516.2 181.2,518.3 181.4,520 181.7,521.6 181.9,523 182.1,524.3 182.3,525.4 182.5,526.6 182.7,527.6 182.9,528.7 183.1,529.8 183.3,530.9 183.5,532 183.7,533.1 183.9,534.1 184.1,535.1 184.3,536.1 184.6,537 184.8,537.9 185,538.7 185.2,539.4 185.4,540.1 185.6,540.8 185.8,541.5 186,542.1 186.2,542.7 186.4,543.2 186.6,543.7 186.8,544.2 187,544.7 187.3,545.1 187.5,545.5 187.7,545.9 187.9,546.3 188,546.5 189.4,548.5 190.8,549.9 192.2,550.9 193.5,551.7 194.9,552.4 196.3,552.6 197.7,552.3 199.1,551.6 200.5,550.7 201.8,549.8 203.2,549.1 204.6,548.6 206,548.5 207,548.9 207.5,549.2 208.1,549.6 208.6,550 209.1,550.5 209.6,551 210.1,551.5 210.7,551.9 211.2,552.2 211.7,552.6 212.2,552.9 212.7,553.3 213.2,553.8 213.8,554.1 214.3,554.4 214.8,554.7 215.3,555.2 215.8,555.7 216.4,556.1 216.9,556.5 217.4,556.7 217.9,557.6 218.4,558 218.9,558.4 219.5,558.9 220,559.3 220.5,559.7 221,560 221.5,560.3 222.1,560.9 222.6,560.7 223.1,561.2 223.6,561.5 224.1,561.6 224.6,561.4 225.2,561.4 225.7,562.1 226.2,561.8 226.7,562 227.2,562.4 227.8,562.3 228.3,562.2 228.8,562.1 229.3,562.6 229.8,562.9 230.3,563 230.9,563.2 231.4,562.9 231.9,563.6 232.4,563.6 232.9,564 233.5,563.9 234,564 234.5,564.1 235,564.2 235.5,564.9 236.1,565.3 236.6,565.1 237.1,565.5 237.6,565.8 238.1,566.2 238.6,566.3 239.2,566.9 239.7,567 240.2,567.1 240.7,567.2 241.2,567.4 241.8,567.8 242.3,567.8 242.8,567.9 243.3,567.9 243.8,568.1 244.3,568.6 244.9,568.4 245.4,568.2 245.9,569.4 246.4,569 246.9,569.5 247.5,569.9 248,569.5 248.5,569.4 249,570.1 249.5,569.7 250,569.4 250.6,569.8 251.1,569.5 251.6,569.6 252.1,570 252.6,569.3 253.2,569.6 253.7,569.2 254.2,569.9 254.7,569.9 255.2,569.7 255.8,569 256.3,569.5 256.8,569.5 257.3,569.9 257.8,570.2 258.3,570.4 258.9,570.3 259.4,570 259.9,569.7 260.4,570.8 260.9,571.1 261.5,570.4 262,570.5 262.5,570.9 263,571.4 263.5,571 264,571.7 264.6,570.8 265.1,571.8 265.6,572 266.1,572.1 266.6,571.3 267.2,571.9 267.7,572.1 268.2,572.6 268.7,572.2 269.2,572.4 269.7,572 270.3,572.6 270.8,572 271.3,572.6 271.8,572.6 272.3,572.3 272.9,572.2 273.4,572.7 273.9,572.6 274.4,572.4 274.9,571.9 275.5,571.7 276,571.7 276.5,571.8 277,571.7 277.5,572 278,571.7 278.6,571.8 279.1,571.8 279.6,571.1 280.1,571.6 280.6,571.3 281.2,571.9 281.7,571.7 282.2,571.8 282.7,571.8 283.2,571.8 283.7,571.7 284.3,571.9 284.8,572.1 285.3,571.6 285.8,572.4 286.3,572 286.9,572.6 287.4,572.9 287.9,572.4 288.4,573.3 288.9,573.3 289.4,573.1 290,573.5 290.5,573.9 291,573.6 291.5,573.4 292,573.7 292.6,573.9 293.1,573.9 293.6,574.3 294.1,573.9 294.6,574.2 295.1,574.6 295.7,574.4 296.2,574.1 296.7,574 297.2,574 297.7,574.2 298.3,573.8 298.8,574 299.3,574.2 299.8,573.7 300.3,573 300.9,573 301.4,573.1 301.9,572.7 302.4,572.7 302.9,572.9 303.3,572.4 303.3,575.9"/></defs>
<use href="#w24" stroke-width="0.92" stroke-dasharray="0 29.40 653.54 9999"/>
<use href="#w24" fill="none" stroke-width="1.05" stroke-dasharray="0 682.64 115.85 9999"/>
<defs><path id="w25" d="M41.9,578.4L42.4,549.4 43.8,549.3 45.2,549.1 46.6,548.8 48,548.4 49.3,547.9 50.7,547.3 52.1,546.6 53.5,545.8 54.9,544.8 56.3,543.8 57.6,542.6 59,541.1 60.4,539.4 61.8,536.8 63.2,534.4 64.6,532.6 65.9,533.3 67.3,535.2 68.7,537.3 70.1,539.3 71.5,540.5 72.8,541.4 74.2,542.2 75.6,543.1 77,543.5 78.4,543.3 79.8,542.7 81.1,541.1 82.5,539.4 83.9,537.5 85.3,535.2 86.7,532.5 88.1,530.1 89.4,528.9 90.8,529 92.2,530.1 93.6,533.2 95,536.3 96.3,538.8 97.7,540.4 99.1,541.5 100.5,542.4 101.9,542.1 103.3,541.5 104.6,541 106,540.1 107.4,538.6 108.1,537.7 108.3,537.4 108.5,537.1 108.7,536.8 108.9,536.4 109.1,536.1 109.3,535.7 109.6,535.3 109.8,534.9 110,534.5 110.2,534 110.4,533.5 110.6,532.9 110.8,532.3 111,531.6 111.2,531 111.4,530.3 111.6,529.6 111.8,528.9 112,528.1 112.2,527.2 112.5,526.3 112.7,525.2 112.9,523.9 113.1,522.4 113.3,520.7 113.5,518.9 113.7,516.9 113.9,514.6 114.1,512.3 114.3,509.9 114.5,507.6 114.7,505.2 114.9,502.2 115.1,498.5 115.4,494.1 115.6,488.4 115.8,480.6 116,468.9 116.2,457.9 116.4,449.5 116.6,441.5 116.8,432.8 117,433.1 117.2,443.1 117.4,452.5 117.6,463.2 117.8,477.1 118.1,489.7 118.3,499.6 118.5,506 118.7,510.4 118.9,514 119.1,517.1 119.3,519.3 119.5,520.8 119.7,522 119.9,523.1 120.1,524 120.3,524.8 120.5,525.6 120.7,526.4 121,527.1 121.2,527.8 121.4,528.5 121.6,529.1 121.8,529.6 122,530.1 122.2,530.6 122.4,531.1 122.6,531.5 122.8,531.9 123,532.3 123.2,532.7 123.4,533 123.7,533.4 123.9,533.7 124.1,534.1 124.3,534.4 124.5,534.8 124.7,535.1 124.9,535.4 125.1,535.7 125.3,536.1 125.5,536.3 125.7,536.6 125.9,536.9 126.1,537.1 126.3,537.3 126.6,537.4 126.8,537.6 127,537.8 127.1,537.8 128.5,538.7 129.9,539.7 131.3,540.5 132.6,540.8 134,541.1 135.4,541.2 136.8,541 138.2,540.4 139.5,539.7 140.9,538.9 142.3,538 143.7,536.5 145.1,534.7 146.5,532.6 147.8,530.3 149.2,528.3 150.6,529.2 152,533.1 153.4,536.7 154.8,539.5 156.1,541.9 157.5,543.8 158.9,545.1 160.3,546.1 161.7,546.8 163,547.3 164.4,547.1 165.8,546.4 166.9,545.7 167.1,545.5 167.3,545.3 167.5,545 167.7,544.8 167.9,544.5 168.1,544.2 168.3,543.9 168.5,543.6 168.7,543.3 168.9,542.9 169.1,542.5 169.3,542.1 169.5,541.6 169.8,541.1 170,540.5 170.2,539.9 170.4,539.3 170.6,538.7 170.8,538.1 171,537.4 171.2,536.7 171.4,535.9 171.6,535 171.8,534.1 172,533.2 172.2,532.2 172.4,531.1 172.7,530 172.9,528.9 173.1,527.8 173.3,526.5 173.5,525 173.7,523.3 173.9,521.2 174.1,518.3 174.3,514.2 174.5,507.9 174.7,498.3 174.9,486.2 175.1,469.2 175.4,450.7 175.6,435.3 175.8,425.3 176,418.2 176.2,417.7 176.4,421.5 176.6,427.1 176.8,434.3 177,446 177.2,457.2 177.4,468 177.6,478.4 177.8,488.4 178,499.1 178.3,507.8 178.5,512.7 178.7,516.1 178.9,518.7 179.1,520.7 179.3,522.5 179.5,524 179.7,525.4 179.9,526.7 180.1,527.9 180.3,529 180.5,530.1 180.7,531.2 181,532.3 181.2,533.4 181.4,534.5 181.6,535.5 181.8,536.6 182,537.6 182.2,538.5 182.4,539.5 182.6,540.3 182.8,541.1 183,541.9 183.2,542.6 183.4,543.2 183.6,543.9 183.9,544.5 184.1,545.1 184.3,545.6 184.5,546.2 184.7,546.7 184.9,547.1 185.1,547.5 185.3,547.9 185.5,548.3 185.7,548.7 185.9,548.9 187.2,550.9 188.6,552.3 190,553.4 191.4,554.1 192.8,554.8 194.2,555 195.5,554.7 196.9,554 198.3,553.2 199.7,552.3 201.1,551.5 202.4,551 203.8,550.9 204.9,551.2 205.4,551.5 205.9,551.9 206.4,552.3 206.9,552.8 207.5,553.3 208,553.7 208.5,554.1 209,554.5 209.5,554.8 210.1,555.1 210.6,555.5 211.1,555.7 211.6,556.2 212.1,556.6 212.6,556.9 213.2,557 213.7,557.6 214.2,558.2 214.7,558.3 215.2,559.1 215.8,559.5 216.3,560.1 216.8,560.4 217.3,560.9 217.8,561.6 218.3,561.9 218.9,562.6 219.4,562.3 219.9,563.2 220.4,563.4 220.9,563.6 221.5,563.8 222,563.7 222.5,564 223,563.8 223.5,564 224,563.9 224.6,564 225.1,564.7 225.6,564.6 226.1,565 226.6,564.9 227.2,564.8 227.7,565 228.2,565.4 228.7,565.3 229.2,565.5 229.8,565.6 230.3,566.6 230.8,566.4 231.3,566 231.8,567 232.3,566.9 232.9,567.1 233.4,567.4 233.9,567.6 234.4,567.6 234.9,568 235.5,568.4 236,568.3 236.5,568.5 237,568.7 237.5,569.7 238,569 238.6,569.5 239.1,569.8 239.6,569.7 240.1,569.9 240.6,570 241.2,570.6 241.7,571.1 242.2,570.3 242.7,570.7 243.2,571.2 243.7,571.4 244.3,571.5 244.8,571.4 245.3,572.2 245.8,572.2 246.3,571.3 246.9,572.4 247.4,571.9 247.9,571.9 248.4,571.9 248.9,571.6 249.4,572 250,571.6 250.5,571.9 251,572 251.5,572 252,572 252.6,571.6 253.1,571.6 253.6,571.9 254.1,572.1 254.6,572.2 255.2,572.1 255.7,571.8 256.2,572 256.7,572.4 257.2,572 257.7,573.1 258.3,573.3 258.8,573.3 259.3,572.8 259.8,573.5 260.3,573.5 260.9,573.5 261.4,573.8 261.9,573.5 262.4,573.8 262.9,574.1 263.4,573.9 264,574.8 264.5,574 265,574.6 265.5,574.8 266,574.6 266.6,574.5 267.1,574.7 267.6,574.6 268.1,574.8 268.6,574.9 269.1,574.3 269.7,574.4 270.2,575.1 270.7,574.4 271.2,574.8 271.7,574.7 272.3,574.3 272.8,574.1 273.3,573.9 273.8,574 274.3,574.4 274.9,574.4 275.4,574.4 275.9,574.2 276.4,573.6 276.9,573.9 277.4,573.9 278,574.8 278.5,573.9 279,574.1 279.5,574 280,573.9 280.6,573.8 281.1,574.3 281.6,574.4 282.1,574.2 282.6,574.5 283.1,574 283.7,574.7 284.2,575.2 284.7,574.8 285.2,575.1 285.7,575.2 286.3,575.3 286.8,575.1 287.3,575.2 287.8,575.8 288.3,576.4 288.8,576.6 289.4,575.6 289.9,576.3 290.4,576.2 290.9,576.6 291.4,576.4 292,576.3 292.5,576.7 293,576.6 293.5,576.4 294,576.8 294.6,576.7 295.1,576.2 295.6,576.4 296.1,576.3 296.6,576.6 297.1,575.9 297.7,575.8 298.2,575.2 298.7,575.6 299.2,575.6 299.7,575.1 300.3,575.2 300.8,574.6 301.1,574.9 301.1,578.4"/></defs>
<use href="#w25" stroke-width="0.92" stroke-dasharray="0 29.50 652.76 9999"/>
<use href="#w25" fill="none" stroke-width="1.05" stroke-dasharray="0 681.96 117.05 9999"/>
<defs><path id="w26" d="M39.7,580.8L40.3,551.8 41.7,551.7 43,551.5 44.4,551.2 45.8,550.8 47.2,550.3 48.6,549.7 50,549.1 51.3,548.2 52.7,547.3 54.1,546.2 55.5,545 56.9,543.5 58.3,541.8 59.6,539.3 61,536.8 62.4,535 63.8,535.7 65.2,537.6 66.5,539.7 67.9,541.7 69.3,542.9 70.7,543.8 72.1,544.6 73.5,545.5 74.8,545.9 76.2,545.8 77.6,545.2 79,543.5 80.4,541.8 81.8,539.9 83.1,537.7 84.5,535 85.9,532.5 87.3,531.4 88.7,531.4 90,532.5 91.4,535.6 92.8,538.8 94.2,541.2 95.6,542.8 97,544 98.3,544.8 99.7,544.5 101.1,543.9 102.5,543.4 103.9,542.6 105.3,541 105.9,540.1 106.2,539.8 106.4,539.5 106.6,539.2 106.8,538.9 107,538.5 107.2,538.2 107.4,537.8 107.6,537.4 107.8,536.9 108,536.4 108.2,535.9 108.4,535.3 108.6,534.7 108.8,534.1 109.1,533.4 109.3,532.7 109.5,532.1 109.7,531.3 109.9,530.5 110.1,529.7 110.3,528.7 110.5,527.6 110.7,526.3 110.9,524.8 111.1,523.2 111.3,521.4 111.5,519.4 111.8,517.1 112,514.7 112.2,512.4 112.4,510.1 112.6,507.6 112.8,504.7 113,501 113.2,496.6 113.4,490.9 113.6,483.2 113.8,471.5 114,460.5 114.2,452.1 114.4,444.1 114.7,435.4 114.9,435.7 115.1,445.7 115.3,455.1 115.5,465.8 115.7,479.7 115.9,492.2 116.1,502.1 116.3,508.5 116.5,512.9 116.7,516.5 116.9,519.6 117.1,521.8 117.3,523.3 117.6,524.5 117.8,525.5 118,526.4 118.2,527.3 118.4,528.1 118.6,528.9 118.8,529.6 119,530.3 119.2,530.9 119.4,531.5 119.6,532.1 119.8,532.6 120,533 120.3,533.5 120.5,533.9 120.7,534.3 120.9,534.7 121.1,535.1 121.3,535.5 121.5,535.8 121.7,536.2 121.9,536.5 122.1,536.9 122.3,537.2 122.5,537.5 122.7,537.9 122.9,538.2 123.2,538.5 123.4,538.8 123.6,539 123.8,539.3 124,539.5 124.2,539.7 124.4,539.9 124.6,540 124.8,540.2 125,540.3 126.3,541.1 127.7,542.1 129.1,542.9 130.5,543.2 131.9,543.5 133.2,543.6 134.6,543.4 136,542.8 137.4,542.1 138.8,541.4 140.2,540.4 141.5,538.9 142.9,537.1 144.3,535 145.7,532.7 147.1,530.7 148.5,531.6 149.8,535.5 151.2,539.1 152.6,541.9 154,544.3 155.4,546.2 156.7,547.5 158.1,548.5 159.5,549.3 160.9,549.8 162.3,549.6 163.7,548.9 164.7,548.1 164.9,547.9 165.1,547.7 165.3,547.4 165.5,547.2 165.7,546.9 165.9,546.6 166.1,546.3 166.4,546 166.6,545.7 166.8,545.3 167,544.9 167.2,544.5 167.4,544 167.6,543.5 167.8,542.9 168,542.4 168.2,541.8 168.4,541.2 168.6,540.5 168.8,539.8 169.1,539.1 169.3,538.3 169.5,537.4 169.7,536.5 169.9,535.6 170.1,534.6 170.3,533.5 170.5,532.4 170.7,531.3 170.9,530.1 171.1,528.8 171.3,527.4 171.5,525.6 171.7,523.5 172,520.6 172.2,516.5 172.4,510.2 172.6,500.6 172.8,488.4 173,471.3 173.2,452.7 173.4,437.3 173.6,427.2 173.8,420 174,419.6 174.2,423.4 174.4,429 174.7,436.2 174.9,448 175.1,459.3 175.3,470.1 175.5,480.6 175.7,490.7 175.9,501.4 176.1,510.1 176.3,515 176.5,518.4 176.7,521 176.9,523.1 177.1,524.8 177.3,526.4 177.6,527.8 177.8,529.1 178,530.3 178.2,531.4 178.4,532.5 178.6,533.6 178.8,534.7 179,535.8 179.2,536.9 179.4,537.9 179.6,539 179.8,540 180,541 180.2,541.9 180.5,542.8 180.7,543.6 180.9,544.3 181.1,545 181.3,545.7 181.5,546.3 181.7,546.9 181.9,547.5 182.1,548.1 182.3,548.6 182.5,549.1 182.7,549.5 182.9,550 183.2,550.4 183.4,550.8 183.6,551.1 183.7,551.4 185.1,553.3 186.5,554.7 187.9,555.8 189.2,556.6 190.6,557.2 192,557.4 193.4,557.1 194.8,556.5 196.1,555.6 197.5,554.7 198.9,553.9 200.3,553.4 201.7,553.3 202.7,553.5 203.2,553.8 203.7,554.2 204.3,554.6 204.8,555.1 205.3,555.5 205.8,555.9 206.3,556.3 206.9,556.7 207.4,556.9 207.9,557.3 208.4,557.6 208.9,558 209.5,558.3 210,558.6 210.5,559.1 211,559.5 211.5,559.6 212,560.3 212.6,560.6 213.1,561.2 213.6,561.7 214.1,561.9 214.6,562.7 215.2,562.8 215.7,563.4 216.2,563.6 216.7,564.4 217.2,564.8 217.7,565.1 218.3,565.2 218.8,565.1 219.3,566 219.8,565.3 220.3,565.9 220.9,566.3 221.4,566.5 221.9,566.2 222.4,566.4 222.9,566.5 223.4,566.8 224,566.6 224.5,567 225,567.4 225.5,567.3 226,567.5 226.6,567.6 227.1,567.5 227.6,568 228.1,568.6 228.6,568.8 229.2,568.9 229.7,569.2 230.2,569.2 230.7,569.4 231.2,569 231.7,569.5 232.3,569.6 232.8,570.2 233.3,570.6 233.8,571.2 234.3,571.1 234.9,571 235.4,571.7 235.9,571.3 236.4,571.6 236.9,572 237.4,572.2 238,572 238.5,572.6 239,572.8 239.5,572.9 240,573.4 240.6,573.3 241.1,573.7 241.6,573.2 242.1,573.8 242.6,574.4 243.1,573.8 243.7,574.4 244.2,574.5 244.7,574.5 245.2,574.7 245.7,574.4 246.3,574.1 246.8,574.7 247.3,574.3 247.8,574.4 248.3,574.1 248.9,574.2 249.4,574.9 249.9,574.1 250.4,574 250.9,574.5 251.4,574.4 252,574.4 252.5,574.4 253,574.6 253.5,574 254,574.7 254.6,574.8 255.1,574.8 255.6,575 256.1,574.6 256.6,575 257.1,574.9 257.7,575.7 258.2,575.4 258.7,575.8 259.2,575.8 259.7,576.6 260.3,576.4 260.8,576.4 261.3,576.6 261.8,576.5 262.3,576.6 262.8,576.6 263.4,576.8 263.9,577.3 264.4,576.8 264.9,577.3 265.4,576.8 266,577.4 266.5,576.8 267,577.8 267.5,576.6 268,577 268.5,576.8 269.1,577 269.6,577 270.1,577 270.6,576.5 271.1,576.8 271.7,576.7 272.2,576.8 272.7,577 273.2,576.8 273.7,576.5 274.3,576.7 274.8,576 275.3,576.5 275.8,576.3 276.3,576.2 276.8,576.6 277.4,576.2 277.9,576.4 278.4,576.4 278.9,576.5 279.4,576.5 280,576.4 280.5,576.6 281,576.8 281.5,576.3 282,577 282.5,577.1 283.1,577.3 283.6,577.4 284.1,578 284.6,577.4 285.1,577.4 285.7,578.3 286.2,577.9 286.7,578.2 287.2,578.5 287.7,579 288.2,579.1 288.8,578.8 289.3,578.4 289.8,578.6 290.3,578.5 290.8,579.2 291.4,579.1 291.9,579 292.4,578.4 292.9,579 293.4,578.9 294,578.4 294.5,578.5 295,578.7 295.5,578 296,578.7 296.5,578.1 297.1,577.9 297.6,577.9 298.1,577.6 298.6,577.3 298.9,577.6 298.9,580.8"/></defs>
<use href="#w26" stroke-width="0.92" stroke-dasharray="0 29.60 653.44 9999"/>
<use href="#w26" fill="none" stroke-width="1.05" stroke-dasharray="0 682.74 116.59 9999"/>
<defs><path id="w27" d="M37.5,583.2L38.1,554.3 39.5,554.1 40.9,553.9 42.3,553.7 43.7,553.3 45,552.7 46.4,552.2 47.8,551.5 49.2,550.7 50.6,549.7 52,548.6 53.3,547.4 54.7,546 56.1,544.2 57.5,541.7 58.9,539.2 60.2,537.5 61.6,538.2 63,540.1 64.4,542.2 65.8,544.1 67.2,545.3 68.5,546.2 69.9,547.1 71.3,547.9 72.7,548.4 74.1,548.2 75.5,547.6 76.8,546 78.2,544.2 79.6,542.3 81,540.1 82.4,537.4 83.7,534.9 85.1,533.8 86.5,533.8 87.9,535 89.3,538 90.7,541.2 92,543.6 93.4,545.2 94.8,546.4 96.2,547.3 97.6,546.9 99,546.3 100.3,545.8 101.7,545 103.1,543.4 103.8,542.5 104,542.2 104.2,542 104.4,541.6 104.6,541.3 104.8,541 105,540.6 105.2,540.2 105.4,539.8 105.7,539.4 105.9,538.9 106.1,538.3 106.3,537.8 106.5,537.1 106.7,536.5 106.9,535.9 107.1,535.2 107.3,534.5 107.5,533.7 107.7,533 107.9,532.1 108.1,531.1 108.4,530.1 108.6,528.7 108.8,527.2 109,525.6 109.2,523.8 109.4,521.8 109.6,519.5 109.8,517.2 110,514.8 110.2,512.5 110.4,510.1 110.6,507.1 110.8,503.5 111,499 111.3,493.3 111.5,485.6 111.7,473.9 111.9,462.9 112.1,454.5 112.3,446.5 112.5,437.8 112.7,438.1 112.9,448.1 113.1,457.5 113.3,468.2 113.5,482.1 113.7,494.6 114,504.5 114.2,511 114.4,515.3 114.6,518.9 114.8,522 115,524.2 115.2,525.7 115.4,526.9 115.6,527.9 115.8,528.8 116,529.7 116.2,530.5 116.4,531.3 116.6,532 116.9,532.7 117.1,533.3 117.3,533.9 117.5,534.5 117.7,535 117.9,535.5 118.1,535.9 118.3,536.4 118.5,536.8 118.7,537.2 118.9,537.5 119.1,537.9 119.3,538.3 119.5,538.6 119.8,538.9 120,539.3 120.2,539.6 120.4,540 120.6,540.3 120.8,540.6 121,540.9 121.2,541.2 121.4,541.5 121.6,541.7 121.8,541.9 122,542.1 122.2,542.3 122.5,542.5 122.7,542.6 122.8,542.7 124.2,543.6 125.6,544.5 126.9,545.3 128.3,545.7 129.7,545.9 131.1,546 132.5,545.9 133.9,545.3 135.2,544.6 136.6,543.8 138,542.8 139.4,541.3 140.8,539.5 142.2,537.5 143.5,535.1 144.9,533.1 146.3,534 147.7,537.9 149.1,541.6 150.4,544.4 151.8,546.7 153.2,548.7 154.6,550 156,550.9 157.4,551.7 158.7,552.2 160.1,552 161.5,551.3 162.5,550.5 162.8,550.3 163,550.1 163.2,549.9 163.4,549.6 163.6,549.3 163.8,549.1 164,548.8 164.2,548.4 164.4,548.1 164.6,547.8 164.8,547.4 165,546.9 165.2,546.4 165.4,545.9 165.7,545.4 165.9,544.8 166.1,544.2 166.3,543.6 166.5,542.9 166.7,542.3 166.9,541.5 167.1,540.7 167.3,539.9 167.5,539 167.7,538 167.9,537 168.1,536 168.3,534.9 168.6,533.8 168.8,532.6 169,531.3 169.2,529.9 169.4,528.1 169.6,526 169.8,523.2 170,519.1 170.2,512.8 170.4,503.2 170.6,491 170.8,474 171,455.5 171.3,440.2 171.5,430.2 171.7,423 171.9,422.6 172.1,426.4 172.3,431.9 172.5,439.1 172.7,450.8 172.9,462.1 173.1,472.8 173.3,483.3 173.5,493.3 173.7,504 173.9,512.7 174.2,517.5 174.4,520.9 174.6,523.5 174.8,525.6 175,527.3 175.2,528.9 175.4,530.3 175.6,531.6 175.8,532.7 176,533.9 176.2,534.9 176.4,536 176.6,537.1 176.9,538.2 177.1,539.3 177.3,540.4 177.5,541.4 177.7,542.4 177.9,543.4 178.1,544.3 178.3,545.2 178.5,546 178.7,546.7 178.9,547.4 179.1,548.1 179.3,548.8 179.5,549.4 179.8,550 180,550.5 180.2,551 180.4,551.5 180.6,552 180.8,552.4 181,552.8 181.2,553.2 181.4,553.6 181.6,553.8 182.9,555.8 184.3,557.2 185.7,558.2 187.1,559 188.5,559.7 189.8,559.9 191.2,559.6 192.6,558.9 194,558 195.4,557.1 196.8,556.3 198.1,555.8 199.5,555.6 200.6,555.9 201.1,556.1 201.6,556.5 202.1,556.9 202.6,557.3 203.2,557.8 203.7,558.2 204.2,558.5 204.7,558.8 205.2,559.1 205.7,559.4 206.3,559.7 206.8,559.9 207.3,560.5 207.8,560.6 208.3,561.2 208.9,561.3 209.4,561.7 209.9,562.1 210.4,562.8 210.9,563.2 211.4,563.5 212,564.6 212.5,564.8 213,565.2 213.5,565.9 214,566 214.6,566.6 215.1,566.6 215.6,567.1 216.1,567.4 216.6,567.5 217.1,567.8 217.7,568.3 218.2,568.8 218.7,568.2 219.2,568.5 219.7,568.9 220.3,568.9 220.8,569.3 221.3,569.2 221.8,569.4 222.3,569.6 222.8,569.9 223.4,569.7 223.9,570.3 224.4,570.3 224.9,570 225.4,570.3 226,570.4 226.5,570.4 227,570.8 227.5,570.9 228,571.2 228.6,571.5 229.1,571.8 229.6,571.8 230.1,572 230.6,572.8 231.1,572.7 231.7,572.8 232.2,573.3 232.7,574 233.2,573.7 233.7,574.5 234.3,574 234.8,574.6 235.3,574.3 235.8,574.9 236.3,574.5 236.8,574.6 237.4,575.4 237.9,575.1 238.4,575.1 238.9,575.9 239.4,576.4 240,576 240.5,576.4 241,576.4 241.5,576.4 242,577.1 242.5,576.3 243.1,576.8 243.6,576.6 244.1,576.1 244.6,576.4 245.1,576.5 245.7,577 246.2,576.1 246.7,576.7 247.2,576.3 247.7,576.5 248.3,576.2 248.8,576.9 249.3,576.6 249.8,576.6 250.3,576.8 250.8,577.4 251.4,576.6 251.9,576.7 252.4,577.3 252.9,577.1 253.4,577.1 254,577.3 254.5,577.2 255,577.7 255.5,578 256,578.3 256.5,578.2 257.1,578.4 257.6,578.1 258.1,579 258.6,578.8 259.1,578.6 259.7,578.6 260.2,579.2 260.7,578.9 261.2,579.6 261.7,578.8 262.2,579.6 262.8,579.2 263.3,579.5 263.8,579.9 264.3,579.6 264.8,578.8 265.4,579.3 265.9,579.7 266.4,579.6 266.9,579.1 267.4,579.2 268,579.1 268.5,579.1 269,578.9 269.5,578.9 270,579 270.5,579.4 271.1,578.9 271.6,578.7 272.1,578.4 272.6,578.2 273.1,578.6 273.7,578.2 274.2,578.6 274.7,578.2 275.2,578.5 275.7,578.5 276.2,579 276.8,578.9 277.3,578.5 277.8,578.6 278.3,578.8 278.8,579.2 279.4,579.5 279.9,579.5 280.4,579.6 280.9,579.6 281.4,580.1 281.9,580 282.5,580.3 283,581.1 283.5,580.8 284,580.6 284.5,580.8 285.1,580.7 285.6,581.8 286.1,581 286.6,581.4 287.1,581.3 287.6,581.7 288.2,581.1 288.7,581.4 289.2,581 289.7,581.6 290.2,581.1 290.8,580.9 291.3,580.7 291.8,580.7 292.3,580.7 292.8,580.6 293.4,580.9 293.9,580.9 294.4,579.8 294.9,579.8 295.4,580.2 295.9,580.4 296.5,579.4 296.7,579.4 296.7,583.2"/></defs>
<use href="#w27" stroke-width="0.92" stroke-dasharray="0 29.50 652.52 9999"/>
<use href="#w27" fill="none" stroke-width="1.05" stroke-dasharray="0 681.72 117.74 9999"/>
<defs><path id="w28" d="M35.2,585.6L36,556.7 37.4,556.6 38.7,556.4 40.1,556.1 41.5,555.7 42.9,555.2 44.3,554.6 45.6,553.9 47,553.1 48.4,552.1 49.8,551.1 51.2,549.8 52.6,548.4 53.9,546.7 55.3,544.1 56.7,541.7 58.1,539.9 59.5,540.6 60.9,542.5 62.2,544.6 63.6,546.6 65,547.8 66.4,548.7 67.8,549.5 69.2,550.4 70.5,550.8 71.9,550.6 73.3,550 74.7,548.4 76.1,546.7 77.4,544.8 78.8,542.5 80.2,539.8 81.6,537.4 83,536.2 84.4,536.2 85.7,537.4 87.1,540.4 88.5,543.6 89.9,546.1 91.3,547.6 92.7,548.8 94,549.7 95.4,549.4 96.8,548.8 98.2,548.3 99.6,547.4 100.9,545.9 101.6,545 101.8,544.7 102.1,544.4 102.3,544.1 102.5,543.7 102.7,543.4 102.9,543 103.1,542.6 103.3,542.2 103.5,541.8 103.7,541.3 103.9,540.8 104.1,540.2 104.3,539.6 104.5,539 104.7,538.3 105,537.6 105.2,537 105.4,536.2 105.6,535.4 105.8,534.6 106,533.6 106.2,532.6 106.4,531.3 106.6,529.8 106.8,528.1 107,526.4 107.2,524.4 107.4,522.1 107.6,519.7 107.9,517.4 108.1,515.2 108.3,512.7 108.5,509.7 108.7,506.1 108.9,501.7 109.1,496 109.3,488.4 109.5,476.7 109.7,465.8 109.9,457.5 110.1,449.5 110.3,440.9 110.6,441.2 110.8,451.2 111,460.4 111.2,471.1 111.4,484.9 111.6,497.3 111.8,507.2 112,513.6 112.2,517.9 112.4,521.5 112.6,524.6 112.8,526.7 113,528.2 113.2,529.4 113.5,530.5 113.7,531.4 113.9,532.2 114.1,533 114.3,533.8 114.5,534.5 114.7,535.2 114.9,535.8 115.1,536.4 115.3,537 115.5,537.5 115.7,537.9 115.9,538.4 116.2,538.8 116.4,539.2 116.6,539.6 116.8,540 117,540.4 117.2,540.7 117.4,541.1 117.6,541.4 117.8,541.7 118,542.1 118.2,542.4 118.4,542.7 118.6,543 118.8,543.4 119.1,543.6 119.3,543.9 119.5,544.2 119.7,544.4 119.9,544.6 120.1,544.7 120.3,544.9 120.5,545 120.6,545.1 122,546 123.4,547 124.8,547.7 126.2,548.1 127.6,548.4 128.9,548.5 130.3,548.3 131.7,547.7 133.1,547 134.5,546.2 135.9,545.3 137.2,543.8 138.6,542 140,539.9 141.4,537.6 142.8,535.5 144.1,536.5 145.5,540.4 146.9,544 148.3,546.8 149.7,549.2 151.1,551.1 152.4,552.4 153.8,553.3 155.2,554.1 156.6,554.6 158,554.4 159.4,553.7 160.4,553 160.6,552.8 160.8,552.5 161,552.3 161.2,552.1 161.4,551.8 161.6,551.5 161.8,551.2 162,550.9 162.3,550.6 162.5,550.2 162.7,549.8 162.9,549.3 163.1,548.9 163.3,548.4 163.5,547.8 163.7,547.2 163.9,546.6 164.1,546 164.3,545.4 164.5,544.7 164.7,544 165,543.2 165.2,542.3 165.4,541.4 165.6,540.4 165.8,539.4 166,538.4 166.2,537.3 166.4,536.2 166.6,535 166.8,533.7 167,532.2 167.2,530.5 167.4,528.4 167.6,525.5 167.9,521.4 168.1,515.1 168.3,505.5 168.5,493.3 168.7,476.2 168.9,457.7 169.1,442.3 169.3,432.2 169.5,425.1 169.7,424.6 169.9,428.4 170.1,434 170.3,441.2 170.5,453 170.8,464.3 171,475 171.2,485.5 171.4,495.6 171.6,506.3 171.8,515 172,519.9 172.2,523.3 172.4,525.9 172.6,528 172.8,529.7 173,531.3 173.2,532.7 173.5,534 173.7,535.1 173.9,536.3 174.1,537.3 174.3,538.4 174.5,539.5 174.7,540.6 174.9,541.7 175.1,542.8 175.3,543.9 175.5,544.9 175.7,545.8 175.9,546.8 176.1,547.6 176.4,548.4 176.6,549.2 176.8,549.9 177,550.5 177.2,551.2 177.4,551.8 177.6,552.4 177.8,552.9 178,553.5 178.2,554 178.4,554.4 178.6,554.8 178.8,555.2 179.1,555.6 179.3,556 179.4,556.2 180.8,558.2 182.2,559.6 183.5,560.7 184.9,561.4 186.3,562.1 187.7,562.3 189.1,562 190.5,561.3 191.8,560.5 193.2,559.6 194.6,558.8 196,558.2 197.4,558 198.4,558.2 198.9,558.5 199.4,558.8 200,559.2 200.5,559.6 201,560 201.5,560.4 202,560.7 202.6,561 203.1,561.3 203.6,561.6 204.1,561.9 204.6,562.3 205.1,562.6 205.7,562.8 206.2,563.1 206.7,563.6 207.2,563.9 207.7,564.4 208.3,564.7 208.8,565.1 209.3,566 209.8,566 210.3,566.9 210.8,567.3 211.4,567.8 211.9,568.1 212.4,568.7 212.9,569.1 213.4,569.2 214,569.5 214.5,569.9 215,570.2 215.5,570.3 216,570.2 216.5,570.7 217.1,571.1 217.6,571 218.1,570.8 218.6,571 219.1,571.8 219.7,571.5 220.2,571.4 220.7,571.7 221.2,572.6 221.7,572.4 222.3,572.7 222.8,572.2 223.3,572.7 223.8,573 224.3,572.7 224.8,573.2 225.4,573.4 225.9,573.3 226.4,573.4 226.9,574.3 227.4,574.8 228,575 228.5,574.8 229,575.1 229.5,575.4 230,575.3 230.5,575.8 231.1,576.3 231.6,575.9 232.1,576.8 232.6,577.1 233.1,576.5 233.7,576.5 234.2,576.7 234.7,577.4 235.2,577.2 235.7,577.4 236.2,577.3 236.8,577.5 237.3,578.2 237.8,578.4 238.3,578.8 238.8,578.8 239.4,579 239.9,578.7 240.4,578.6 240.9,578.2 241.4,578.7 242,578.9 242.5,578.9 243,578.6 243.5,579.2 244,579 244.5,578.8 245.1,578.8 245.6,579.1 246.1,578.4 246.6,578.7 247.1,578.8 247.7,578.7 248.2,578.9 248.7,578.9 249.2,578.7 249.7,579.4 250.2,579.3 250.8,579.7 251.3,579.4 251.8,579.5 252.3,580.4 252.8,580 253.4,580.2 253.9,580.1 254.4,580.6 254.9,580.5 255.4,581 255.9,581.1 256.5,581.5 257,581.2 257.5,581.3 258,581.7 258.5,581.2 259.1,581.2 259.6,581.4 260.1,581.7 260.6,581.6 261.1,581.4 261.6,581.7 262.2,581.6 262.7,581.8 263.2,581.6 263.7,581.3 264.2,581.7 264.8,581.5 265.3,581.7 265.8,581.7 266.3,581.4 266.8,581.5 267.4,581.2 267.9,581.1 268.4,581.5 268.9,581.1 269.4,581 269.9,581 270.5,580.6 271,581.6 271.5,580.6 272,580.6 272.5,580.8 273.1,581.6 273.6,580.7 274.1,581.2 274.6,580.7 275.1,581 275.6,581.5 276.2,581.6 276.7,581.5 277.2,581.2 277.7,581.6 278.2,582 278.8,582.5 279.3,582.4 279.8,582.2 280.3,582.5 280.8,583.1 281.3,582.7 281.9,582.9 282.4,583.1 282.9,583.2 283.4,583.4 283.9,583.3 284.5,583.5 285,584.1 285.5,583.9 286,583.9 286.5,583.4 287.1,584 287.6,583.3 288.1,584.2 288.6,583.2 289.1,583.3 289.6,583.7 290.2,582.9 290.7,583.4 291.2,583.1 291.7,583.2 292.2,582.6 292.8,582.4 293.3,582.1 293.8,582.3 294.3,582.4 294.4,582 294.4,585.6"/></defs>
<use href="#w28" stroke-width="0.92" stroke-dasharray="0 29.70 651.92 9999"/>
<use href="#w28" fill="none" stroke-width="1.05" stroke-dasharray="0 681.32 115.73 9999"/>
<defs><path id="w29" d="M33.0,588.1L33.8,559.1 35.2,559 36.6,558.8 38,558.5 39.3,558.1 40.7,557.6 42.1,557 43.5,556.4 44.9,555.5 46.3,554.6 47.6,553.5 49,552.3 50.4,550.8 51.8,549.1 53.2,546.5 54.6,544.1 55.9,542.3 57.3,543 58.7,544.9 60.1,547 61.5,549 62.8,550.2 64.2,551.1 65.6,551.9 67,552.8 68.4,553.2 69.8,553 71.1,552.5 72.5,550.8 73.9,549.1 75.3,547.2 76.7,545 78.1,542.3 79.4,539.8 80.8,538.7 82.2,538.7 83.6,539.8 85,542.9 86.3,546.1 87.7,548.5 89.1,550.1 90.5,551.3 91.9,552.1 93.3,551.8 94.6,551.2 96,550.7 97.4,549.9 98.8,548.3 99.5,547.4 99.7,547.1 99.9,546.8 100.1,546.5 100.3,546.2 100.5,545.8 100.7,545.5 100.9,545.1 101.1,544.7 101.3,544.2 101.6,543.8 101.8,543.2 102,542.7 102.2,542.1 102.4,541.4 102.6,540.8 102.8,540.1 103,539.4 103.2,538.7 103.4,537.9 103.6,537 103.8,536.1 104,535 104.3,533.7 104.5,532.2 104.7,530.6 104.9,528.8 105.1,526.8 105.3,524.6 105.5,522.2 105.7,519.9 105.9,517.7 106.1,515.2 106.3,512.3 106.5,508.7 106.7,504.2 106.9,498.6 107.2,490.9 107.4,479.3 107.6,468.4 107.8,460.1 108,452.2 108.2,443.6 108.4,443.9 108.6,453.8 108.8,463 109,473.7 109.2,487.5 109.4,499.9 109.6,509.7 109.9,516.1 110.1,520.4 110.3,524 110.5,527 110.7,529.2 110.9,530.7 111.1,531.9 111.3,532.9 111.5,533.8 111.7,534.7 111.9,535.5 112.1,536.2 112.3,537 112.5,537.6 112.8,538.3 113,538.9 113.2,539.4 113.4,539.9 113.6,540.4 113.8,540.8 114,541.3 114.2,541.7 114.4,542.1 114.6,542.4 114.8,542.8 115,543.1 115.2,543.5 115.4,543.8 115.7,544.2 115.9,544.5 116.1,544.8 116.3,545.2 116.5,545.5 116.7,545.8 116.9,546.1 117.1,546.3 117.3,546.6 117.5,546.8 117.7,547 117.9,547.2 118.1,547.3 118.4,547.5 118.5,547.6 119.9,548.4 121.3,549.4 122.6,550.2 124,550.5 125.4,550.8 126.8,550.9 128.2,550.7 129.5,550.1 130.9,549.4 132.3,548.7 133.7,547.7 135.1,546.2 136.5,544.4 137.8,542.3 139.2,540 140.6,538 142,538.9 143.4,542.8 144.8,546.4 146.1,549.2 147.5,551.6 148.9,553.5 150.3,554.8 151.7,555.8 153.1,556.5 154.4,557.1 155.8,556.9 157.2,556.1 158.2,555.4 158.4,555.2 158.6,555 158.9,554.7 159.1,554.5 159.3,554.2 159.5,553.9 159.7,553.6 159.9,553.3 160.1,553 160.3,552.6 160.5,552.2 160.7,551.8 160.9,551.3 161.1,550.8 161.3,550.2 161.6,549.7 161.8,549.1 162,548.4 162.2,547.8 162.4,547.1 162.6,546.4 162.8,545.6 163,544.7 163.2,543.8 163.4,542.9 163.6,541.9 163.8,540.8 164,539.7 164.2,538.6 164.5,537.4 164.7,536.1 164.9,534.6 165.1,532.9 165.3,530.8 165.5,527.9 165.7,523.7 165.9,517.4 166.1,507.8 166.3,495.5 166.5,478.3 166.7,459.7 166.9,444.2 167.2,434.1 167.4,426.9 167.6,426.5 167.8,430.3 168,435.9 168.2,443.2 168.4,455 168.6,466.3 168.8,477.1 169,487.7 169.2,497.8 169.4,508.5 169.6,517.3 169.8,522.2 170.1,525.6 170.3,528.2 170.5,530.3 170.7,532.1 170.9,533.7 171.1,535.1 171.3,536.3 171.5,537.5 171.7,538.6 171.9,539.7 172.1,540.8 172.3,541.9 172.5,543 172.7,544.1 173,545.2 173.2,546.3 173.4,547.3 173.6,548.3 173.8,549.2 174,550 174.2,550.9 174.4,551.6 174.6,552.3 174.8,553 175,553.6 175.2,554.2 175.4,554.8 175.7,555.4 175.9,555.9 176.1,556.4 176.3,556.8 176.5,557.3 176.7,557.7 176.9,558 177.1,558.4 177.2,558.6 178.6,560.6 180,562 181.4,563.1 182.8,563.9 184.2,564.5 185.5,564.7 186.9,564.4 188.3,563.8 189.7,562.9 191.1,562 192.4,561.2 193.8,560.6 195.2,560.3 196.3,560.5 196.8,560.8 197.3,561.1 197.8,561.5 198.3,561.9 198.8,562.3 199.4,562.6 199.9,562.9 200.4,563.2 200.9,563.5 201.4,563.8 202,564 202.5,564.4 203,564.7 203.5,564.9 204,565.1 204.5,565.5 205.1,565.8 205.6,566.3 206.1,566.9 206.6,567.1 207.1,567.7 207.7,568.3 208.2,568.9 208.7,569.3 209.2,570.1 209.7,570.5 210.2,570.8 210.8,571.5 211.3,571.4 211.8,571.9 212.3,572.1 212.8,572.1 213.4,572.7 213.9,572.5 214.4,572.9 214.9,572.8 215.4,572.9 215.9,572.8 216.5,573.1 217,573.7 217.5,574.3 218,573.9 218.5,573.7 219.1,574.4 219.6,574.6 220.1,574.9 220.6,574.7 221.1,574.9 221.7,575.3 222.2,575.9 222.7,575.7 223.2,575.9 223.7,575.8 224.2,576.3 224.8,576.4 225.3,576.8 225.8,577 226.3,577.1 226.8,577.2 227.4,577.9 227.9,578.3 228.4,577.9 228.9,578.3 229.4,578.1 229.9,578.4 230.5,578.7 231,579 231.5,578.9 232,579.2 232.5,579.6 233.1,580.2 233.6,580.2 234.1,579.8 234.6,579.5 235.1,580.1 235.6,580.6 236.2,580.8 236.7,580.9 237.2,581.3 237.7,581.1 238.2,581.4 238.8,581.3 239.3,580.9 239.8,580.8 240.3,581.1 240.8,581.5 241.4,581.1 241.9,581.5 242.4,580.7 242.9,581.5 243.4,581.3 243.9,581.6 244.5,581.1 245,581.4 245.5,581.6 246,581.7 246.5,581.8 247.1,581.9 247.6,581.7 248.1,582.2 248.6,582.2 249.1,582 249.6,581.9 250.2,582.3 250.7,581.9 251.2,582.3 251.7,582.5 252.2,582.2 252.8,583.2 253.3,582.8 253.8,583.6 254.3,583.7 254.8,583.4 255.3,583.9 255.9,584.1 256.4,583.8 256.9,584.2 257.4,583.6 257.9,583.3 258.5,583.6 259,584 259.5,584.2 260,584.2 260.5,583.9 261.1,584.6 261.6,583.7 262.1,584.5 262.6,584.1 263.1,584 263.6,583.7 264.2,583.6 264.7,583.4 265.2,583.7 265.7,583.2 266.2,583.8 266.8,583.3 267.3,583.7 267.8,583 268.3,583.5 268.8,583.3 269.3,583 269.9,583.3 270.4,583.3 270.9,583.2 271.4,583.8 271.9,583.4 272.5,583.6 273,583.7 273.5,583.6 274,584 274.5,583.9 275,583.6 275.6,584 276.1,583.9 276.6,584.3 277.1,584.7 277.6,584.8 278.2,585.2 278.7,585.2 279.2,584.9 279.7,585.4 280.2,585.3 280.7,585.2 281.3,586.1 281.8,586 282.3,586.3 282.8,585.7 283.3,585.9 283.9,585.9 284.4,586.1 284.9,586 285.4,586 285.9,585.6 286.5,586.5 287,585.7 287.5,585.4 288,585.9 288.5,585.5 289,585.2 289.6,585.1 290.1,585.6 290.6,584.9 291.1,584.7 291.6,585.1 292.2,584.5 292.2,588.1"/></defs>
<use href="#w29" stroke-width="0.92" stroke-dasharray="0 29.80 652.35 9999"/>
<use href="#w29" fill="none" stroke-width="1.05" stroke-dasharray="0 681.85 115.18 9999"/>
<defs><path id="w30" d="M30.8,590.5L31.7,561.6 33,561.4 34.4,561.2 35.8,561 37.2,560.6 38.6,560 40,559.5 41.3,558.8 42.7,558 44.1,557 45.5,555.9 46.9,554.7 48.3,553.3 49.6,551.5 51,549 52.4,546.5 53.8,544.8 55.2,545.4 56.5,547.3 57.9,549.5 59.3,551.4 60.7,552.6 62.1,553.5 63.5,554.4 64.8,555.2 66.2,555.7 67.6,555.5 69,554.9 70.4,553.2 71.8,551.5 73.1,549.6 74.5,547.4 75.9,544.7 77.3,542.2 78.7,541.1 80,541.1 81.4,542.3 82.8,545.3 84.2,548.5 85.6,550.9 87,552.5 88.3,553.7 89.7,554.5 91.1,554.2 92.5,553.6 93.9,553.1 95.3,552.3 96.6,550.7 97.3,549.8 97.5,549.5 97.7,549.2 98,548.9 98.2,548.6 98.4,548.3 98.6,547.9 98.8,547.5 99,547.1 99.2,546.7 99.4,546.2 99.6,545.7 99.8,545.1 100,544.5 100.2,543.9 100.4,543.2 100.6,542.5 100.9,541.8 101.1,541.1 101.3,540.3 101.5,539.5 101.7,538.5 101.9,537.4 102.1,536.2 102.3,534.7 102.5,533 102.7,531.3 102.9,529.3 103.1,527 103.3,524.7 103.5,522.4 103.8,520.1 104,517.6 104.2,514.7 104.4,511.1 104.6,506.7 104.8,501 105,493.4 105.2,481.8 105.4,470.9 105.6,462.6 105.8,454.6 106,446 106.2,446.3 106.5,456.2 106.7,465.5 106.9,476.1 107.1,489.9 107.3,502.3 107.5,512.2 107.7,518.5 107.9,522.9 108.1,526.4 108.3,529.5 108.5,531.6 108.7,533.1 108.9,534.3 109.1,535.4 109.4,536.3 109.6,537.1 109.8,537.9 110,538.7 110.2,539.4 110.4,540.1 110.6,540.7 110.8,541.3 111,541.8 111.2,542.3 111.4,542.8 111.6,543.3 111.8,543.7 112.1,544.1 112.3,544.5 112.5,544.9 112.7,545.2 112.9,545.6 113.1,545.9 113.3,546.3 113.5,546.6 113.7,546.9 113.9,547.3 114.1,547.6 114.3,547.9 114.5,548.2 114.7,548.5 115,548.8 115.2,549 115.4,549.2 115.6,549.4 115.8,549.6 116,549.8 116.2,549.9 116.3,550 117.7,550.9 119.1,551.8 120.5,552.6 121.9,553 123.2,553.2 124.6,553.3 126,553.1 127.4,552.6 128.8,551.8 130.2,551.1 131.5,550.1 132.9,548.6 134.3,546.8 135.7,544.8 137.1,542.4 138.5,540.4 139.8,541.3 141.2,545.2 142.6,548.9 144,551.6 145.4,554 146.7,555.9 148.1,557.2 149.5,558.2 150.9,559 152.3,559.5 153.7,559.3 155,558.6 156.1,557.8 156.3,557.6 156.5,557.4 156.7,557.2 156.9,556.9 157.1,556.6 157.3,556.4 157.5,556.1 157.7,555.7 157.9,555.4 158.2,555.1 158.4,554.7 158.6,554.2 158.8,553.7 159,553.2 159.2,552.7 159.4,552.1 159.6,551.5 159.8,550.9 160,550.2 160.2,549.6 160.4,548.8 160.6,548 160.8,547.2 161.1,546.3 161.3,545.3 161.5,544.3 161.7,543.2 161.9,542.2 162.1,541 162.3,539.9 162.5,538.6 162.7,537.1 162.9,535.3 163.1,533.2 163.3,530.3 163.5,526.2 163.8,519.9 164,510.3 164.2,498 164.4,481 164.6,462.4 164.8,446.9 165,436.9 165.2,429.7 165.4,429.2 165.6,433.1 165.8,438.6 166,445.9 166.2,457.7 166.4,469 166.7,479.8 166.9,490.2 167.1,500.3 167.3,511.1 167.5,519.8 167.7,524.7 167.9,528.1 168.1,530.7 168.3,532.8 168.5,534.6 168.7,536.1 168.9,537.5 169.1,538.8 169.4,540 169.6,541.1 169.8,542.2 170,543.3 170.2,544.4 170.4,545.5 170.6,546.6 170.8,547.7 171,548.7 171.2,549.7 171.4,550.7 171.6,551.6 171.8,552.5 172,553.3 172.3,554 172.5,554.7 172.7,555.4 172.9,556 173.1,556.7 173.3,557.2 173.5,557.8 173.7,558.3 173.9,558.8 174.1,559.3 174.3,559.7 174.5,560.1 174.7,560.5 174.9,560.8 175.1,561.1 176.5,563.1 177.9,564.5 179.2,565.5 180.6,566.3 182,566.9 183.4,567.2 184.8,566.9 186.1,566.2 187.5,565.4 188.9,564.5 190.3,563.6 191.7,563 193.1,562.7 194.1,562.9 194.6,563.1 195.1,563.4 195.7,563.8 196.2,564.2 196.7,564.5 197.2,564.9 197.7,565.2 198.2,565.4 198.8,565.7 199.3,566 199.8,566.2 200.3,566.5 200.8,566.8 201.4,567 201.9,567.2 202.4,567.8 202.9,568 203.4,568.3 203.9,569 204.5,569.2 205,570 205.5,570.4 206,571.1 206.5,571.2 207.1,572.2 207.6,572.6 208.1,573.2 208.6,573.3 209.1,573.8 209.6,573.6 210.2,574.5 210.7,574.1 211.2,574.8 211.7,574.7 212.2,575.3 212.8,575.6 213.3,575.5 213.8,576.1 214.3,576 214.8,575.7 215.4,575.7 215.9,576.6 216.4,576.7 216.9,576.8 217.4,577.2 217.9,576.7 218.5,576.9 219,577.5 219.5,577.4 220,578.2 220.5,577.5 221.1,578 221.6,578 222.1,578.3 222.6,579.1 223.1,578.9 223.6,579.1 224.2,579.2 224.7,580 225.2,580 225.7,580.5 226.2,580.1 226.8,580.6 227.3,580.2 227.8,581 228.3,581.5 228.8,581 229.3,581.5 229.9,581.6 230.4,581.7 230.9,581.6 231.4,582 231.9,582.5 232.5,582.2 233,582.3 233.5,583.9 234,582.9 234.5,583.5 235,583.5 235.6,582.9 236.1,583.1 236.6,582.8 237.1,583 237.6,584 238.2,583.8 238.7,583.4 239.2,583.2 239.7,583.3 240.2,583.2 240.8,582.6 241.3,583.1 241.8,583.3 242.3,583.8 242.8,583 243.3,583.9 243.9,583.3 244.4,584.4 244.9,584.4 245.4,584 245.9,583.8 246.5,584.5 247,584.6 247.5,584.4 248,585 248.5,584.9 249,585.4 249.6,584.8 250.1,585.4 250.6,585.1 251.1,585.7 251.6,585.6 252.2,585.7 252.7,585.8 253.2,586 253.7,586.1 254.2,586.1 254.7,586.7 255.3,586.2 255.8,586.5 256.3,586.3 256.8,586.6 257.3,587.1 257.9,586.2 258.4,586.2 258.9,586.2 259.4,586.7 259.9,586.2 260.5,586.1 261,586.1 261.5,586.3 262,585.7 262.5,585.7 263,586.2 263.6,585.8 264.1,585.4 264.6,586.1 265.1,586.3 265.6,585.6 266.2,585.7 266.7,585.9 267.2,585.5 267.7,585.6 268.2,585.5 268.7,585.4 269.3,586 269.8,586.1 270.3,585.6 270.8,585.7 271.3,586 271.9,586.1 272.4,585.7 272.9,585.8 273.4,586.2 273.9,586.6 274.4,586.2 275,587.1 275.5,587 276,587.4 276.5,587.1 277,587.4 277.6,587.2 278.1,587.9 278.6,587.8 279.1,588.3 279.6,588.7 280.2,588.6 280.7,588.1 281.2,588.7 281.7,588.8 282.2,588.3 282.7,588.3 283.3,588.3 283.8,587.9 284.3,588.4 284.8,588.1 285.3,587.8 285.9,588.1 286.4,587.8 286.9,588.1 287.4,587.8 287.9,587.5 288.4,587.7 289,587.4 289.5,587.4 290,587.2 290,586.6 290.0,590.5"/></defs>
<use href="#w30" stroke-width="0.92" stroke-dasharray="0 29.80 651.03 9999"/>
<use href="#w30" fill="none" stroke-width="1.05" stroke-dasharray="0 680.53 120.80 9999"/>
</g>
<polygon points="105.8,446.2 171.1,366.4 171.1,369.4 105.8,449.2" fill="#000" fill-opacity="0.441"/>
<polygon points="105.8,449.2 171.1,369.4 171.1,372.4 105.8,452.2" fill="#000" fill-opacity="0.418"/>
<polygon points="105.8,452.2 171.1,372.4 171.1,375.4 105.8,455.2" fill="#000" fill-opacity="0.385"/>
<polygon points="105.8,455.2 171.1,375.4 171.1,378.4 105.8,458.2" fill="#000" fill-opacity="0.343"/>
<polygon points="105.8,458.2 171.1,378.4 171.1,381.4 105.8,461.2" fill="#000" fill-opacity="0.297"/>
<polygon points="105.8,461.2 171.1,381.4 171.1,384.4 105.8,464.2" fill="#000" fill-opacity="0.248"/>
<polygon points="105.8,464.2 171.1,384.4 171.1,387.4 105.8,467.2" fill="#000" fill-opacity="0.202"/>
<polygon points="105.8,467.2 171.1,387.4 171.1,390.4 105.8,470.2" fill="#000" fill-opacity="0.159"/>
<polygon points="105.8,470.2 171.1,390.4 171.1,393.4 105.8,473.2" fill="#000" fill-opacity="0.121"/>
<polygon points="105.8,473.2 171.1,393.4 171.1,396.4 105.8,476.2" fill="#000" fill-opacity="0.089"/>
<polygon points="105.8,476.2 171.1,396.4 171.1,399.4 105.8,479.2" fill="#000" fill-opacity="0.064"/>
<polygon points="105.8,479.2 171.1,399.4 171.1,402.4 105.8,482.2" fill="#000" fill-opacity="0.045"/>
<polygon points="105.8,482.2 171.1,402.4 171.1,405.4 105.8,485.2" fill="#000" fill-opacity="0.03"/>
<polygon points="105.8,485.2 171.1,405.4 171.1,408.4 105.8,488.2" fill="#000" fill-opacity="0.02"/>
<polygon points="105.8,488.2 171.1,408.4 171.1,411.4 105.8,491.2" fill="#000" fill-opacity="0.012"/>
<polygon points="105.8,491.2 171.1,411.4 171.1,414.4 105.8,494.2" fill="#000" fill-opacity="0.008"/>
<polygon points="105.8,494.2 171.1,414.4 171.1,417.4 105.8,497.2" fill="#000" fill-opacity="0.005"/>
<polygon points="105.8,497.2 171.1,417.4 171.1,420.4 105.8,500.2" fill="#000" fill-opacity="0.003"/>
<polygon points="105.8,500.2 171.1,420.4 171.1,423.4 105.8,503.2" fill="#000" fill-opacity="0.001"/>
<polygon points="105.8,503.2 171.1,423.4 171.1,426.4 105.8,506.2" fill="#000" fill-opacity="0.001"/>
<polygon points="105.8,506.2 171.1,426.4 171.1,429.4 105.8,509.2" fill="#000" fill-opacity="0.0"/>
<polygon points="105.8,509.2 171.1,429.4 171.1,432.4 105.8,512.2" fill="#000" fill-opacity="0.0"/>
<polygon points="105.8,512.2 171.1,432.4 171.1,435.4 105.8,515.2" fill="#000" fill-opacity="0.0"/>
<polygon points="164.9,431.2 230.2,360.6 230.2,363.6 164.9,434.2" fill="#000" fill-opacity="0.441"/>
<polygon points="164.9,434.2 230.2,363.6 230.2,366.6 164.9,437.2" fill="#000" fill-opacity="0.418"/>
<polygon points="164.9,437.2 230.2,366.6 230.2,369.6 164.9,440.2" fill="#000" fill-opacity="0.385"/>
<polygon points="164.9,440.2 230.2,369.6 230.2,372.6 164.9,443.2" fill="#000" fill-opacity="0.343"/>
<polygon points="164.9,443.2 230.2,372.6 230.2,375.6 164.9,446.2" fill="#000" fill-opacity="0.297"/>
<polygon points="164.9,446.2 230.2,375.6 230.2,378.6 164.9,449.2" fill="#000" fill-opacity="0.248"/>
<polygon points="164.9,449.2 230.2,378.6 230.2,381.6 164.9,452.2" fill="#000" fill-opacity="0.202"/>
<polygon points="164.9,452.2 230.2,381.6 230.2,384.6 164.9,455.2" fill="#000" fill-opacity="0.159"/>
<polygon points="164.9,455.2 230.2,384.6 230.2,387.6 164.9,458.2" fill="#000" fill-opacity="0.121"/>
<polygon points="164.9,458.2 230.2,387.6 230.2,390.6 164.9,461.2" fill="#000" fill-opacity="0.089"/>
<polygon points="164.9,461.2 230.2,390.6 230.2,393.6 164.9,464.2" fill="#000" fill-opacity="0.064"/>
<polygon points="164.9,464.2 230.2,393.6 230.2,396.6 164.9,467.2" fill="#000" fill-opacity="0.045"/>
<polygon points="164.9,467.2 230.2,396.6 230.2,399.6 164.9,470.2" fill="#000" fill-opacity="0.03"/>
<polygon points="164.9,470.2 230.2,399.6 230.2,402.6 164.9,473.2" fill="#000" fill-opacity="0.02"/>
<polygon points="164.9,473.2 230.2,402.6 230.2,405.6 164.9,476.2" fill="#000" fill-opacity="0.012"/>
<polygon points="164.9,476.2 230.2,405.6 230.2,408.6 164.9,479.2" fill="#000" fill-opacity="0.008"/>
<polygon points="164.9,479.2 230.2,408.6 230.2,411.6 164.9,482.2" fill="#000" fill-opacity="0.005"/>
<polygon points="164.9,482.2 230.2,411.6 230.2,414.6 164.9,485.2" fill="#000" fill-opacity="0.003"/>
<polygon points="164.9,485.2 230.2,414.6 230.2,417.6 164.9,488.2" fill="#000" fill-opacity="0.001"/>
<polygon points="164.9,488.2 230.2,417.6 230.2,420.6 164.9,491.2" fill="#000" fill-opacity="0.001"/>
<polygon points="164.9,491.2 230.2,420.6 230.2,423.6 164.9,494.2" fill="#000" fill-opacity="0.0"/>
<polygon points="164.9,494.2 230.2,423.6 230.2,426.6 164.9,497.2" fill="#000" fill-opacity="0.0"/>
<polygon points="164.9,497.2 230.2,426.6 230.2,429.6 164.9,500.2" fill="#000" fill-opacity="0.0"/>
<line x1="30.80" y1="429.30" x2="30.80" y2="590.40" stroke="#555" stroke-width="1"/>
<line x1="30.80" y1="561.30" x2="30.80" y2="590.40" stroke="#111" stroke-width="1.3"/>
<line x1="30.80" y1="590.50" x2="290.00" y2="590.50" stroke="#222" stroke-width="1.6"/>
<line x1="356.70" y1="517.50" x2="290.00" y2="590.40" stroke="#111" stroke-width="1.1"/>
<line x1="30.80" y1="590.40" x2="26.61" y2="594.97" stroke="#222" stroke-width="1"/>
<text x="11.20" y="609.30" font-size="11" text-anchor="middle" >1540</text>
<line x1="48.08" y1="590.40" x2="45.65" y2="593.06" stroke="#222" stroke-width="1"/>
<line x1="65.36" y1="590.40" x2="61.17" y2="594.97" stroke="#222" stroke-width="1"/>
<text x="45.76" y="609.30" font-size="11" text-anchor="middle" >1542</text>
<line x1="82.64" y1="590.40" x2="80.21" y2="593.06" stroke="#222" stroke-width="1"/>
<line x1="99.92" y1="590.40" x2="95.73" y2="594.97" stroke="#222" stroke-width="1"/>
<text x="80.32" y="609.30" font-size="11" text-anchor="middle" >1544</text>
<line x1="117.20" y1="590.40" x2="114.77" y2="593.06" stroke="#222" stroke-width="1"/>
<line x1="134.48" y1="590.40" x2="130.29" y2="594.97" stroke="#222" stroke-width="1"/>
<text x="114.88" y="609.30" font-size="11" text-anchor="middle" >1546</text>
<line x1="151.76" y1="590.40" x2="149.33" y2="593.06" stroke="#222" stroke-width="1"/>
<line x1="169.04" y1="590.40" x2="164.85" y2="594.97" stroke="#222" stroke-width="1"/>
<text x="149.44" y="609.30" font-size="11" text-anchor="middle" >1548</text>
<line x1="186.32" y1="590.40" x2="183.89" y2="593.06" stroke="#222" stroke-width="1"/>
<line x1="203.60" y1="590.40" x2="199.41" y2="594.97" stroke="#222" stroke-width="1"/>
<text x="184.00" y="609.30" font-size="11" text-anchor="middle" >1550</text>
<line x1="220.88" y1="590.40" x2="218.45" y2="593.06" stroke="#222" stroke-width="1"/>
<line x1="238.16" y1="590.40" x2="233.97" y2="594.97" stroke="#222" stroke-width="1"/>
<text x="218.56" y="609.30" font-size="11" text-anchor="middle" >1552</text>
<line x1="255.44" y1="590.40" x2="253.01" y2="593.06" stroke="#222" stroke-width="1"/>
<line x1="272.72" y1="590.40" x2="268.53" y2="594.97" stroke="#222" stroke-width="1"/>
<text x="253.12" y="609.30" font-size="11" text-anchor="middle" >1554</text>
<line x1="290.00" y1="590.40" x2="287.57" y2="593.06" stroke="#222" stroke-width="1"/>
<line x1="346.18" y1="529.00" x2="353.68" y2="529.00" stroke="#444" stroke-width="1"/>
<line x1="335.56" y1="540.60" x2="351.06" y2="540.60" stroke="#444" stroke-width="1"/>
<line x1="324.59" y1="552.60" x2="332.09" y2="552.60" stroke="#444" stroke-width="1"/>
<line x1="314.06" y1="564.10" x2="329.56" y2="564.10" stroke="#444" stroke-width="1"/>
<line x1="303.45" y1="575.70" x2="310.95" y2="575.70" stroke="#444" stroke-width="1"/>
<line x1="293.02" y1="587.10" x2="308.52" y2="587.10" stroke="#444" stroke-width="1"/>
<line x1="356.70" y1="356.40" x2="356.70" y2="517.50" stroke="#555" stroke-width="1.1"/>
<line x1="356.70" y1="514.60" x2="372.30" y2="514.60" stroke="#333" stroke-width="1"/>
<text x="393.90" y="513.80" font-size="10.8" text-anchor="end" >-70</text>
<line x1="356.70" y1="495.80" x2="372.30" y2="495.80" stroke="#333" stroke-width="1"/>
<text x="393.90" y="495.00" font-size="10.8" text-anchor="end" >-65</text>
<line x1="356.70" y1="477.00" x2="372.30" y2="477.00" stroke="#333" stroke-width="1"/>
<text x="393.90" y="476.20" font-size="10.8" text-anchor="end" >-60</text>
<line x1="356.70" y1="458.20" x2="372.30" y2="458.20" stroke="#333" stroke-width="1"/>
<text x="393.90" y="457.40" font-size="10.8" text-anchor="end" >-55</text>
<line x1="356.70" y1="439.40" x2="372.30" y2="439.40" stroke="#333" stroke-width="1"/>
<text x="393.90" y="438.60" font-size="10.8" text-anchor="end" >-50</text>
<line x1="356.70" y1="420.60" x2="372.30" y2="420.60" stroke="#333" stroke-width="1"/>
<text x="393.90" y="419.80" font-size="10.8" text-anchor="end" >-45</text>
<line x1="356.70" y1="401.80" x2="372.30" y2="401.80" stroke="#333" stroke-width="1"/>
<text x="393.90" y="401.00" font-size="10.8" text-anchor="end" >-40</text>
<line x1="356.70" y1="383.00" x2="372.30" y2="383.00" stroke="#333" stroke-width="1"/>
<text x="393.90" y="382.20" font-size="10.8" text-anchor="end" >-35</text>
<line x1="356.70" y1="364.20" x2="372.30" y2="364.20" stroke="#333" stroke-width="1"/>
<text x="393.90" y="363.40" font-size="10.8" text-anchor="end" >-30</text>
<line x1="356.70" y1="505.20" x2="364.90" y2="505.20" stroke="#333" stroke-width="1"/>
<line x1="356.70" y1="486.40" x2="364.90" y2="486.40" stroke="#333" stroke-width="1"/>
<line x1="356.70" y1="467.60" x2="364.90" y2="467.60" stroke="#333" stroke-width="1"/>
<line x1="356.70" y1="448.80" x2="364.90" y2="448.80" stroke="#333" stroke-width="1"/>
<line x1="356.70" y1="430.00" x2="364.90" y2="430.00" stroke="#333" stroke-width="1"/>
<line x1="356.70" y1="411.20" x2="364.90" y2="411.20" stroke="#333" stroke-width="1"/>
<line x1="356.70" y1="392.40" x2="364.90" y2="392.40" stroke="#333" stroke-width="1"/>
<line x1="356.70" y1="373.60" x2="364.90" y2="373.60" stroke="#333" stroke-width="1"/>
<text x="368.50" y="525.20" font-size="10.8" text-anchor="middle" >0</text>
<text x="318.00" y="593.30" font-size="10.8" text-anchor="middle" >50</text>
<text transform="translate(332.4,582.9) rotate(-46.5)" font-size="12.0">Scan Time</text>
<text x="100.30" y="348.20" font-size="19.5" text-anchor="start" >c)</text>
<text x="148.30" y="627.00" font-size="14.3" text-anchor="middle" >Wavelength, nm</text>
<line x1="464.50" y1="596.30" x2="470.00" y2="596.30" stroke="#000" stroke-width="1"/>
<text x="461.60" y="599.90" font-size="10.5" text-anchor="end" >-33</text>
<line x1="464.50" y1="555.42" x2="470.00" y2="555.42" stroke="#000" stroke-width="1"/>
<text x="461.60" y="559.02" font-size="10.5" text-anchor="end" >-32</text>
<line x1="464.50" y1="514.53" x2="470.00" y2="514.53" stroke="#000" stroke-width="1"/>
<text x="461.60" y="518.13" font-size="10.5" text-anchor="end" >-31</text>
<line x1="464.50" y1="473.65" x2="470.00" y2="473.65" stroke="#000" stroke-width="1"/>
<text x="461.60" y="477.25" font-size="10.5" text-anchor="end" >-30</text>
<line x1="464.50" y1="432.77" x2="470.00" y2="432.77" stroke="#000" stroke-width="1"/>
<text x="461.60" y="436.37" font-size="10.5" text-anchor="end" >-29</text>
<line x1="464.50" y1="391.88" x2="470.00" y2="391.88" stroke="#000" stroke-width="1"/>
<text x="461.60" y="395.48" font-size="10.5" text-anchor="end" >-28</text>
<line x1="464.50" y1="351.00" x2="470.00" y2="351.00" stroke="#000" stroke-width="1"/>
<text x="461.60" y="354.60" font-size="10.5" text-anchor="end" >-27</text>
<line x1="467.00" y1="575.86" x2="470.00" y2="575.86" stroke="#000" stroke-width="1"/>
<line x1="467.00" y1="534.98" x2="470.00" y2="534.98" stroke="#000" stroke-width="1"/>
<line x1="467.00" y1="494.09" x2="470.00" y2="494.09" stroke="#000" stroke-width="1"/>
<line x1="467.00" y1="453.21" x2="470.00" y2="453.21" stroke="#000" stroke-width="1"/>
<line x1="467.00" y1="412.32" x2="470.00" y2="412.32" stroke="#000" stroke-width="1"/>
<line x1="467.00" y1="371.44" x2="470.00" y2="371.44" stroke="#000" stroke-width="1"/>
<line x1="470.00" y1="596.30" x2="470.00" y2="600.80" stroke="#000" stroke-width="1"/>
<text x="470.00" y="612.30" font-size="10.5" text-anchor="middle" >0</text>
<line x1="530.50" y1="596.30" x2="530.50" y2="600.80" stroke="#000" stroke-width="1"/>
<text x="530.50" y="612.30" font-size="10.5" text-anchor="middle" >10</text>
<line x1="591.00" y1="596.30" x2="591.00" y2="600.80" stroke="#000" stroke-width="1"/>
<text x="591.00" y="612.30" font-size="10.5" text-anchor="middle" >20</text>
<line x1="651.50" y1="596.30" x2="651.50" y2="600.80" stroke="#000" stroke-width="1"/>
<text x="651.50" y="612.30" font-size="10.5" text-anchor="middle" >30</text>
<line x1="712.00" y1="596.30" x2="712.00" y2="600.80" stroke="#000" stroke-width="1"/>
<text x="712.00" y="612.30" font-size="10.5" text-anchor="middle" >40</text>
<line x1="772.50" y1="596.30" x2="772.50" y2="600.80" stroke="#000" stroke-width="1"/>
<text x="772.50" y="612.30" font-size="10.5" text-anchor="middle" >50</text>
<line x1="500.25" y1="596.30" x2="500.25" y2="598.80" stroke="#000" stroke-width="1"/>
<line x1="560.75" y1="596.30" x2="560.75" y2="598.80" stroke="#000" stroke-width="1"/>
<line x1="621.25" y1="596.30" x2="621.25" y2="598.80" stroke="#000" stroke-width="1"/>
<line x1="681.75" y1="596.30" x2="681.75" y2="598.80" stroke="#000" stroke-width="1"/>
<line x1="742.25" y1="596.30" x2="742.25" y2="598.80" stroke="#000" stroke-width="1"/>
<rect x="470.0" y="351.0" width="302.5" height="245.29999999999995" fill="none" stroke="#000" stroke-width="1"/>
<clipPath id="cd"><rect x="470.0" y="351.0" width="302.5" height="245.29999999999995"/></clipPath>
<g clip-path="url(#cd)">
<polyline points="470.00,389.43 482.10,379.21 494.20,384.12 506.30,369.40 518.40,371.85 530.50,370.22 542.60,369.40 554.70,367.76 566.80,370.62 578.90,368.17 591.00,368.58 603.10,367.76 615.20,369.40 627.30,368.99 639.40,366.54 651.50,368.99 663.60,367.35 675.70,371.44 687.80,370.62 699.90,368.58 712.00,367.35 724.10,369.40 736.20,364.90 748.30,367.35 760.40,367.76 772.50,367.76" fill="none" stroke="#111" stroke-width="0.8"/>
<polyline points="470.00,461.38 482.10,481.83 494.20,481.83 506.30,507.17 518.40,510.44 530.50,519.44 542.60,516.99 554.70,518.62 566.80,521.48 578.90,528.84 591.00,525.57 603.10,532.11 615.20,532.11 627.30,534.57 639.40,536.20 651.50,536.61 663.60,538.25 675.70,543.56 687.80,547.24 699.90,543.15 712.00,550.92 724.10,556.64 736.20,562.78 748.30,550.92 760.40,552.55 772.50,556.23" fill="none" stroke="#111" stroke-width="0.8"/>
<circle cx="470.00" cy="389.43" r="3.7" fill="#111"/>
<circle cx="482.10" cy="379.21" r="3.7" fill="#111"/>
<circle cx="494.20" cy="384.12" r="3.7" fill="#111"/>
<circle cx="506.30" cy="369.40" r="3.7" fill="#111"/>
<circle cx="518.40" cy="371.85" r="3.7" fill="#111"/>
<circle cx="530.50" cy="370.22" r="3.7" fill="#111"/>
<circle cx="542.60" cy="369.40" r="3.7" fill="#111"/>
<circle cx="554.70" cy="367.76" r="3.7" fill="#111"/>
<circle cx="566.80" cy="370.62" r="3.7" fill="#111"/>
<circle cx="578.90" cy="368.17" r="3.7" fill="#111"/>
<circle cx="591.00" cy="368.58" r="3.7" fill="#111"/>
<circle cx="603.10" cy="367.76" r="3.7" fill="#111"/>
<circle cx="615.20" cy="369.40" r="3.7" fill="#111"/>
<circle cx="627.30" cy="368.99" r="3.7" fill="#111"/>
<circle cx="639.40" cy="366.54" r="3.7" fill="#111"/>
<circle cx="651.50" cy="368.99" r="3.7" fill="#111"/>
<circle cx="663.60" cy="367.35" r="3.7" fill="#111"/>
<circle cx="675.70" cy="371.44" r="3.7" fill="#111"/>
<circle cx="687.80" cy="370.62" r="3.7" fill="#111"/>
<circle cx="699.90" cy="368.58" r="3.7" fill="#111"/>
<circle cx="712.00" cy="367.35" r="3.7" fill="#111"/>
<circle cx="724.10" cy="369.40" r="3.7" fill="#111"/>
<circle cx="736.20" cy="364.90" r="3.7" fill="#111"/>
<circle cx="748.30" cy="367.35" r="3.7" fill="#111"/>
<circle cx="760.40" cy="367.76" r="3.7" fill="#111"/>
<circle cx="772.50" cy="367.76" r="3.7" fill="#111"/>
<rect x="466.80" y="458.18" width="6.4" height="6.4" fill="#111"/>
<rect x="478.90" y="478.63" width="6.4" height="6.4" fill="#111"/>
<rect x="491.00" y="478.63" width="6.4" height="6.4" fill="#111"/>
<rect x="503.10" y="503.97" width="6.4" height="6.4" fill="#111"/>
<rect x="515.20" y="507.24" width="6.4" height="6.4" fill="#111"/>
<rect x="527.30" y="516.24" width="6.4" height="6.4" fill="#111"/>
<rect x="539.40" y="513.79" width="6.4" height="6.4" fill="#111"/>
<rect x="551.50" y="515.42" width="6.4" height="6.4" fill="#111"/>
<rect x="563.60" y="518.28" width="6.4" height="6.4" fill="#111"/>
<rect x="575.70" y="525.64" width="6.4" height="6.4" fill="#111"/>
<rect x="587.80" y="522.37" width="6.4" height="6.4" fill="#111"/>
<rect x="599.90" y="528.91" width="6.4" height="6.4" fill="#111"/>
<rect x="612.00" y="528.91" width="6.4" height="6.4" fill="#111"/>
<rect x="624.10" y="531.37" width="6.4" height="6.4" fill="#111"/>
<rect x="636.20" y="533.00" width="6.4" height="6.4" fill="#111"/>
<rect x="648.30" y="533.41" width="6.4" height="6.4" fill="#111"/>
<rect x="660.40" y="535.05" width="6.4" height="6.4" fill="#111"/>
<rect x="672.50" y="540.36" width="6.4" height="6.4" fill="#111"/>
<rect x="684.60" y="544.04" width="6.4" height="6.4" fill="#111"/>
<rect x="696.70" y="539.95" width="6.4" height="6.4" fill="#111"/>
<rect x="708.80" y="547.72" width="6.4" height="6.4" fill="#111"/>
<rect x="720.90" y="553.44" width="6.4" height="6.4" fill="#111"/>
<rect x="733.00" y="559.58" width="6.4" height="6.4" fill="#111"/>
<rect x="745.10" y="547.72" width="6.4" height="6.4" fill="#111"/>
<rect x="757.20" y="549.35" width="6.4" height="6.4" fill="#111"/>
<rect x="769.30" y="553.03" width="6.4" height="6.4" fill="#111"/>
</g>
<line x1="578.50" y1="431.60" x2="604.00" y2="431.60" stroke="#111" stroke-width="0.8"/>
<rect x="588.3" y="428.40000000000003" width="6.4" height="6.4" fill="#111"/>
<line x1="578.50" y1="449.30" x2="604.00" y2="449.30" stroke="#111" stroke-width="0.8"/>
<circle cx="591.5" cy="449.3" r="3.6" fill="#111"/>
<text x="607.00" y="435.20" font-size="11.2">λ</text>
<text x="612.82" y="439.10" font-size="6.6">1</text>
<text x="616.60" y="435.20" font-size="11.2" textLength="47.40" lengthAdjust="spacingAndGlyphs" >=1544nm</text>
<text x="607.00" y="453.00" font-size="11.2">λ</text>
<text x="612.82" y="456.90" font-size="6.6">2</text>
<text x="616.60" y="453.00" font-size="11.2" textLength="47.60" lengthAdjust="spacingAndGlyphs" >=1547nm</text>
<text x="475.30" y="342.00" font-size="18.3" text-anchor="start" >d)</text>
<text transform="translate(415.2,427.6) rotate(-90)" font-size="14.6" text-anchor="middle">Output Power, dBm</text>
<text transform="translate(439.5,481.6) rotate(-90)" font-size="13.2" text-anchor="middle">Output Power, dBm</text>
<text x="621.30" y="630.60" font-size="13.2" text-anchor="middle" >Time, min</text>
</svg></body></html>
